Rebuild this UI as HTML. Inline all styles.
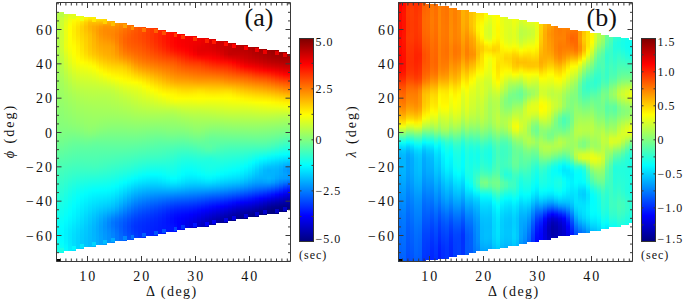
<!DOCTYPE html>
<html><head><meta charset="utf-8"><style>
html,body{margin:0;padding:0;background:#fff}
body{width:685px;height:303px;overflow:hidden;position:relative;font-family:"Liberation Serif",serif}
i{position:absolute;display:block}
.cb{position:absolute;left:299px;top:38px;width:15px;height:204px;box-sizing:border-box;border:1px solid #333;background:linear-gradient(to top,#000080 0.0%,#0000bf 6.2%,#0000ff 12.5%,#0040ff 18.8%,#0080ff 25.0%,#00bfff 31.2%,#00ffff 37.5%,#40ffbf 43.8%,#80ff80 50.0%,#bfff40 56.2%,#ffff00 62.5%,#ffbf00 68.8%,#ff8000 75.0%,#ff4000 81.2%,#ff0000 87.5%,#bf0000 93.8%,#800000 100.0%)}
svg{position:absolute;left:0;top:0}
.t{font-size:14px;fill:#111;letter-spacing:2px}
.p{font-size:26px;fill:#111}
.s{font-size:12px;fill:#111;letter-spacing:1px}
.blk{position:absolute;width:4px;height:2px;background:#000}
</style></head><body>
<i style="left:56px;top:12px;width:4px;height:241px;background:linear-gradient(#b3ff4c -1.5px,#b6ff49 2.5px,#b7ff48 6.5px,#b6ff49 10.5px,#b3ff4c 14.5px,#b0ff4f 18.5px,#b2ff4d 22.5px,#b3ff4c 26.5px,#b2ff4d 30.5px,#b0ff4f 34.5px,#b0ff4f 38.5px,#aeff51 42.5px,#abff54 46.5px,#a7ff58 50.5px,#a5ff5a 54.5px,#a3ff5c 58.5px,#a1ff5e 62.5px,#9eff61 66.5px,#9cff63 70.5px,#9aff65 74.5px,#97ff68 78.5px,#95ff6a 82.5px,#93ff6c 86.5px,#91ff6e 90.5px,#8eff71 94.5px,#8cff73 98.5px,#8aff75 102.5px,#88ff77 106.5px,#86ff79 110.5px,#84ff7b 114.5px,#81ff7e 118.5px,#7dff82 122.5px,#79ff86 126.5px,#73ff8c 130.5px,#6dff92 134.5px,#66ff99 138.5px,#60ff9f 142.5px,#59ffa6 146.5px,#53ffac 150.5px,#4dffb2 154.5px,#48ffb7 158.5px,#43ffbc 162.5px,#3effc1 166.5px,#3affc5 170.5px,#35ffca 174.5px,#31ffce 178.5px,#2cffd3 182.5px,#27ffd8 186.5px,#22ffdd 190.5px,#1dffe2 194.5px,#19ffe6 198.5px,#14ffeb 202.5px,#10ffef 206.5px,#0cfff3 210.5px,#09fff6 214.5px,#07fff8 218.5px,#06fff9 222.5px,#08fff7 226.5px,#0dfff2 230.5px,#13ffec 234.5px,#18ffe7 238.5px,#1cffe3 242.5px)"></i>
<i style="left:60px;top:12px;width:4px;height:241px;background:linear-gradient(#baff45 -1.5px,#c2ff3d 2.5px,#c8ff37 6.5px,#ccff33 10.5px,#cdff32 14.5px,#cdff32 18.5px,#ceff31 22.5px,#ceff31 26.5px,#cfff30 30.5px,#ceff31 34.5px,#cbff34 38.5px,#c6ff39 42.5px,#c1ff3e 46.5px,#bcff43 50.5px,#b7ff48 54.5px,#b2ff4d 58.5px,#aeff51 62.5px,#a9ff56 66.5px,#a5ff5a 70.5px,#a2ff5d 74.5px,#9fff60 78.5px,#9cff63 82.5px,#99ff66 86.5px,#96ff69 90.5px,#93ff6c 94.5px,#90ff6f 98.5px,#8dff72 102.5px,#8bff74 106.5px,#88ff77 110.5px,#85ff7a 114.5px,#81ff7e 118.5px,#7dff82 122.5px,#77ff88 126.5px,#71ff8e 130.5px,#6aff95 134.5px,#64ff9b 138.5px,#5dffa2 142.5px,#57ffa8 146.5px,#50ffaf 150.5px,#4affb5 154.5px,#45ffba 158.5px,#3fffc0 162.5px,#3affc5 166.5px,#34ffcb 170.5px,#2fffd0 174.5px,#2affd5 178.5px,#25ffda 182.5px,#20ffdf 186.5px,#1bffe4 190.5px,#16ffe9 194.5px,#11ffee 198.5px,#0dfff2 202.5px,#08fff7 206.5px,#04fffb 210.5px,#00ffff 214.5px,#00fcff 218.5px,#00fbff 222.5px,#00fdff 226.5px,#01fffe 230.5px,#07fff8 234.5px,#0cfff3 238.5px,#10ffef 242.5px)"></i>
<i style="left:60px;top:13px;width:4px;height:4px;background:#b9ff46"></i>
<i style="left:60px;top:248px;width:4px;height:4px;background:#1cffe3"></i>
<i style="left:64px;top:14px;width:4px;height:237px;background:linear-gradient(#c0ff3f -3.5px,#ceff31 0.5px,#daff25 4.5px,#e3ff1c 8.5px,#e8ff17 12.5px,#ebff14 16.5px,#e9ff16 20.5px,#e9ff16 24.5px,#eaff15 28.5px,#ebff14 32.5px,#e5ff1a 36.5px,#ddff22 40.5px,#d6ff29 44.5px,#d0ff2f 48.5px,#c9ff36 52.5px,#c2ff3d 56.5px,#bbff44 60.5px,#b5ff4a 64.5px,#afff50 68.5px,#aaff55 72.5px,#a6ff59 76.5px,#a2ff5d 80.5px,#9eff61 84.5px,#9aff65 88.5px,#97ff68 92.5px,#94ff6b 96.5px,#91ff6e 100.5px,#8eff71 104.5px,#8aff75 108.5px,#86ff79 112.5px,#81ff7e 116.5px,#7bff84 120.5px,#75ff8a 124.5px,#6eff91 128.5px,#67ff98 132.5px,#61ff9e 136.5px,#5affa5 140.5px,#54ffab 144.5px,#4effb1 148.5px,#47ffb8 152.5px,#41ffbe 156.5px,#3bffc4 160.5px,#35ffca 164.5px,#2fffd0 168.5px,#29ffd6 172.5px,#23ffdc 176.5px,#1dffe2 180.5px,#18ffe7 184.5px,#13ffec 188.5px,#0ffff0 192.5px,#0afff5 196.5px,#06fff9 200.5px,#01fffe 204.5px,#00fbff 208.5px,#00f7ff 212.5px,#00f3ff 216.5px,#00f2ff 220.5px,#00f2ff 224.5px,#00f4ff 228.5px,#00f9ff 232.5px,#00fdff 236.5px,#02fffd 240.5px)"></i>
<i style="left:68px;top:14px;width:4px;height:237px;background:linear-gradient(#c7ff38 -3.5px,#dbff24 0.5px,#ecff13 4.5px,#f7ff08 8.5px,#feff01 12.5px,#fffe00 16.5px,#ffff00 20.5px,#fdff02 24.5px,#fcff03 28.5px,#faff05 32.5px,#f5ff0a 36.5px,#efff10 40.5px,#e8ff17 44.5px,#e1ff1e 48.5px,#d9ff26 52.5px,#d0ff2f 56.5px,#c8ff37 60.5px,#c0ff3f 64.5px,#b9ff46 68.5px,#b2ff4d 72.5px,#adff52 76.5px,#a7ff58 80.5px,#a3ff5c 84.5px,#9fff60 88.5px,#9bff64 92.5px,#97ff68 96.5px,#94ff6b 100.5px,#90ff6f 104.5px,#8dff72 108.5px,#88ff77 112.5px,#82ff7d 116.5px,#7aff85 120.5px,#73ff8c 124.5px,#6bff94 128.5px,#64ff9b 132.5px,#5effa1 136.5px,#58ffa7 140.5px,#52ffad 144.5px,#4cffb3 148.5px,#45ffba 152.5px,#3effc1 156.5px,#38ffc7 160.5px,#31ffce 164.5px,#29ffd6 168.5px,#22ffdd 172.5px,#1bffe4 176.5px,#15ffea 180.5px,#10ffef 184.5px,#0bfff4 188.5px,#07fff8 192.5px,#03fffc 196.5px,#00feff 200.5px,#00f9ff 204.5px,#00f4ff 208.5px,#00efff 212.5px,#00eaff 216.5px,#00e8ff 220.5px,#00e7ff 224.5px,#00e8ff 228.5px,#00ebff 232.5px,#00efff 236.5px,#00f3ff 240.5px)"></i>
<i style="left:72px;top:14px;width:4px;height:237px;background:linear-gradient(#caff35 -3.5px,#e6ff19 0.5px,#faff05 4.5px,#fff700 8.5px,#fff000 12.5px,#ffee00 16.5px,#ffef00 20.5px,#fff200 24.5px,#fff700 28.5px,#fffc00 32.5px,#fffe00 36.5px,#fcff03 40.5px,#f6ff09 44.5px,#efff10 48.5px,#e6ff19 52.5px,#dcff23 56.5px,#d2ff2d 60.5px,#caff35 64.5px,#c2ff3d 68.5px,#baff45 72.5px,#b3ff4c 76.5px,#acff53 80.5px,#a7ff58 84.5px,#a2ff5d 88.5px,#9eff61 92.5px,#9bff64 96.5px,#97ff68 100.5px,#93ff6c 104.5px,#8fff70 108.5px,#8aff75 112.5px,#83ff7c 116.5px,#7aff85 120.5px,#71ff8e 124.5px,#69ff96 128.5px,#62ff9d 132.5px,#5cffa3 136.5px,#56ffa9 140.5px,#50ffaf 144.5px,#4affb5 148.5px,#43ffbc 152.5px,#3cffc3 156.5px,#35ffca 160.5px,#2dffd2 164.5px,#25ffda 168.5px,#1dffe2 172.5px,#15ffea 176.5px,#0efff1 180.5px,#09fff6 184.5px,#04fffb 188.5px,#00feff 192.5px,#00faff 196.5px,#00f6ff 200.5px,#00f2ff 204.5px,#00ecff 208.5px,#00e6ff 212.5px,#00e2ff 216.5px,#00deff 220.5px,#00ddff 224.5px,#00ddff 228.5px,#00dfff 232.5px,#00e3ff 236.5px,#00e6ff 240.5px)"></i>
<i style="left:72px;top:15px;width:4px;height:4px;background:#e2ff1d"></i>
<i style="left:72px;top:246px;width:4px;height:4px;background:#00f8ff"></i>
<i style="left:76px;top:16px;width:4px;height:233px;background:linear-gradient(#e2ff1d -1.5px,#fdff02 2.5px,#ffed00 6.5px,#ffe200 10.5px,#ffdf00 14.5px,#ffe100 18.5px,#ffe600 22.5px,#ffeb00 26.5px,#fff000 30.5px,#fff300 34.5px,#fff700 38.5px,#fffd00 42.5px,#f9ff06 46.5px,#eeff11 50.5px,#e3ff1c 54.5px,#d9ff26 58.5px,#d0ff2f 62.5px,#c7ff38 66.5px,#bfff40 70.5px,#b7ff48 74.5px,#b0ff4f 78.5px,#abff54 82.5px,#a6ff59 86.5px,#a2ff5d 90.5px,#9eff61 94.5px,#9aff65 98.5px,#96ff69 102.5px,#92ff6d 106.5px,#8cff73 110.5px,#85ff7a 114.5px,#7cff83 118.5px,#72ff8d 122.5px,#69ff96 126.5px,#61ff9e 130.5px,#5bffa4 134.5px,#55ffaa 138.5px,#4fffb0 142.5px,#49ffb6 146.5px,#42ffbd 150.5px,#3bffc4 154.5px,#33ffcc 158.5px,#2affd5 162.5px,#21ffde 166.5px,#18ffe7 170.5px,#0ffff0 174.5px,#08fff7 178.5px,#02fffd 182.5px,#00fcff 186.5px,#00f7ff 190.5px,#00f2ff 194.5px,#00eeff 198.5px,#00e9ff 202.5px,#00e3ff 206.5px,#00deff 210.5px,#00d9ff 214.5px,#00d6ff 218.5px,#00d4ff 222.5px,#00d3ff 226.5px,#00d5ff 230.5px,#00d8ff 234.5px)"></i>
<i style="left:80px;top:16px;width:4px;height:233px;background:linear-gradient(#d9ff26 -1.5px,#ffff00 2.5px,#ffe100 6.5px,#ffd300 10.5px,#ffd100 14.5px,#ffd500 18.5px,#ffd900 22.5px,#ffde00 26.5px,#ffe200 30.5px,#ffe500 34.5px,#ffeb00 38.5px,#fff300 42.5px,#ffff00 46.5px,#f3ff0c 50.5px,#e7ff18 54.5px,#ddff22 58.5px,#d3ff2c 62.5px,#caff35 66.5px,#c2ff3d 70.5px,#baff45 74.5px,#b4ff4b 78.5px,#aeff51 82.5px,#a9ff56 86.5px,#a4ff5b 90.5px,#a0ff5f 94.5px,#9cff63 98.5px,#98ff67 102.5px,#94ff6b 106.5px,#8fff70 110.5px,#88ff77 114.5px,#7fff80 118.5px,#74ff8b 122.5px,#6aff95 126.5px,#61ff9e 130.5px,#5affa5 134.5px,#54ffab 138.5px,#4fffb0 142.5px,#48ffb7 146.5px,#42ffbd 150.5px,#3affc5 154.5px,#31ffce 158.5px,#28ffd7 162.5px,#1effe1 166.5px,#14ffeb 170.5px,#0bfff4 174.5px,#03fffc 178.5px,#00fbff 182.5px,#00f5ff 186.5px,#00efff 190.5px,#00eaff 194.5px,#00e5ff 198.5px,#00dfff 202.5px,#00daff 206.5px,#00d5ff 210.5px,#00d0ff 214.5px,#00cdff 218.5px,#00ccff 222.5px,#00cbff 226.5px,#00ccff 230.5px,#00ceff 234.5px)"></i>
<i style="left:80px;top:17px;width:4px;height:4px;background:#edff12"></i>
<i style="left:80px;top:244px;width:4px;height:4px;background:#00e7ff"></i>
<i style="left:84px;top:17px;width:4px;height:230px;background:linear-gradient(#deff21 -2.5px,#fff300 1.5px,#ffd000 5.5px,#ffc200 9.5px,#ffc300 13.5px,#ffc900 17.5px,#ffce00 21.5px,#ffd100 25.5px,#ffd300 29.5px,#ffd700 33.5px,#ffde00 37.5px,#ffea00 41.5px,#fffa00 45.5px,#f6ff09 49.5px,#eaff15 53.5px,#dfff20 57.5px,#d5ff2a 61.5px,#ccff33 65.5px,#c4ff3b 69.5px,#bcff43 73.5px,#b6ff49 77.5px,#b0ff4f 81.5px,#abff54 85.5px,#a6ff59 89.5px,#a2ff5d 93.5px,#9eff61 97.5px,#9aff65 101.5px,#97ff68 105.5px,#92ff6d 109.5px,#8cff73 113.5px,#82ff7d 117.5px,#76ff89 121.5px,#6bff94 125.5px,#62ff9d 129.5px,#5affa5 133.5px,#54ffab 137.5px,#4fffb0 141.5px,#49ffb6 145.5px,#42ffbd 149.5px,#3affc5 153.5px,#30ffcf 157.5px,#26ffd9 161.5px,#1cffe3 165.5px,#11ffee 169.5px,#07fff8 173.5px,#00fdff 177.5px,#00f6ff 181.5px,#00efff 185.5px,#00e8ff 189.5px,#00e2ff 193.5px,#00dbff 197.5px,#00d5ff 201.5px,#00d0ff 205.5px,#00cbff 209.5px,#00c8ff 213.5px,#00c6ff 217.5px,#00c4ff 221.5px,#00c4ff 225.5px,#00c5ff 229.5px,#00c6ff 233.5px)"></i>
<i style="left:88px;top:17px;width:4px;height:230px;background:linear-gradient(#e3ff1c -2.5px,#ffe800 1.5px,#ffbe00 5.5px,#ffb300 9.5px,#ffb600 13.5px,#ffbe00 17.5px,#ffc100 21.5px,#ffc400 25.5px,#ffc600 29.5px,#ffca00 33.5px,#ffd100 37.5px,#ffe100 41.5px,#fff400 45.5px,#faff05 49.5px,#eeff11 53.5px,#e2ff1d 57.5px,#d7ff28 61.5px,#cdff32 65.5px,#c5ff3a 69.5px,#bdff42 73.5px,#b7ff48 77.5px,#b2ff4d 81.5px,#acff53 85.5px,#a7ff58 89.5px,#a3ff5c 93.5px,#9fff60 97.5px,#9bff64 101.5px,#98ff67 105.5px,#94ff6b 109.5px,#8eff71 113.5px,#84ff7b 117.5px,#76ff89 121.5px,#6aff95 125.5px,#61ff9e 129.5px,#5affa5 133.5px,#54ffab 137.5px,#4fffb0 141.5px,#49ffb6 145.5px,#42ffbd 149.5px,#3affc5 153.5px,#30ffcf 157.5px,#25ffda 161.5px,#1affe5 165.5px,#0ffff0 169.5px,#04fffb 173.5px,#00f9ff 177.5px,#00f1ff 181.5px,#00e9ff 185.5px,#00e1ff 189.5px,#00daff 193.5px,#00d2ff 197.5px,#00cbff 201.5px,#00c6ff 205.5px,#00c1ff 209.5px,#00bfff 213.5px,#00beff 217.5px,#00bdff 221.5px,#00bdff 225.5px,#00bdff 229.5px,#00beff 233.5px)"></i>
<i style="left:92px;top:17px;width:4px;height:230px;background:linear-gradient(#e3ff1c -2.5px,#ffea00 1.5px,#ffbe00 5.5px,#ffab00 9.5px,#ffa900 13.5px,#ffaf00 17.5px,#ffb300 21.5px,#ffb700 25.5px,#ffba00 29.5px,#ffbf00 33.5px,#ffc700 37.5px,#ffd700 41.5px,#ffeb00 45.5px,#fffc00 49.5px,#f4ff0b 53.5px,#e7ff18 57.5px,#dbff24 61.5px,#cfff30 65.5px,#c6ff39 69.5px,#beff41 73.5px,#b8ff47 77.5px,#b2ff4d 81.5px,#adff52 85.5px,#a8ff57 89.5px,#a4ff5b 93.5px,#a0ff5f 97.5px,#9cff63 101.5px,#98ff67 105.5px,#93ff6c 109.5px,#8cff73 113.5px,#82ff7d 117.5px,#74ff8b 121.5px,#68ff97 125.5px,#60ff9f 129.5px,#59ffa6 133.5px,#54ffab 137.5px,#4fffb0 141.5px,#49ffb6 145.5px,#43ffbc 149.5px,#3affc5 153.5px,#30ffcf 157.5px,#24ffdb 161.5px,#19ffe6 165.5px,#0dfff2 169.5px,#01fffe 173.5px,#00f6ff 177.5px,#00edff 181.5px,#00e4ff 185.5px,#00dbff 189.5px,#00d2ff 193.5px,#00c9ff 197.5px,#00c1ff 201.5px,#00bbff 205.5px,#00b7ff 209.5px,#00b5ff 213.5px,#00b5ff 217.5px,#00b6ff 221.5px,#00b6ff 225.5px,#00b6ff 229.5px,#00b6ff 233.5px)"></i>
<i style="left:92px;top:18px;width:4px;height:4px;background:#ffeb00"></i>
<i style="left:92px;top:242px;width:4px;height:4px;background:#00d4ff"></i>
<i style="left:96px;top:19px;width:3px;height:226px;background:linear-gradient(#ffec00 -0.5px,#ffbf00 3.5px,#ffa400 7.5px,#ff9d00 11.5px,#ffa000 15.5px,#ffa600 19.5px,#ffab00 23.5px,#ffb000 27.5px,#ffb600 31.5px,#ffbf00 35.5px,#ffcd00 39.5px,#ffe000 43.5px,#fff200 47.5px,#fcff03 51.5px,#edff12 55.5px,#dfff20 59.5px,#d2ff2d 63.5px,#c7ff38 67.5px,#beff41 71.5px,#b8ff47 75.5px,#b2ff4d 79.5px,#adff52 83.5px,#a9ff56 87.5px,#a4ff5b 91.5px,#a0ff5f 95.5px,#9cff63 99.5px,#97ff68 103.5px,#91ff6e 107.5px,#89ff76 111.5px,#7fff80 115.5px,#72ff8d 119.5px,#67ff98 123.5px,#5fffa0 127.5px,#59ffa6 131.5px,#54ffab 135.5px,#4effb1 139.5px,#49ffb6 143.5px,#42ffbd 147.5px,#39ffc6 151.5px,#2fffd0 155.5px,#23ffdc 159.5px,#18ffe7 163.5px,#0cfff3 167.5px,#00ffff 171.5px,#00f4ff 175.5px,#00eaff 179.5px,#00e1ff 183.5px,#00d6ff 187.5px,#00cbff 191.5px,#00c0ff 195.5px,#00b7ff 199.5px,#00b0ff 203.5px,#00acff 207.5px,#00abff 211.5px,#00acff 215.5px,#00adff 219.5px,#00adff 223.5px,#00adff 227.5px)"></i>
<i style="left:99px;top:19px;width:4px;height:226px;background:linear-gradient(#ffeb00 -0.5px,#ffbb00 3.5px,#ff9b00 7.5px,#ff9200 11.5px,#ff9400 15.5px,#ff9b00 19.5px,#ffa200 23.5px,#ffa900 27.5px,#ffaf00 31.5px,#ffb700 35.5px,#ffc400 39.5px,#ffd500 43.5px,#ffe700 47.5px,#fff900 51.5px,#f4ff0b 55.5px,#e4ff1b 59.5px,#d5ff2a 63.5px,#c9ff36 67.5px,#bfff40 71.5px,#b8ff47 75.5px,#b2ff4d 79.5px,#adff52 83.5px,#a9ff56 87.5px,#a4ff5b 91.5px,#a0ff5f 95.5px,#9bff64 99.5px,#95ff6a 103.5px,#8fff70 107.5px,#87ff78 111.5px,#7cff83 115.5px,#72ff8d 119.5px,#68ff97 123.5px,#60ff9f 127.5px,#59ffa6 131.5px,#53ffac 135.5px,#4dffb2 139.5px,#47ffb8 143.5px,#40ffbf 147.5px,#37ffc8 151.5px,#2dffd2 155.5px,#22ffdd 159.5px,#17ffe8 163.5px,#0bfff4 167.5px,#00feff 171.5px,#00f3ff 175.5px,#00e9ff 179.5px,#00ddff 183.5px,#00d2ff 187.5px,#00c5ff 191.5px,#00b7ff 195.5px,#00acff 199.5px,#00a4ff 203.5px,#00a0ff 207.5px,#00a0ff 211.5px,#00a2ff 215.5px,#00a4ff 219.5px,#00a4ff 223.5px,#00a5ff 227.5px)"></i>
<i style="left:103px;top:19px;width:4px;height:226px;background:linear-gradient(#ffe300 -0.5px,#ffb200 3.5px,#ff9200 7.5px,#ff8b00 11.5px,#ff8d00 15.5px,#ff9400 19.5px,#ff9d00 23.5px,#ffa500 27.5px,#ffaa00 31.5px,#ffb000 35.5px,#ffbd00 39.5px,#ffcd00 43.5px,#ffdf00 47.5px,#fff100 51.5px,#fcff03 55.5px,#eaff15 59.5px,#d9ff26 63.5px,#cbff34 67.5px,#c0ff3f 71.5px,#b8ff47 75.5px,#b2ff4d 79.5px,#aeff51 83.5px,#a9ff56 87.5px,#a5ff5a 91.5px,#a0ff5f 95.5px,#9aff65 99.5px,#94ff6b 103.5px,#8dff72 107.5px,#85ff7a 111.5px,#7bff84 115.5px,#71ff8e 119.5px,#68ff97 123.5px,#60ff9f 127.5px,#59ffa6 131.5px,#52ffad 135.5px,#4cffb3 139.5px,#45ffba 143.5px,#3effc1 147.5px,#35ffca 151.5px,#2bffd4 155.5px,#20ffdf 159.5px,#15ffea 163.5px,#0afff5 167.5px,#00fdff 171.5px,#00f2ff 175.5px,#00e6ff 179.5px,#00daff 183.5px,#00cdff 187.5px,#00beff 191.5px,#00aeff 195.5px,#009fff 199.5px,#0096ff 203.5px,#0093ff 207.5px,#0095ff 211.5px,#0098ff 215.5px,#009aff 219.5px,#009bff 223.5px,#009bff 227.5px)"></i>
<i style="left:103px;top:20px;width:4px;height:4px;background:#ffd200"></i>
<i style="left:103px;top:240px;width:4px;height:4px;background:#00bdff"></i>
<i style="left:107px;top:21px;width:4px;height:222px;background:linear-gradient(#ffd300 -2.5px,#ffad00 1.5px,#ff9300 5.5px,#ff8900 9.5px,#ff8900 13.5px,#ff9000 17.5px,#ff9a00 21.5px,#ffa300 25.5px,#ffa800 29.5px,#ffad00 33.5px,#ffb700 37.5px,#ffc700 41.5px,#ffd800 45.5px,#ffea00 49.5px,#fffb00 53.5px,#f1ff0e 57.5px,#deff21 61.5px,#ceff31 65.5px,#c1ff3e 69.5px,#b9ff46 73.5px,#b4ff4b 77.5px,#afff50 81.5px,#aaff55 85.5px,#a5ff5a 89.5px,#a0ff5f 93.5px,#9aff65 97.5px,#93ff6c 101.5px,#8cff73 105.5px,#83ff7c 109.5px,#7aff85 113.5px,#71ff8e 117.5px,#68ff97 121.5px,#60ff9f 125.5px,#59ffa6 129.5px,#52ffad 133.5px,#4bffb4 137.5px,#44ffbb 141.5px,#3bffc4 145.5px,#33ffcc 149.5px,#29ffd6 153.5px,#1effe1 157.5px,#13ffec 161.5px,#08fff7 165.5px,#00fbff 169.5px,#00efff 173.5px,#00e3ff 177.5px,#00d6ff 181.5px,#00c8ff 185.5px,#00b7ff 189.5px,#00a3ff 193.5px,#0091ff 197.5px,#0086ff 201.5px,#0085ff 205.5px,#008aff 209.5px,#008eff 213.5px,#0090ff 217.5px,#0091ff 221.5px,#0091ff 225.5px)"></i>
<i style="left:111px;top:21px;width:4px;height:222px;background:linear-gradient(#ffc600 -2.5px,#ffa800 1.5px,#ff9300 5.5px,#ff8800 9.5px,#ff8500 13.5px,#ff8900 17.5px,#ff9300 21.5px,#ff9e00 25.5px,#ffa200 29.5px,#ffa700 33.5px,#ffb200 37.5px,#ffc100 41.5px,#ffd400 45.5px,#ffe500 49.5px,#fff500 53.5px,#f7ff08 57.5px,#e4ff1b 61.5px,#d2ff2d 65.5px,#c4ff3b 69.5px,#bcff43 73.5px,#b6ff49 77.5px,#b1ff4e 81.5px,#acff53 85.5px,#a6ff59 89.5px,#a0ff5f 93.5px,#9aff65 97.5px,#93ff6c 101.5px,#8bff74 105.5px,#83ff7c 109.5px,#7aff85 113.5px,#71ff8e 117.5px,#68ff97 121.5px,#60ff9f 125.5px,#58ffa7 129.5px,#51ffae 133.5px,#4affb5 137.5px,#42ffbd 141.5px,#39ffc6 145.5px,#30ffcf 149.5px,#26ffd9 153.5px,#1bffe4 157.5px,#0ffff0 161.5px,#04fffb 165.5px,#00f7ff 169.5px,#00eaff 173.5px,#00ddff 177.5px,#00cfff 181.5px,#00c1ff 185.5px,#00afff 189.5px,#0098ff 193.5px,#0083ff 197.5px,#0076ff 201.5px,#0077ff 205.5px,#007eff 209.5px,#0083ff 213.5px,#0085ff 217.5px,#0086ff 221.5px,#0086ff 225.5px)"></i>
<i style="left:111px;top:22px;width:4px;height:4px;background:#ffbf00"></i>
<i style="left:111px;top:238px;width:4px;height:4px;background:#00abff"></i>
<i style="left:115px;top:23px;width:4px;height:218px;background:linear-gradient(#ff9f00 -0.5px,#ff8d00 3.5px,#ff8100 7.5px,#ff7c00 11.5px,#ff7e00 15.5px,#ff8400 19.5px,#ff8d00 23.5px,#ff9400 27.5px,#ff9c00 31.5px,#ffaa00 35.5px,#ffbd00 39.5px,#ffd100 43.5px,#ffe200 47.5px,#fff200 51.5px,#fcff03 55.5px,#eaff15 59.5px,#d9ff26 63.5px,#caff35 67.5px,#c0ff3f 71.5px,#b9ff46 75.5px,#b3ff4c 79.5px,#adff52 83.5px,#a7ff58 87.5px,#a1ff5e 91.5px,#9aff65 95.5px,#93ff6c 99.5px,#8bff74 103.5px,#83ff7c 107.5px,#7aff85 111.5px,#71ff8e 115.5px,#68ff97 119.5px,#60ff9f 123.5px,#58ffa7 127.5px,#50ffaf 131.5px,#48ffb7 135.5px,#40ffbf 139.5px,#37ffc8 143.5px,#2dffd2 147.5px,#22ffdd 151.5px,#17ffe8 155.5px,#0bfff4 159.5px,#00fdff 163.5px,#00f0ff 167.5px,#00e2ff 171.5px,#00d3ff 175.5px,#00c4ff 179.5px,#00b5ff 183.5px,#00a2ff 187.5px,#008bff 191.5px,#0077ff 195.5px,#006bff 199.5px,#006aff 203.5px,#0070ff 207.5px,#0075ff 211.5px,#0078ff 215.5px,#0079ff 219.5px)"></i>
<i style="left:119px;top:23px;width:4px;height:218px;background:linear-gradient(#ff9400 -0.5px,#ff8300 3.5px,#ff7800 7.5px,#ff7100 11.5px,#ff7000 15.5px,#ff7200 19.5px,#ff7a00 23.5px,#ff8200 27.5px,#ff8d00 31.5px,#ff9f00 35.5px,#ffb700 39.5px,#ffcf00 43.5px,#ffe000 47.5px,#ffee00 51.5px,#fffd00 55.5px,#f1ff0e 59.5px,#dfff20 63.5px,#d0ff2f 67.5px,#c5ff3a 71.5px,#bdff42 75.5px,#b6ff49 79.5px,#afff50 83.5px,#a9ff56 87.5px,#a2ff5d 91.5px,#9bff64 95.5px,#93ff6c 99.5px,#8bff74 103.5px,#83ff7c 107.5px,#7aff85 111.5px,#71ff8e 115.5px,#68ff97 119.5px,#60ff9f 123.5px,#58ffa7 127.5px,#4fffb0 131.5px,#47ffb8 135.5px,#3effc1 139.5px,#35ffca 143.5px,#2affd5 147.5px,#1fffe0 151.5px,#12ffed 155.5px,#05fffa 159.5px,#00f5ff 163.5px,#00e6ff 167.5px,#00d7ff 171.5px,#00c7ff 175.5px,#00b7ff 179.5px,#00a5ff 183.5px,#0092ff 187.5px,#007eff 191.5px,#006cff 195.5px,#0061ff 199.5px,#005eff 203.5px,#0061ff 207.5px,#0066ff 211.5px,#006aff 215.5px,#006dff 219.5px)"></i>
<i style="left:123px;top:23px;width:4px;height:218px;background:linear-gradient(#ff8900 -0.5px,#ff7900 3.5px,#ff6e00 7.5px,#ff6700 11.5px,#ff6300 15.5px,#ff6400 19.5px,#ff6b00 23.5px,#ff7400 27.5px,#ff8100 31.5px,#ff9500 35.5px,#ffae00 39.5px,#ffc700 43.5px,#ffda00 47.5px,#ffe900 51.5px,#fff800 55.5px,#f5ff0a 59.5px,#e4ff1b 63.5px,#d6ff29 67.5px,#caff35 71.5px,#c0ff3f 75.5px,#b9ff46 79.5px,#b2ff4d 83.5px,#abff54 87.5px,#a3ff5c 91.5px,#9cff63 95.5px,#94ff6b 99.5px,#8cff73 103.5px,#83ff7c 107.5px,#7aff85 111.5px,#71ff8e 115.5px,#68ff97 119.5px,#60ff9f 123.5px,#57ffa8 127.5px,#4effb1 131.5px,#45ffba 135.5px,#3cffc3 139.5px,#32ffcd 143.5px,#27ffd8 147.5px,#1bffe4 151.5px,#0dfff2 155.5px,#00fdff 159.5px,#00edff 163.5px,#00dcff 167.5px,#00cbff 171.5px,#00baff 175.5px,#00a8ff 179.5px,#0096ff 183.5px,#0083ff 187.5px,#0070ff 191.5px,#0060ff 195.5px,#0055ff 199.5px,#0051ff 203.5px,#0053ff 207.5px,#0058ff 211.5px,#005dff 215.5px,#0060ff 219.5px)"></i>
<i style="left:123px;top:24px;width:4px;height:4px;background:#ffa100"></i>
<i style="left:123px;top:236px;width:4px;height:4px;background:#0088ff"></i>
<i style="left:127px;top:25px;width:4px;height:215px;background:linear-gradient(#ff7e00 -2.5px,#ff6f00 1.5px,#ff6500 5.5px,#ff5e00 9.5px,#ff5b00 13.5px,#ff5c00 17.5px,#ff6200 21.5px,#ff6c00 25.5px,#ff7900 29.5px,#ff8c00 33.5px,#ffa300 37.5px,#ffbb00 41.5px,#ffd000 45.5px,#ffe200 49.5px,#fff400 53.5px,#f9ff06 57.5px,#e8ff17 61.5px,#daff25 65.5px,#ceff31 69.5px,#c4ff3b 73.5px,#bcff43 77.5px,#b4ff4b 81.5px,#adff52 85.5px,#a5ff5a 89.5px,#9dff62 93.5px,#95ff6a 97.5px,#8dff72 101.5px,#84ff7b 105.5px,#7bff84 109.5px,#71ff8e 113.5px,#68ff97 117.5px,#5fffa0 121.5px,#56ffa9 125.5px,#4dffb2 129.5px,#44ffbb 133.5px,#3affc5 137.5px,#30ffcf 141.5px,#24ffdb 145.5px,#17ffe8 149.5px,#08fff7 153.5px,#00f6ff 157.5px,#00e4ff 161.5px,#00d2ff 165.5px,#00bfff 169.5px,#00adff 173.5px,#009bff 177.5px,#0088ff 181.5px,#0075ff 185.5px,#0063ff 189.5px,#0054ff 193.5px,#0049ff 197.5px,#0045ff 201.5px,#0047ff 205.5px,#004cff 209.5px,#0051ff 213.5px,#0055ff 217.5px)"></i>
<i style="left:131px;top:25px;width:3px;height:215px;background:linear-gradient(#ff7300 -2.5px,#ff6600 1.5px,#ff5d00 5.5px,#ff5700 9.5px,#ff5500 13.5px,#ff5800 17.5px,#ff5d00 21.5px,#ff6600 25.5px,#ff7300 29.5px,#ff8300 33.5px,#ff9700 37.5px,#ffae00 41.5px,#ffc400 45.5px,#ffda00 49.5px,#ffee00 53.5px,#fcff03 57.5px,#ebff14 61.5px,#ddff22 65.5px,#d2ff2d 69.5px,#c8ff37 73.5px,#c0ff3f 77.5px,#b7ff48 81.5px,#afff50 85.5px,#a7ff58 89.5px,#9fff60 93.5px,#96ff69 97.5px,#8dff72 101.5px,#84ff7b 105.5px,#7bff84 109.5px,#71ff8e 113.5px,#68ff97 117.5px,#5effa1 121.5px,#55ffaa 125.5px,#4cffb3 129.5px,#42ffbd 133.5px,#38ffc7 137.5px,#2dffd2 141.5px,#21ffde 145.5px,#13ffec 149.5px,#03fffc 153.5px,#00f0ff 157.5px,#00dcff 161.5px,#00c8ff 165.5px,#00b4ff 169.5px,#00a1ff 173.5px,#008eff 177.5px,#007bff 181.5px,#0069ff 185.5px,#0058ff 189.5px,#0049ff 193.5px,#003fff 197.5px,#0039ff 201.5px,#003cff 205.5px,#0042ff 209.5px,#0046ff 213.5px,#004aff 217.5px)"></i>
<i style="left:131px;top:26px;width:3px;height:4px;background:#ff8d00"></i>
<i style="left:131px;top:235px;width:3px;height:4px;background:#0073ff"></i>
<i style="left:134px;top:27px;width:4px;height:211px;background:linear-gradient(#ff5e00 -0.5px,#ff5600 3.5px,#ff5100 7.5px,#ff5100 11.5px,#ff5400 15.5px,#ff5a00 19.5px,#ff6200 23.5px,#ff6c00 27.5px,#ff7b00 31.5px,#ff8c00 35.5px,#ffa200 39.5px,#ffb900 43.5px,#ffd100 47.5px,#ffe800 51.5px,#fffe00 55.5px,#eeff11 59.5px,#e0ff1f 63.5px,#d6ff29 67.5px,#ccff33 71.5px,#c3ff3c 75.5px,#baff45 79.5px,#b2ff4d 83.5px,#a9ff56 87.5px,#a0ff5f 91.5px,#97ff68 95.5px,#8eff71 99.5px,#85ff7a 103.5px,#7bff84 107.5px,#71ff8e 111.5px,#67ff98 115.5px,#5dffa2 119.5px,#54ffab 123.5px,#4affb5 127.5px,#40ffbf 131.5px,#35ffca 135.5px,#29ffd6 139.5px,#1dffe2 143.5px,#0efff1 147.5px,#00fcff 151.5px,#00e9ff 155.5px,#00d5ff 159.5px,#00c0ff 163.5px,#00acff 167.5px,#0098ff 171.5px,#0084ff 175.5px,#0071ff 179.5px,#005fff 183.5px,#004fff 187.5px,#0041ff 191.5px,#0037ff 195.5px,#0032ff 199.5px,#0033ff 203.5px,#0038ff 207.5px,#003cff 211.5px)"></i>
<i style="left:138px;top:27px;width:4px;height:211px;background:linear-gradient(#ff5500 -0.5px,#ff4e00 3.5px,#ff4b00 7.5px,#ff4b00 11.5px,#ff4f00 15.5px,#ff5600 19.5px,#ff5d00 23.5px,#ff6600 27.5px,#ff7300 31.5px,#ff8300 35.5px,#ff9700 39.5px,#ffaf00 43.5px,#ffc800 47.5px,#ffe100 51.5px,#fff900 55.5px,#f2ff0d 59.5px,#e5ff1a 63.5px,#daff25 67.5px,#d1ff2e 71.5px,#c7ff38 75.5px,#bdff42 79.5px,#b4ff4b 83.5px,#aaff55 87.5px,#a1ff5e 91.5px,#97ff68 95.5px,#8eff71 99.5px,#84ff7b 103.5px,#7aff85 107.5px,#70ff8f 111.5px,#66ff99 115.5px,#5cffa3 119.5px,#52ffad 123.5px,#48ffb7 127.5px,#3effc1 131.5px,#32ffcd 135.5px,#26ffd9 139.5px,#19ffe6 143.5px,#09fff6 147.5px,#00f7ff 151.5px,#00e4ff 155.5px,#00cfff 159.5px,#00baff 163.5px,#00a5ff 167.5px,#0090ff 171.5px,#007cff 175.5px,#0068ff 179.5px,#0057ff 183.5px,#0047ff 187.5px,#003bff 191.5px,#0032ff 195.5px,#002eff 199.5px,#002eff 203.5px,#0030ff 207.5px,#0034ff 211.5px)"></i>
<i style="left:142px;top:27px;width:4px;height:211px;background:linear-gradient(#ff4d00 -0.5px,#ff4700 3.5px,#ff4400 7.5px,#ff4500 11.5px,#ff4800 15.5px,#ff4f00 19.5px,#ff5600 23.5px,#ff6000 27.5px,#ff6c00 31.5px,#ff7c00 35.5px,#ff9000 39.5px,#ffa700 43.5px,#ffc000 47.5px,#ffd900 51.5px,#fff000 55.5px,#fbff04 59.5px,#ecff13 63.5px,#e0ff1f 67.5px,#d5ff2a 71.5px,#caff35 75.5px,#c0ff3f 79.5px,#b5ff4a 83.5px,#abff54 87.5px,#a1ff5e 91.5px,#97ff68 95.5px,#8dff72 99.5px,#83ff7c 103.5px,#79ff86 107.5px,#6fff90 111.5px,#64ff9b 115.5px,#5bffa4 119.5px,#51ffae 123.5px,#47ffb8 127.5px,#3cffc3 131.5px,#30ffcf 135.5px,#23ffdc 139.5px,#15ffea 143.5px,#05fffa 147.5px,#00f3ff 151.5px,#00e0ff 155.5px,#00cbff 159.5px,#00b5ff 163.5px,#009fff 167.5px,#008aff 171.5px,#0075ff 175.5px,#0062ff 179.5px,#0050ff 183.5px,#0041ff 187.5px,#0036ff 191.5px,#002eff 195.5px,#002aff 199.5px,#0029ff 203.5px,#002aff 207.5px,#002cff 211.5px)"></i>
<i style="left:142px;top:28px;width:4px;height:4px;background:#ff7600"></i>
<i style="left:142px;top:233px;width:4px;height:4px;background:#005dff"></i>
<i style="left:146px;top:28px;width:4px;height:208px;background:linear-gradient(#ff4400 -1.5px,#ff3f00 2.5px,#ff3c00 6.5px,#ff3d00 10.5px,#ff4000 14.5px,#ff4600 18.5px,#ff4f00 22.5px,#ff5900 26.5px,#ff6600 30.5px,#ff7600 34.5px,#ff8a00 38.5px,#ffa000 42.5px,#ffb800 46.5px,#ffd000 50.5px,#ffe600 54.5px,#fffa00 58.5px,#f4ff0b 62.5px,#e6ff19 66.5px,#d9ff26 70.5px,#cdff32 74.5px,#c2ff3d 78.5px,#b7ff48 82.5px,#acff53 86.5px,#a1ff5e 90.5px,#97ff68 94.5px,#8dff72 98.5px,#82ff7d 102.5px,#77ff88 106.5px,#6dff92 110.5px,#63ff9c 114.5px,#59ffa6 118.5px,#4fffb0 122.5px,#45ffba 126.5px,#3affc5 130.5px,#2effd1 134.5px,#20ffdf 138.5px,#12ffed 142.5px,#02fffd 146.5px,#00f0ff 150.5px,#00ddff 154.5px,#00c8ff 158.5px,#00b1ff 162.5px,#009bff 166.5px,#0085ff 170.5px,#006fff 174.5px,#005cff 178.5px,#004bff 182.5px,#003cff 186.5px,#0031ff 190.5px,#002aff 194.5px,#0026ff 198.5px,#0025ff 202.5px,#0025ff 206.5px,#0026ff 210.5px)"></i>
<i style="left:150px;top:28px;width:4px;height:208px;background:linear-gradient(#ff3b00 -1.5px,#ff3600 2.5px,#ff3400 6.5px,#ff3400 10.5px,#ff3800 14.5px,#ff3e00 18.5px,#ff4700 22.5px,#ff5200 26.5px,#ff6000 30.5px,#ff7100 34.5px,#ff8400 38.5px,#ff9900 42.5px,#ffb000 46.5px,#ffc700 50.5px,#ffdc00 54.5px,#fff000 58.5px,#fcff03 62.5px,#edff12 66.5px,#deff21 70.5px,#d1ff2e 74.5px,#c4ff3b 78.5px,#b8ff47 82.5px,#acff53 86.5px,#a1ff5e 90.5px,#96ff69 94.5px,#8cff73 98.5px,#81ff7e 102.5px,#76ff89 106.5px,#6bff94 110.5px,#61ff9e 114.5px,#57ffa8 118.5px,#4dffb2 122.5px,#44ffbb 126.5px,#39ffc6 130.5px,#2cffd3 134.5px,#1effe1 138.5px,#10ffef 142.5px,#00ffff 146.5px,#00eeff 150.5px,#00dbff 154.5px,#00c6ff 158.5px,#00afff 162.5px,#0098ff 166.5px,#0080ff 170.5px,#006aff 174.5px,#0056ff 178.5px,#0045ff 182.5px,#0037ff 186.5px,#002dff 190.5px,#0026ff 194.5px,#0023ff 198.5px,#0021ff 202.5px,#0021ff 206.5px,#0021ff 210.5px)"></i>
<i style="left:154px;top:28px;width:4px;height:208px;background:linear-gradient(#ff3200 -1.5px,#ff2e00 2.5px,#ff2b00 6.5px,#ff2b00 10.5px,#ff2e00 14.5px,#ff3500 18.5px,#ff3e00 22.5px,#ff4b00 26.5px,#ff5a00 30.5px,#ff6c00 34.5px,#ff7f00 38.5px,#ff9300 42.5px,#ffa800 46.5px,#ffbe00 50.5px,#ffd300 54.5px,#ffe800 58.5px,#fffa00 62.5px,#f3ff0c 66.5px,#e4ff1b 70.5px,#d5ff2a 74.5px,#c7ff38 78.5px,#b9ff46 82.5px,#acff53 86.5px,#a1ff5e 90.5px,#96ff69 94.5px,#8bff74 98.5px,#80ff7f 102.5px,#75ff8a 106.5px,#69ff96 110.5px,#5fffa0 114.5px,#55ffaa 118.5px,#4cffb3 122.5px,#43ffbc 126.5px,#38ffc7 130.5px,#2bffd4 134.5px,#1dffe2 138.5px,#0ffff0 142.5px,#00ffff 146.5px,#00eeff 150.5px,#00dbff 154.5px,#00c6ff 158.5px,#00aeff 162.5px,#0095ff 166.5px,#007dff 170.5px,#0066ff 174.5px,#0051ff 178.5px,#003fff 182.5px,#0032ff 186.5px,#0028ff 190.5px,#0023ff 194.5px,#0020ff 198.5px,#001eff 202.5px,#001eff 206.5px,#001dff 210.5px)"></i>
<i style="left:154px;top:29px;width:4px;height:4px;background:#ff5f00"></i>
<i style="left:154px;top:231px;width:4px;height:4px;background:#0053ff"></i>
<i style="left:158px;top:30px;width:4px;height:204px;background:linear-gradient(#ff2a00 -3.5px,#ff2500 0.5px,#ff2200 4.5px,#ff2200 8.5px,#ff2500 12.5px,#ff2b00 16.5px,#ff3600 20.5px,#ff4400 24.5px,#ff5400 28.5px,#ff6600 32.5px,#ff7900 36.5px,#ff8d00 40.5px,#ffa100 44.5px,#ffb600 48.5px,#ffcb00 52.5px,#ffe000 56.5px,#fff300 60.5px,#f9ff06 64.5px,#e9ff16 68.5px,#d9ff26 72.5px,#c9ff36 76.5px,#baff45 80.5px,#acff53 84.5px,#a1ff5e 88.5px,#96ff69 92.5px,#8bff74 96.5px,#81ff7e 100.5px,#75ff8a 104.5px,#69ff96 108.5px,#5dffa2 112.5px,#54ffab 116.5px,#4bffb4 120.5px,#42ffbd 124.5px,#37ffc8 128.5px,#2bffd4 132.5px,#1dffe2 136.5px,#0ffff0 140.5px,#01fffe 144.5px,#00f1ff 148.5px,#00deff 152.5px,#00c7ff 156.5px,#00aeff 160.5px,#0093ff 164.5px,#0079ff 168.5px,#0061ff 172.5px,#004bff 176.5px,#0039ff 180.5px,#002cff 184.5px,#0023ff 188.5px,#001eff 192.5px,#001cff 196.5px,#001bff 200.5px,#001aff 204.5px)"></i>
<i style="left:162px;top:30px;width:4px;height:204px;background:linear-gradient(#ff2100 -3.5px,#ff1c00 0.5px,#ff1900 4.5px,#ff1800 8.5px,#ff1b00 12.5px,#ff2100 16.5px,#ff2c00 20.5px,#ff3c00 24.5px,#ff4e00 28.5px,#ff6200 32.5px,#ff7400 36.5px,#ff8600 40.5px,#ff9900 44.5px,#ffad00 48.5px,#ffc200 52.5px,#ffd800 56.5px,#ffed00 60.5px,#ffff00 64.5px,#eeff11 68.5px,#ddff22 72.5px,#cbff34 76.5px,#baff45 80.5px,#acff53 84.5px,#a0ff5f 88.5px,#96ff69 92.5px,#8cff73 96.5px,#82ff7d 100.5px,#76ff89 104.5px,#6aff95 108.5px,#5effa1 112.5px,#53ffac 116.5px,#49ffb6 120.5px,#40ffbf 124.5px,#35ffca 128.5px,#2affd5 132.5px,#1dffe2 136.5px,#11ffee 140.5px,#05fffa 144.5px,#00f5ff 148.5px,#00e2ff 152.5px,#00caff 156.5px,#00aeff 160.5px,#0092ff 164.5px,#0076ff 168.5px,#005cff 172.5px,#0045ff 176.5px,#0033ff 180.5px,#0025ff 184.5px,#001dff 188.5px,#0019ff 192.5px,#0019ff 196.5px,#0019ff 200.5px,#0017ff 204.5px)"></i>
<i style="left:162px;top:31px;width:4px;height:4px;background:#ff4f00"></i>
<i style="left:162px;top:229px;width:4px;height:4px;background:#004eff"></i>
<i style="left:166px;top:32px;width:4px;height:200px;background:linear-gradient(#ff1500 -1.5px,#ff1100 2.5px,#ff1000 6.5px,#ff1100 10.5px,#ff1700 14.5px,#ff2200 18.5px,#ff3400 22.5px,#ff4900 26.5px,#ff5d00 30.5px,#ff7000 34.5px,#ff8100 38.5px,#ff9200 42.5px,#ffa500 46.5px,#ffba00 50.5px,#ffd200 54.5px,#ffe900 58.5px,#fffb00 62.5px,#f4ff0b 66.5px,#e2ff1d 70.5px,#ceff31 74.5px,#bbff44 78.5px,#abff54 82.5px,#a0ff5f 86.5px,#96ff69 90.5px,#8dff72 94.5px,#84ff7b 98.5px,#78ff87 102.5px,#6bff94 106.5px,#5effa1 110.5px,#52ffad 114.5px,#47ffb8 118.5px,#3dffc2 122.5px,#33ffcc 126.5px,#28ffd7 130.5px,#1effe1 134.5px,#14ffeb 138.5px,#09fff6 142.5px,#00faff 146.5px,#00e6ff 150.5px,#00cdff 154.5px,#00afff 158.5px,#0090ff 162.5px,#0072ff 166.5px,#0057ff 170.5px,#003fff 174.5px,#002bff 178.5px,#001dff 182.5px,#0015ff 186.5px,#0013ff 190.5px,#0015ff 194.5px,#0016ff 198.5px,#0014ff 202.5px)"></i>
<i style="left:170px;top:32px;width:4px;height:200px;background:linear-gradient(#ff0e00 -1.5px,#ff0a00 2.5px,#ff0800 6.5px,#ff0800 10.5px,#ff0c00 14.5px,#ff1800 18.5px,#ff2d00 22.5px,#ff4500 26.5px,#ff5a00 30.5px,#ff6b00 34.5px,#ff7b00 38.5px,#ff8b00 42.5px,#ff9e00 46.5px,#ffb300 50.5px,#ffcc00 54.5px,#ffe700 58.5px,#fff900 62.5px,#faff05 66.5px,#e8ff17 70.5px,#cfff30 74.5px,#baff45 78.5px,#abff54 82.5px,#a0ff5f 86.5px,#96ff69 90.5px,#8eff71 94.5px,#85ff7a 98.5px,#79ff86 102.5px,#6cff93 106.5px,#5effa1 110.5px,#51ffae 114.5px,#45ffba 118.5px,#3affc5 122.5px,#30ffcf 126.5px,#26ffd9 130.5px,#1dffe2 134.5px,#15ffea 138.5px,#0cfff3 142.5px,#00ffff 146.5px,#00ebff 150.5px,#00cfff 154.5px,#00afff 158.5px,#008fff 162.5px,#006fff 166.5px,#0052ff 170.5px,#0039ff 174.5px,#0024ff 178.5px,#0015ff 182.5px,#000dff 186.5px,#000cff 190.5px,#0011ff 194.5px,#0013ff 198.5px,#000fff 202.5px)"></i>
<i style="left:174px;top:32px;width:3px;height:200px;background:linear-gradient(#ff0800 -1.5px,#ff0400 2.5px,#ff0100 6.5px,#ff0100 10.5px,#ff0500 14.5px,#ff1000 18.5px,#ff2500 22.5px,#ff3f00 26.5px,#ff5500 30.5px,#ff6600 34.5px,#ff7500 38.5px,#ff8600 42.5px,#ff9800 46.5px,#ffad00 50.5px,#ffc800 54.5px,#ffe500 58.5px,#fff600 62.5px,#ffff00 66.5px,#ecff13 70.5px,#d1ff2e 74.5px,#bcff43 78.5px,#adff52 82.5px,#a1ff5e 86.5px,#97ff68 90.5px,#8eff71 94.5px,#84ff7b 98.5px,#79ff86 102.5px,#6bff94 106.5px,#5dffa2 110.5px,#4fffb0 114.5px,#42ffbd 118.5px,#37ffc8 122.5px,#2cffd3 126.5px,#22ffdd 130.5px,#1affe5 134.5px,#12ffed 138.5px,#0bfff4 142.5px,#00ffff 146.5px,#00ebff 150.5px,#00ceff 154.5px,#00aeff 158.5px,#008cff 162.5px,#006cff 166.5px,#004eff 170.5px,#0034ff 174.5px,#001fff 178.5px,#000fff 182.5px,#0006ff 186.5px,#0005ff 190.5px,#000bff 194.5px,#000cff 198.5px,#0007ff 202.5px)"></i>
<i style="left:174px;top:33px;width:3px;height:4px;background:#ff3c00"></i>
<i style="left:174px;top:227px;width:3px;height:4px;background:#0044ff"></i>
<i style="left:177px;top:34px;width:4px;height:196px;background:linear-gradient(#ff0300 -3.5px,#fe0000 0.5px,#fb0000 4.5px,#fb0000 8.5px,#ff0000 12.5px,#ff0b00 16.5px,#ff1e00 20.5px,#ff3600 24.5px,#ff4c00 28.5px,#ff5f00 32.5px,#ff7000 36.5px,#ff8200 40.5px,#ff9500 44.5px,#ffab00 48.5px,#ffc500 52.5px,#ffdf00 56.5px,#fff200 60.5px,#fdff02 64.5px,#ebff14 68.5px,#d4ff2b 72.5px,#bfff40 76.5px,#b0ff4f 80.5px,#a3ff5c 84.5px,#99ff66 88.5px,#8fff70 92.5px,#84ff7b 96.5px,#78ff87 100.5px,#6aff95 104.5px,#5cffa3 108.5px,#4effb1 112.5px,#40ffbf 116.5px,#33ffcc 120.5px,#28ffd7 124.5px,#1effe1 128.5px,#15ffea 132.5px,#0dfff2 136.5px,#05fffa 140.5px,#00f9ff 144.5px,#00e5ff 148.5px,#00cbff 152.5px,#00abff 156.5px,#008aff 160.5px,#006aff 164.5px,#004cff 168.5px,#0032ff 172.5px,#001cff 176.5px,#000cff 180.5px,#0002ff 184.5px,#0000fe 188.5px,#0000ff 192.5px,#0000ff 196.5px)"></i>
<i style="left:181px;top:34px;width:4px;height:196px;background:linear-gradient(#fe0000 -3.5px,#fa0000 0.5px,#f80000 4.5px,#f80000 8.5px,#fb0000 12.5px,#ff0600 16.5px,#ff1700 20.5px,#ff2d00 24.5px,#ff4300 28.5px,#ff5800 32.5px,#ff6b00 36.5px,#ff7f00 40.5px,#ff9300 44.5px,#ffaa00 48.5px,#ffc300 52.5px,#ffdb00 56.5px,#fff000 60.5px,#fdff02 64.5px,#eaff15 68.5px,#d6ff29 72.5px,#c3ff3c 76.5px,#b3ff4c 80.5px,#a6ff59 84.5px,#9bff64 88.5px,#90ff6f 92.5px,#85ff7a 96.5px,#78ff87 100.5px,#6aff95 104.5px,#5bffa4 108.5px,#4dffb2 112.5px,#3fffc0 116.5px,#31ffce 120.5px,#24ffdb 124.5px,#1affe5 128.5px,#10ffef 132.5px,#07fff8 136.5px,#00feff 140.5px,#00f1ff 144.5px,#00dfff 148.5px,#00c6ff 152.5px,#00a8ff 156.5px,#0088ff 160.5px,#0068ff 164.5px,#004aff 168.5px,#002fff 172.5px,#0019ff 176.5px,#0008ff 180.5px,#0000fc 184.5px,#0000f7 188.5px,#0000f4 192.5px,#0000f1 196.5px)"></i>
<i style="left:181px;top:35px;width:4px;height:4px;background:#ff3400"></i>
<i style="left:181px;top:225px;width:4px;height:4px;background:#0030ff"></i>
<i style="left:185px;top:36px;width:4px;height:192px;background:linear-gradient(#f80000 -1.5px,#f60000 2.5px,#f50000 6.5px,#f70000 10.5px,#ff0000 14.5px,#ff0f00 18.5px,#ff2400 22.5px,#ff3c00 26.5px,#ff5300 30.5px,#ff6700 34.5px,#ff7c00 38.5px,#ff9100 42.5px,#ffa900 46.5px,#ffc200 50.5px,#ffda00 54.5px,#ffef00 58.5px,#fcff03 62.5px,#eaff15 66.5px,#d7ff28 70.5px,#c5ff3a 74.5px,#b5ff4a 78.5px,#a8ff57 82.5px,#9dff62 86.5px,#93ff6c 90.5px,#87ff78 94.5px,#7aff85 98.5px,#6cff93 102.5px,#5dffa2 106.5px,#4effb1 110.5px,#3fffc0 114.5px,#30ffcf 118.5px,#23ffdc 122.5px,#18ffe7 126.5px,#0efff1 130.5px,#04fffb 134.5px,#00f9ff 138.5px,#00ecff 142.5px,#00d9ff 146.5px,#00c1ff 150.5px,#00a4ff 154.5px,#0085ff 158.5px,#0066ff 162.5px,#0048ff 166.5px,#002dff 170.5px,#0017ff 174.5px,#0005ff 178.5px,#0000f7 182.5px,#0000ee 186.5px,#0000e8 190.5px,#0000e4 194.5px)"></i>
<i style="left:189px;top:36px;width:4px;height:192px;background:linear-gradient(#f60000 -1.5px,#f40000 2.5px,#f30000 6.5px,#f20000 10.5px,#f70000 14.5px,#ff0500 18.5px,#ff1d00 22.5px,#ff3700 26.5px,#ff4f00 30.5px,#ff6400 34.5px,#ff7800 38.5px,#ff8e00 42.5px,#ffa700 46.5px,#ffc100 50.5px,#ffdb00 54.5px,#fff000 58.5px,#fcff03 62.5px,#eaff15 66.5px,#d8ff27 70.5px,#c6ff39 74.5px,#b7ff48 78.5px,#aaff55 82.5px,#9fff60 86.5px,#95ff6a 90.5px,#8aff75 94.5px,#7eff81 98.5px,#6fff90 102.5px,#60ff9f 106.5px,#50ffaf 110.5px,#41ffbe 114.5px,#32ffcd 118.5px,#24ffdb 122.5px,#18ffe7 126.5px,#0efff1 130.5px,#04fffb 134.5px,#00f8ff 138.5px,#00eaff 142.5px,#00d7ff 146.5px,#00beff 150.5px,#00a1ff 154.5px,#0082ff 158.5px,#0063ff 162.5px,#0045ff 166.5px,#002aff 170.5px,#0013ff 174.5px,#0000ff 178.5px,#0000f0 182.5px,#0000e5 186.5px,#0000dd 190.5px,#0000d6 194.5px)"></i>
<i style="left:193px;top:36px;width:4px;height:192px;background:linear-gradient(#f50000 -1.5px,#f30000 2.5px,#f10000 6.5px,#ed0000 10.5px,#ed0000 14.5px,#f90000 18.5px,#ff1600 22.5px,#ff3400 26.5px,#ff4c00 30.5px,#ff6100 34.5px,#ff7500 38.5px,#ff8b00 42.5px,#ffa400 46.5px,#ffc100 50.5px,#ffdd00 54.5px,#fff200 58.5px,#fdff02 62.5px,#ecff13 66.5px,#d8ff27 70.5px,#c7ff38 74.5px,#b8ff47 78.5px,#acff53 82.5px,#a1ff5e 86.5px,#98ff67 90.5px,#8eff71 94.5px,#81ff7e 98.5px,#72ff8d 102.5px,#63ff9c 106.5px,#53ffac 110.5px,#44ffbb 114.5px,#34ffcb 118.5px,#26ffd9 122.5px,#1affe5 126.5px,#10ffef 130.5px,#07fff8 134.5px,#00faff 138.5px,#00ebff 142.5px,#00d6ff 146.5px,#00bdff 150.5px,#009fff 154.5px,#0080ff 158.5px,#0060ff 162.5px,#0042ff 166.5px,#0026ff 170.5px,#000eff 174.5px,#0000f8 178.5px,#0000e8 182.5px,#0000db 186.5px,#0000d0 190.5px,#0000c8 194.5px)"></i>
<i style="left:193px;top:37px;width:4px;height:4px;background:#ff2f00"></i>
<i style="left:193px;top:223px;width:4px;height:4px;background:#0014ff"></i>
<i style="left:197px;top:38px;width:4px;height:189px;background:linear-gradient(#f20000 -3.5px,#f10000 0.5px,#ef0000 4.5px,#e80000 8.5px,#e50000 12.5px,#ee0000 16.5px,#ff1000 20.5px,#ff3300 24.5px,#ff4a00 28.5px,#ff5e00 32.5px,#ff7200 36.5px,#ff8900 40.5px,#ffa200 44.5px,#ffc000 48.5px,#ffe000 52.5px,#fff400 56.5px,#feff01 60.5px,#eeff11 64.5px,#d9ff26 68.5px,#c6ff39 72.5px,#b8ff47 76.5px,#acff53 80.5px,#a2ff5d 84.5px,#98ff67 88.5px,#8fff70 92.5px,#82ff7d 96.5px,#73ff8c 100.5px,#65ff9a 104.5px,#57ffa8 108.5px,#47ffb8 112.5px,#37ffc8 116.5px,#28ffd7 120.5px,#1cffe3 124.5px,#13ffec 128.5px,#0afff5 132.5px,#00feff 136.5px,#00eeff 140.5px,#00d8ff 144.5px,#00bdff 148.5px,#009eff 152.5px,#007dff 156.5px,#005cff 160.5px,#003dff 164.5px,#0021ff 168.5px,#0008ff 172.5px,#0000f1 176.5px,#0000df 180.5px,#0000d0 184.5px,#0000c4 188.5px,#0000ba 192.5px)"></i>
<i style="left:201px;top:38px;width:4px;height:189px;background:linear-gradient(#ec0000 -3.5px,#ec0000 0.5px,#e90000 4.5px,#e40000 8.5px,#e30000 12.5px,#ee0000 16.5px,#ff0b00 20.5px,#ff2b00 24.5px,#ff4400 28.5px,#ff5a00 32.5px,#ff7000 36.5px,#ff8800 40.5px,#ffa200 44.5px,#ffc000 48.5px,#ffde00 52.5px,#fff300 56.5px,#fdff02 60.5px,#edff12 64.5px,#d9ff26 68.5px,#c8ff37 72.5px,#b9ff46 76.5px,#adff52 80.5px,#a1ff5e 84.5px,#97ff68 88.5px,#8cff73 92.5px,#7fff80 96.5px,#71ff8e 100.5px,#64ff9b 104.5px,#59ffa6 108.5px,#4bffb4 112.5px,#39ffc6 116.5px,#28ffd7 120.5px,#1dffe2 124.5px,#16ffe9 128.5px,#0efff1 132.5px,#03fffc 136.5px,#00f2ff 140.5px,#00dbff 144.5px,#00beff 148.5px,#009dff 152.5px,#007aff 156.5px,#0058ff 160.5px,#0038ff 164.5px,#001bff 168.5px,#0001ff 172.5px,#0000e9 176.5px,#0000d5 180.5px,#0000c5 184.5px,#0000b8 188.5px,#0000ad 192.5px)"></i>
<i style="left:205px;top:38px;width:4px;height:189px;background:linear-gradient(#e60000 -3.5px,#e50000 0.5px,#e20000 4.5px,#e00000 8.5px,#e30000 12.5px,#ef0000 16.5px,#ff0800 20.5px,#ff2400 24.5px,#ff3e00 28.5px,#ff5600 32.5px,#ff6e00 36.5px,#ff8700 40.5px,#ffa200 44.5px,#ffbf00 48.5px,#ffda00 52.5px,#fff000 56.5px,#fcff03 60.5px,#ebff14 64.5px,#daff25 68.5px,#c9ff36 72.5px,#baff45 76.5px,#adff52 80.5px,#a1ff5e 84.5px,#95ff6a 88.5px,#88ff77 92.5px,#7aff85 96.5px,#6cff93 100.5px,#62ff9d 104.5px,#5cffa3 108.5px,#50ffaf 112.5px,#3affc5 116.5px,#26ffd9 120.5px,#1dffe2 124.5px,#18ffe7 128.5px,#12ffed 132.5px,#07fff8 136.5px,#00f6ff 140.5px,#00deff 144.5px,#00bfff 148.5px,#009bff 152.5px,#0076ff 156.5px,#0053ff 160.5px,#0032ff 164.5px,#0015ff 168.5px,#0000fa 172.5px,#0000e1 176.5px,#0000cb 180.5px,#0000ba 184.5px,#0000ac 188.5px,#0000a0 192.5px)"></i>
<i style="left:205px;top:39px;width:4px;height:4px;background:#ff2200"></i>
<i style="left:205px;top:222px;width:4px;height:4px;background:#0000fa"></i>
<i style="left:209px;top:39px;width:3px;height:186px;background:linear-gradient(#dd0000 -0.5px,#dc0000 3.5px,#dc0000 7.5px,#e10000 11.5px,#ee0000 15.5px,#ff0400 19.5px,#ff1e00 23.5px,#ff3800 27.5px,#ff5300 31.5px,#ff6c00 35.5px,#ff8700 39.5px,#ffa200 43.5px,#ffbe00 47.5px,#ffd800 51.5px,#ffef00 55.5px,#fcff03 59.5px,#ebff14 63.5px,#daff25 67.5px,#caff35 71.5px,#bbff44 75.5px,#adff52 79.5px,#a0ff5f 83.5px,#93ff6c 87.5px,#85ff7a 91.5px,#76ff89 95.5px,#68ff97 99.5px,#5fffa0 103.5px,#5cffa3 107.5px,#51ffae 111.5px,#3affc5 115.5px,#24ffdb 119.5px,#1dffe2 123.5px,#1affe5 127.5px,#13ffec 131.5px,#08fff7 135.5px,#00f7ff 139.5px,#00deff 143.5px,#00bdff 147.5px,#0099ff 151.5px,#0073ff 155.5px,#004eff 159.5px,#002dff 163.5px,#000fff 167.5px,#0000f3 171.5px,#0000d9 175.5px,#0000c2 179.5px,#0000b0 183.5px,#0000a1 187.5px)"></i>
<i style="left:212px;top:39px;width:4px;height:186px;background:linear-gradient(#d70000 -0.5px,#d60000 3.5px,#d80000 7.5px,#dd0000 11.5px,#ea0000 15.5px,#fe0000 19.5px,#ff1900 23.5px,#ff3400 27.5px,#ff4f00 31.5px,#ff6a00 35.5px,#ff8500 39.5px,#ffa100 43.5px,#ffbd00 47.5px,#ffd800 51.5px,#ffee00 55.5px,#fcff03 59.5px,#ebff14 63.5px,#dbff24 67.5px,#cbff34 71.5px,#bcff43 75.5px,#aeff51 79.5px,#a0ff5f 83.5px,#92ff6d 87.5px,#84ff7b 91.5px,#75ff8a 95.5px,#68ff97 99.5px,#5fffa0 103.5px,#58ffa7 107.5px,#4cffb3 111.5px,#39ffc6 115.5px,#28ffd7 119.5px,#1effe1 123.5px,#19ffe6 127.5px,#11ffee 131.5px,#06fff9 135.5px,#00f3ff 139.5px,#00daff 143.5px,#00baff 147.5px,#0096ff 151.5px,#0070ff 155.5px,#004bff 159.5px,#0029ff 163.5px,#000aff 167.5px,#0000ec 171.5px,#0000d2 175.5px,#0000ba 179.5px,#0000a7 183.5px,#000097 187.5px)"></i>
<i style="left:212px;top:40px;width:4px;height:4px;background:#ff1700"></i>
<i style="left:212px;top:220px;width:4px;height:4px;background:#0000f1"></i>
<i style="left:216px;top:41px;width:4px;height:182px;background:linear-gradient(#d10000 -2.5px,#d10000 1.5px,#d20000 5.5px,#d70000 9.5px,#e40000 13.5px,#f90000 17.5px,#ff1400 21.5px,#ff3000 25.5px,#ff4c00 29.5px,#ff6700 33.5px,#ff8300 37.5px,#ffa000 41.5px,#ffbc00 45.5px,#ffd800 49.5px,#ffef00 53.5px,#fcff03 57.5px,#ecff13 61.5px,#dcff23 65.5px,#cdff32 69.5px,#beff41 73.5px,#afff50 77.5px,#a0ff5f 81.5px,#92ff6d 85.5px,#84ff7b 89.5px,#76ff89 93.5px,#69ff96 97.5px,#5effa1 101.5px,#54ffab 105.5px,#47ffb8 109.5px,#38ffc7 113.5px,#2affd5 117.5px,#1fffe0 121.5px,#17ffe8 125.5px,#0efff1 129.5px,#01fffe 133.5px,#00eeff 137.5px,#00d5ff 141.5px,#00b6ff 145.5px,#0093ff 149.5px,#006dff 153.5px,#0048ff 157.5px,#0024ff 161.5px,#0004ff 165.5px,#0000e5 169.5px,#0000ca 173.5px,#0000b3 177.5px,#00009f 181.5px,#00008e 185.5px)"></i>
<i style="left:220px;top:41px;width:4px;height:182px;background:linear-gradient(#cc0000 -2.5px,#cc0000 1.5px,#cd0000 5.5px,#d00000 9.5px,#da0000 13.5px,#f20000 17.5px,#ff1000 21.5px,#ff2d00 25.5px,#ff4900 29.5px,#ff6400 33.5px,#ff8000 37.5px,#ff9d00 41.5px,#ffbb00 45.5px,#ffd900 49.5px,#fff000 53.5px,#fcff03 57.5px,#edff12 61.5px,#deff21 65.5px,#ceff31 69.5px,#bfff40 73.5px,#b0ff4f 77.5px,#a1ff5e 81.5px,#93ff6c 85.5px,#85ff7a 89.5px,#77ff88 93.5px,#69ff96 97.5px,#5dffa2 101.5px,#50ffaf 105.5px,#44ffbb 109.5px,#36ffc9 113.5px,#2affd5 117.5px,#1fffe0 121.5px,#15ffea 125.5px,#0afff5 129.5px,#00fcff 133.5px,#00e9ff 137.5px,#00d0ff 141.5px,#00b2ff 145.5px,#008fff 149.5px,#0069ff 153.5px,#0044ff 157.5px,#001fff 161.5px,#0000fd 165.5px,#0000de 169.5px,#0000c3 173.5px,#0000ab 177.5px,#000097 181.5px,#000085 185.5px)"></i>
<i style="left:224px;top:41px;width:4px;height:182px;background:linear-gradient(#c70000 -2.5px,#c80000 1.5px,#c90000 5.5px,#c80000 9.5px,#ce0000 13.5px,#ea0000 17.5px,#ff0e00 21.5px,#ff2a00 25.5px,#ff4500 29.5px,#ff6000 33.5px,#ff7b00 37.5px,#ff9800 41.5px,#ffb900 45.5px,#ffda00 49.5px,#fff200 53.5px,#fdff02 57.5px,#efff10 61.5px,#e0ff1f 65.5px,#d0ff2f 69.5px,#c1ff3e 73.5px,#b1ff4e 77.5px,#a3ff5c 81.5px,#94ff6b 85.5px,#86ff79 89.5px,#78ff87 93.5px,#69ff96 97.5px,#5cffa3 101.5px,#4effb1 105.5px,#41ffbe 109.5px,#34ffcb 113.5px,#28ffd7 117.5px,#1dffe2 121.5px,#12ffed 125.5px,#07fff8 129.5px,#00f8ff 133.5px,#00e5ff 137.5px,#00ccff 141.5px,#00aeff 145.5px,#008bff 149.5px,#0065ff 153.5px,#003eff 157.5px,#0019ff 161.5px,#0000f6 165.5px,#0000d7 169.5px,#0000bb 173.5px,#0000a3 177.5px,#00008f 181.5px,#000080 185.5px)"></i>
<i style="left:224px;top:42px;width:4px;height:4px;background:#ff0b00"></i>
<i style="left:224px;top:218px;width:4px;height:4px;background:#0000e4"></i>
<i style="left:228px;top:43px;width:4px;height:178px;background:linear-gradient(#c30000 -0.5px,#c50000 3.5px,#c30000 7.5px,#c50000 11.5px,#e40000 15.5px,#ff0800 19.5px,#ff2400 23.5px,#ff3f00 27.5px,#ff5b00 31.5px,#ff7700 35.5px,#ff9400 39.5px,#ffb600 43.5px,#ffd900 47.5px,#fff100 51.5px,#ffff00 55.5px,#f1ff0e 59.5px,#e1ff1e 63.5px,#d1ff2e 67.5px,#c2ff3d 71.5px,#b2ff4d 75.5px,#a3ff5c 79.5px,#95ff6a 83.5px,#87ff78 87.5px,#78ff87 91.5px,#6aff95 95.5px,#5bffa4 99.5px,#4dffb2 103.5px,#3fffc0 107.5px,#33ffcc 111.5px,#27ffd8 115.5px,#1bffe4 119.5px,#10ffef 123.5px,#04fffb 127.5px,#00f5ff 131.5px,#00e2ff 135.5px,#00c9ff 139.5px,#00aaff 143.5px,#0086ff 147.5px,#0060ff 151.5px,#0039ff 155.5px,#0012ff 159.5px,#0000ee 163.5px,#0000ce 167.5px,#0000b3 171.5px,#00009c 175.5px,#000087 179.5px)"></i>
<i style="left:232px;top:43px;width:4px;height:178px;background:linear-gradient(#bd0000 -0.5px,#bf0000 3.5px,#bf0000 7.5px,#c70000 11.5px,#de0000 15.5px,#fd0000 19.5px,#ff1b00 23.5px,#ff3800 27.5px,#ff5600 31.5px,#ff7300 35.5px,#ff9200 39.5px,#ffb300 43.5px,#ffd200 47.5px,#ffeb00 51.5px,#fffd00 55.5px,#f2ff0d 59.5px,#e2ff1d 63.5px,#d2ff2d 67.5px,#c2ff3d 71.5px,#b3ff4c 75.5px,#a4ff5b 79.5px,#96ff69 83.5px,#87ff78 87.5px,#79ff86 91.5px,#6aff95 95.5px,#5bffa4 99.5px,#4dffb2 103.5px,#3fffc0 107.5px,#32ffcd 111.5px,#25ffda 115.5px,#19ffe6 119.5px,#0efff1 123.5px,#01fffe 127.5px,#00f2ff 131.5px,#00dfff 135.5px,#00c6ff 139.5px,#00a6ff 143.5px,#0082ff 147.5px,#005bff 151.5px,#0032ff 155.5px,#000bff 159.5px,#0000e5 163.5px,#0000c5 167.5px,#0000ab 171.5px,#000094 175.5px,#000080 179.5px)"></i>
<i style="left:232px;top:44px;width:4px;height:4px;background:#ff0300"></i>
<i style="left:232px;top:216px;width:4px;height:4px;background:#0000e0"></i>
<i style="left:236px;top:45px;width:4px;height:174px;background:linear-gradient(#b80000 -2.5px,#ba0000 1.5px,#be0000 5.5px,#c70000 9.5px,#d90000 13.5px,#f20000 17.5px,#ff1000 21.5px,#ff3000 25.5px,#ff5000 29.5px,#ff7000 33.5px,#ff8f00 37.5px,#ffae00 41.5px,#ffcc00 45.5px,#ffe500 49.5px,#fffa00 53.5px,#f3ff0c 57.5px,#e2ff1d 61.5px,#d2ff2d 65.5px,#c2ff3d 69.5px,#b3ff4c 73.5px,#a4ff5b 77.5px,#96ff69 81.5px,#88ff77 85.5px,#79ff86 89.5px,#6aff95 93.5px,#5bffa4 97.5px,#4dffb2 101.5px,#3effc1 105.5px,#31ffce 109.5px,#23ffdc 113.5px,#17ffe8 117.5px,#0bfff4 121.5px,#00fdff 125.5px,#00eeff 129.5px,#00dcff 133.5px,#00c3ff 137.5px,#00a2ff 141.5px,#007dff 145.5px,#0055ff 149.5px,#002cff 153.5px,#0003ff 157.5px,#0000dc 161.5px,#0000bc 165.5px,#0000a4 169.5px,#00008d 173.5px,#000080 177.5px)"></i>
<i style="left:240px;top:45px;width:4px;height:174px;background:linear-gradient(#b30000 -2.5px,#b70000 1.5px,#bc0000 5.5px,#c50000 9.5px,#d30000 13.5px,#e90000 17.5px,#ff0600 21.5px,#ff2800 25.5px,#ff4b00 29.5px,#ff6c00 33.5px,#ff8a00 37.5px,#ffa900 41.5px,#ffc700 45.5px,#ffe000 49.5px,#fff700 53.5px,#f4ff0b 57.5px,#e2ff1d 61.5px,#d2ff2d 65.5px,#c2ff3d 69.5px,#b3ff4c 73.5px,#a5ff5a 77.5px,#96ff69 81.5px,#88ff77 85.5px,#79ff86 89.5px,#6bff94 93.5px,#5cffa3 97.5px,#4dffb2 101.5px,#3effc1 105.5px,#2fffd0 109.5px,#21ffde 113.5px,#13ffec 117.5px,#06fff9 121.5px,#00f8ff 125.5px,#00e9ff 129.5px,#00d6ff 133.5px,#00bdff 137.5px,#009cff 141.5px,#0077ff 145.5px,#004fff 149.5px,#0025ff 153.5px,#0000fb 157.5px,#0000d5 161.5px,#0000b5 165.5px,#00009c 169.5px,#000086 173.5px,#000080 177.5px)"></i>
<i style="left:244px;top:45px;width:4px;height:174px;background:linear-gradient(#ae0000 -2.5px,#b30000 1.5px,#ba0000 5.5px,#c20000 9.5px,#cd0000 13.5px,#e00000 17.5px,#fb0000 21.5px,#ff2000 25.5px,#ff4700 29.5px,#ff6800 33.5px,#ff8500 37.5px,#ffa400 41.5px,#ffc200 45.5px,#ffdc00 49.5px,#fff300 53.5px,#f6ff09 57.5px,#e3ff1c 61.5px,#d2ff2d 65.5px,#c3ff3c 69.5px,#b4ff4b 73.5px,#a5ff5a 77.5px,#97ff68 81.5px,#88ff77 85.5px,#7aff85 89.5px,#6bff94 93.5px,#5cffa3 97.5px,#4cffb3 101.5px,#3cffc3 105.5px,#2cffd3 109.5px,#1dffe2 113.5px,#0efff1 117.5px,#00feff 121.5px,#00f0ff 125.5px,#00e0ff 129.5px,#00cdff 133.5px,#00b4ff 137.5px,#0095ff 141.5px,#0070ff 145.5px,#0048ff 149.5px,#001fff 153.5px,#0000f5 157.5px,#0000d0 161.5px,#0000b0 165.5px,#000095 169.5px,#000080 173.5px,#000080 177.5px)"></i>
<i style="left:244px;top:46px;width:4px;height:4px;background:#fa0000"></i>
<i style="left:244px;top:214px;width:4px;height:4px;background:#0000d6"></i>
<i style="left:248px;top:47px;width:4px;height:170px;background:linear-gradient(#ae0000 -0.5px,#b60000 3.5px,#be0000 7.5px,#c80000 11.5px,#da0000 15.5px,#f50000 19.5px,#ff1a00 23.5px,#ff4100 27.5px,#ff6200 31.5px,#ff8100 35.5px,#ffa000 39.5px,#ffbe00 43.5px,#ffd900 47.5px,#fff100 51.5px,#f8ff07 55.5px,#e5ff1a 59.5px,#d3ff2c 63.5px,#c3ff3c 67.5px,#b4ff4b 71.5px,#a5ff5a 75.5px,#97ff68 79.5px,#89ff76 83.5px,#7aff85 87.5px,#6cff93 91.5px,#5cffa3 95.5px,#4cffb3 99.5px,#3bffc4 103.5px,#29ffd6 107.5px,#18ffe7 111.5px,#07fff8 115.5px,#00f6ff 119.5px,#00e7ff 123.5px,#00d7ff 127.5px,#00c4ff 131.5px,#00abff 135.5px,#008dff 139.5px,#0069ff 143.5px,#0041ff 147.5px,#0018ff 151.5px,#0000ef 155.5px,#0000cb 159.5px,#0000ab 163.5px,#00008f 167.5px,#000080 171.5px)"></i>
<i style="left:252px;top:47px;width:3px;height:170px;background:linear-gradient(#a90000 -0.5px,#b00000 3.5px,#b80000 7.5px,#c40000 11.5px,#d70000 15.5px,#f10000 19.5px,#ff1400 23.5px,#ff3900 27.5px,#ff5c00 31.5px,#ff7d00 35.5px,#ff9c00 39.5px,#ffba00 43.5px,#ffd600 47.5px,#ffee00 51.5px,#faff05 55.5px,#e6ff19 59.5px,#d5ff2a 63.5px,#c4ff3b 67.5px,#b4ff4b 71.5px,#a5ff5a 75.5px,#97ff68 79.5px,#89ff76 83.5px,#7bff84 87.5px,#6cff93 91.5px,#5cffa3 95.5px,#4bffb4 99.5px,#39ffc6 103.5px,#25ffda 107.5px,#12ffed 111.5px,#00fdff 115.5px,#00ecff 119.5px,#00dcff 123.5px,#00cdff 127.5px,#00bbff 131.5px,#00a4ff 135.5px,#0086ff 139.5px,#0062ff 143.5px,#003aff 147.5px,#0011ff 151.5px,#0000e9 155.5px,#0000c4 159.5px,#0000a4 163.5px,#000089 167.5px,#000080 171.5px)"></i>
<i style="left:255px;top:47px;width:4px;height:170px;background:linear-gradient(#a30000 -0.5px,#ab0000 3.5px,#b40000 7.5px,#c00000 11.5px,#d20000 15.5px,#ec0000 19.5px,#ff0e00 23.5px,#ff3300 27.5px,#ff5800 31.5px,#ff7900 35.5px,#ff9900 39.5px,#ffb700 43.5px,#ffd300 47.5px,#ffec00 51.5px,#fcff03 55.5px,#e8ff17 59.5px,#d6ff29 63.5px,#c5ff3a 67.5px,#b5ff4a 71.5px,#a5ff5a 75.5px,#97ff68 79.5px,#89ff76 83.5px,#7bff84 87.5px,#6cff93 91.5px,#5dffa2 95.5px,#4bffb4 99.5px,#37ffc8 103.5px,#21ffde 107.5px,#0bfff4 111.5px,#00f4ff 115.5px,#00e1ff 119.5px,#00d0ff 123.5px,#00c3ff 127.5px,#00b4ff 131.5px,#009fff 135.5px,#0081ff 139.5px,#005cff 143.5px,#0033ff 147.5px,#0009ff 151.5px,#0000e1 155.5px,#0000bd 159.5px,#00009d 163.5px,#000082 167.5px,#000080 171.5px)"></i>
<i style="left:255px;top:48px;width:4px;height:4px;background:#ef0000"></i>
<i style="left:255px;top:212px;width:4px;height:4px;background:#0000cf"></i>
<i style="left:259px;top:49px;width:4px;height:166px;background:linear-gradient(#9e0000 -2.5px,#a60000 1.5px,#af0000 5.5px,#bb0000 9.5px,#cc0000 13.5px,#e60000 17.5px,#ff0800 21.5px,#ff2e00 25.5px,#ff5300 29.5px,#ff7600 33.5px,#ff9600 37.5px,#ffb400 41.5px,#ffd100 45.5px,#ffeb00 49.5px,#fdff02 53.5px,#eaff15 57.5px,#d8ff27 61.5px,#c6ff39 65.5px,#b5ff4a 69.5px,#a5ff5a 73.5px,#96ff69 77.5px,#88ff77 81.5px,#7aff85 85.5px,#6cff93 89.5px,#5dffa2 93.5px,#4bffb4 97.5px,#36ffc9 101.5px,#1dffe2 105.5px,#04fffb 109.5px,#00ebff 113.5px,#00d5ff 117.5px,#00c4ff 121.5px,#00bbff 125.5px,#00b1ff 129.5px,#009dff 133.5px,#007eff 137.5px,#0057ff 141.5px,#002cff 145.5px,#0001ff 149.5px,#0000d7 153.5px,#0000b3 157.5px,#000095 161.5px,#000080 165.5px,#000080 169.5px)"></i>
<i style="left:263px;top:49px;width:4px;height:166px;background:linear-gradient(#990000 -2.5px,#a10000 1.5px,#ab0000 5.5px,#b60000 9.5px,#c60000 13.5px,#de0000 17.5px,#ff0200 21.5px,#ff2a00 25.5px,#ff5000 29.5px,#ff7200 33.5px,#ff9100 37.5px,#ffb000 41.5px,#ffce00 45.5px,#ffe900 49.5px,#ffff00 53.5px,#ecff13 57.5px,#d9ff26 61.5px,#c6ff39 65.5px,#b5ff4a 69.5px,#a4ff5b 73.5px,#95ff6a 77.5px,#87ff78 81.5px,#79ff86 85.5px,#6bff94 89.5px,#5cffa3 93.5px,#4affb5 97.5px,#34ffcb 101.5px,#19ffe6 105.5px,#00fcff 109.5px,#00e4ff 113.5px,#00caff 117.5px,#00b8ff 121.5px,#00b5ff 125.5px,#00b2ff 129.5px,#009fff 133.5px,#007cff 137.5px,#0051ff 141.5px,#0024ff 145.5px,#0000f7 149.5px,#0000cc 153.5px,#0000a9 157.5px,#00008d 161.5px,#000080 165.5px,#000080 169.5px)"></i>
<i style="left:263px;top:50px;width:4px;height:4px;background:#eb0000"></i>
<i style="left:263px;top:210px;width:4px;height:4px;background:#0000cd"></i>
<i style="left:267px;top:50px;width:4px;height:164px;background:linear-gradient(#940000 -3.5px,#9d0000 0.5px,#a60000 4.5px,#b10000 8.5px,#c10000 12.5px,#d90000 16.5px,#fb0000 20.5px,#ff2400 24.5px,#ff4900 28.5px,#ff6c00 32.5px,#ff8c00 36.5px,#ffab00 40.5px,#ffca00 44.5px,#ffe700 48.5px,#fffd00 52.5px,#eeff11 56.5px,#daff25 60.5px,#c6ff39 64.5px,#b4ff4b 68.5px,#a3ff5c 72.5px,#94ff6b 76.5px,#86ff79 80.5px,#78ff87 84.5px,#69ff96 88.5px,#59ffa6 92.5px,#47ffb8 96.5px,#30ffcf 100.5px,#14ffeb 104.5px,#00f6ff 108.5px,#00deff 112.5px,#00c4ff 116.5px,#00b3ff 120.5px,#00b4ff 124.5px,#00b5ff 128.5px,#00a1ff 132.5px,#0078ff 136.5px,#0049ff 140.5px,#001bff 144.5px,#0000ee 148.5px,#0000c1 152.5px,#00009e 156.5px,#000087 160.5px,#000080 164.5px)"></i>
<i style="left:271px;top:50px;width:4px;height:164px;background:linear-gradient(#8f0000 -3.5px,#980000 0.5px,#a10000 4.5px,#ad0000 8.5px,#bd0000 12.5px,#d50000 16.5px,#f50000 20.5px,#ff1b00 24.5px,#ff4100 28.5px,#ff6400 32.5px,#ff8600 36.5px,#ffa600 40.5px,#ffc500 44.5px,#ffe200 48.5px,#fffa00 52.5px,#efff10 56.5px,#daff25 60.5px,#c5ff3a 64.5px,#b3ff4c 68.5px,#a2ff5d 72.5px,#93ff6c 76.5px,#84ff7b 80.5px,#76ff89 84.5px,#66ff99 88.5px,#55ffaa 92.5px,#42ffbd 96.5px,#2affd5 100.5px,#0ffff0 104.5px,#00f2ff 108.5px,#00d8ff 112.5px,#00c2ff 116.5px,#00b5ff 120.5px,#00b3ff 124.5px,#00b0ff 128.5px,#009aff 132.5px,#0070ff 136.5px,#0040ff 140.5px,#0011ff 144.5px,#0000e3 148.5px,#0000b9 152.5px,#000097 156.5px,#000080 160.5px,#000080 164.5px)"></i>
<i style="left:275px;top:50px;width:4px;height:164px;background:linear-gradient(#8b0000 -3.5px,#940000 0.5px,#9e0000 4.5px,#aa0000 8.5px,#ba0000 12.5px,#d10000 16.5px,#ef0000 20.5px,#ff1300 24.5px,#ff3800 28.5px,#ff5d00 32.5px,#ff7f00 36.5px,#ffa000 40.5px,#ffc000 44.5px,#ffdd00 48.5px,#fff700 52.5px,#f0ff0f 56.5px,#d9ff26 60.5px,#c4ff3b 64.5px,#b1ff4e 68.5px,#a1ff5e 72.5px,#91ff6e 76.5px,#82ff7d 80.5px,#73ff8c 84.5px,#63ff9c 88.5px,#50ffaf 92.5px,#3cffc3 96.5px,#24ffdb 100.5px,#0afff5 104.5px,#00edff 108.5px,#00d3ff 112.5px,#00beff 116.5px,#00b2ff 120.5px,#00aeff 124.5px,#00a6ff 128.5px,#008dff 132.5px,#0064ff 136.5px,#0034ff 140.5px,#0005ff 144.5px,#0000d9 148.5px,#0000b2 152.5px,#000093 156.5px,#000080 160.5px,#000080 164.5px)"></i>
<i style="left:275px;top:51px;width:4px;height:4px;background:#e30000"></i>
<i style="left:275px;top:209px;width:4px;height:4px;background:#0000c6"></i>
<i style="left:279px;top:52px;width:4px;height:160px;background:linear-gradient(#910000 -1.5px,#9b0000 2.5px,#a70000 6.5px,#b70000 10.5px,#cd0000 14.5px,#e80000 18.5px,#ff0b00 22.5px,#ff3000 26.5px,#ff5600 30.5px,#ff7900 34.5px,#ff9a00 38.5px,#ffbb00 42.5px,#ffd900 46.5px,#fff400 50.5px,#f2ff0d 54.5px,#daff25 58.5px,#c3ff3c 62.5px,#afff50 66.5px,#9fff60 70.5px,#90ff6f 74.5px,#81ff7e 78.5px,#71ff8e 82.5px,#5fffa0 86.5px,#4bffb4 90.5px,#36ffc9 94.5px,#1fffe0 98.5px,#05fffa 102.5px,#00e9ff 106.5px,#00cdff 110.5px,#00b6ff 114.5px,#00aaff 118.5px,#00a8ff 122.5px,#009eff 126.5px,#0081ff 130.5px,#0056ff 134.5px,#0026ff 138.5px,#0000f7 142.5px,#0000cf 146.5px,#0000ac 150.5px,#00008e 154.5px,#000080 158.5px,#000080 162.5px)"></i>
<i style="left:283px;top:52px;width:4px;height:160px;background:linear-gradient(#900000 -1.5px,#9a0000 2.5px,#a60000 6.5px,#b50000 10.5px,#ca0000 14.5px,#e30000 18.5px,#ff0300 22.5px,#ff2a00 26.5px,#ff5200 30.5px,#ff7300 34.5px,#ff9300 38.5px,#ffb600 42.5px,#ffd600 46.5px,#fff100 50.5px,#f5ff0a 54.5px,#dbff24 58.5px,#c2ff3d 62.5px,#aeff51 66.5px,#9dff62 70.5px,#8eff71 74.5px,#7fff80 78.5px,#6eff91 82.5px,#5bffa4 86.5px,#46ffb9 90.5px,#30ffcf 94.5px,#1affe5 98.5px,#02fffd 102.5px,#00e5ff 106.5px,#00c7ff 110.5px,#00abff 114.5px,#009dff 118.5px,#00a2ff 122.5px,#009cff 126.5px,#0078ff 130.5px,#0046ff 134.5px,#0016ff 138.5px,#0000e9 142.5px,#0000c5 146.5px,#0000a6 150.5px,#00008a 154.5px,#000080 158.5px,#000080 162.5px)"></i>
<i style="left:283px;top:53px;width:4px;height:4px;background:#e40000"></i>
<i style="left:283px;top:207px;width:4px;height:4px;background:#0000c9"></i>
<i style="left:287px;top:54px;width:3px;height:156px;background:linear-gradient(#8f0000 -3.5px,#9a0000 0.5px,#a60000 4.5px,#b40000 8.5px,#c90000 12.5px,#e10000 16.5px,#fe0000 20.5px,#ff2700 24.5px,#ff4e00 28.5px,#ff6e00 32.5px,#ff8e00 36.5px,#ffb200 40.5px,#ffd300 44.5px,#ffee00 48.5px,#f7ff08 52.5px,#dcff23 56.5px,#c2ff3d 60.5px,#adff52 64.5px,#9cff63 68.5px,#8dff72 72.5px,#7dff82 76.5px,#6bff94 80.5px,#57ffa8 84.5px,#41ffbe 88.5px,#2bffd4 92.5px,#15ffea 96.5px,#00fcff 100.5px,#00e2ff 104.5px,#00c2ff 108.5px,#00a5ff 112.5px,#0095ff 116.5px,#009bff 120.5px,#0098ff 124.5px,#006dff 128.5px,#0039ff 132.5px,#000bff 136.5px,#0000df 140.5px,#0000bd 144.5px,#0000a1 148.5px,#000087 152.5px,#000080 156.5px)"></i>
<i style="left:398px;top:2px;width:4px;height:260px;background:linear-gradient(#f50000 -3.5px,#fa0000 0.5px,#ff0000 4.5px,#ff0400 8.5px,#ff0700 12.5px,#ff0700 16.5px,#ff0700 20.5px,#ff0600 24.5px,#ff0600 28.5px,#ff0800 32.5px,#ff0a00 36.5px,#ff0a00 40.5px,#ff0900 44.5px,#ff0800 48.5px,#ff0600 52.5px,#ff0500 56.5px,#ff0600 60.5px,#ff0700 64.5px,#ff0b00 68.5px,#ff1600 72.5px,#ff2600 76.5px,#ff3800 80.5px,#ff4b00 84.5px,#ff5d00 88.5px,#ff6800 92.5px,#ff7100 96.5px,#ff7b00 100.5px,#ff8700 104.5px,#ff9600 108.5px,#ffaa00 112.5px,#ffc300 116.5px,#ffe300 120.5px,#f1ff0e 124.5px,#b6ff49 128.5px,#77ff88 132.5px,#3dffc2 136.5px,#0afff5 140.5px,#00e0ff 144.5px,#00c4ff 148.5px,#00b7ff 152.5px,#00b3ff 156.5px,#00b3ff 160.5px,#00b4ff 164.5px,#00b1ff 168.5px,#00adff 172.5px,#00a8ff 176.5px,#00a2ff 180.5px,#009dff 184.5px,#0098ff 188.5px,#0093ff 192.5px,#008fff 196.5px,#008aff 200.5px,#0085ff 204.5px,#0080ff 208.5px,#007bff 212.5px,#0077ff 216.5px,#0074ff 220.5px,#0071ff 224.5px,#006fff 228.5px,#006dff 232.5px,#006bff 236.5px,#0069ff 240.5px,#0067ff 244.5px,#0064ff 248.5px,#0061ff 252.5px,#005eff 256.5px,#005bff 260.5px)"></i>
<i style="left:402px;top:2px;width:4px;height:260px;background:linear-gradient(#ff0100 -3.5px,#ff0700 0.5px,#ff0e00 4.5px,#ff1200 8.5px,#ff1400 12.5px,#ff1300 16.5px,#ff1200 20.5px,#ff1200 24.5px,#ff1200 28.5px,#ff1400 32.5px,#ff1500 36.5px,#ff1400 40.5px,#ff1200 44.5px,#ff1100 48.5px,#ff0f00 52.5px,#ff0e00 56.5px,#ff0d00 60.5px,#ff0e00 64.5px,#ff1200 68.5px,#ff1b00 72.5px,#ff2900 76.5px,#ff3a00 80.5px,#ff4c00 84.5px,#ff5b00 88.5px,#ff6500 92.5px,#ff6e00 96.5px,#ff7700 100.5px,#ff8300 104.5px,#ff9200 108.5px,#ffa600 112.5px,#ffc000 116.5px,#ffe100 120.5px,#f0ff0f 124.5px,#b8ff47 128.5px,#7aff85 132.5px,#40ffbf 136.5px,#0efff1 140.5px,#00e4ff 144.5px,#00c9ff 148.5px,#00bbff 152.5px,#00b5ff 156.5px,#00b5ff 160.5px,#00b6ff 164.5px,#00b4ff 168.5px,#00b1ff 172.5px,#00acff 176.5px,#00a7ff 180.5px,#00a1ff 184.5px,#009cff 188.5px,#0097ff 192.5px,#0092ff 196.5px,#008eff 200.5px,#0089ff 204.5px,#0084ff 208.5px,#007fff 212.5px,#007bff 216.5px,#0078ff 220.5px,#0075ff 224.5px,#0073ff 228.5px,#0071ff 232.5px,#006fff 236.5px,#006dff 240.5px,#006aff 244.5px,#0068ff 248.5px,#0065ff 252.5px,#0062ff 256.5px,#005eff 260.5px)"></i>
<i style="left:406px;top:2px;width:4px;height:260px;background:linear-gradient(#ff2500 -3.5px,#ff2d00 0.5px,#ff3400 4.5px,#ff3800 8.5px,#ff3900 12.5px,#ff3700 16.5px,#ff3600 20.5px,#ff3600 24.5px,#ff3600 28.5px,#ff3800 32.5px,#ff3900 36.5px,#ff3600 40.5px,#ff3400 44.5px,#ff3200 48.5px,#ff3000 52.5px,#ff2f00 56.5px,#ff2e00 60.5px,#ff2f00 64.5px,#ff3300 68.5px,#ff3a00 72.5px,#ff4700 76.5px,#ff5600 80.5px,#ff6700 84.5px,#ff7400 88.5px,#ff7e00 92.5px,#ff8500 96.5px,#ff8e00 100.5px,#ff9a00 104.5px,#ffaa00 108.5px,#ffbe00 112.5px,#ffd900 116.5px,#fffc00 120.5px,#d6ff29 124.5px,#9fff60 128.5px,#65ff9a 132.5px,#2cffd3 136.5px,#00faff 140.5px,#00d3ff 144.5px,#00b8ff 148.5px,#00a8ff 152.5px,#00a1ff 156.5px,#00a0ff 160.5px,#00a0ff 164.5px,#009fff 168.5px,#009cff 172.5px,#0098ff 176.5px,#0093ff 180.5px,#008dff 184.5px,#0088ff 188.5px,#0082ff 192.5px,#007dff 196.5px,#0078ff 200.5px,#0073ff 204.5px,#006fff 208.5px,#006aff 212.5px,#0067ff 216.5px,#0063ff 220.5px,#0060ff 224.5px,#005dff 228.5px,#005bff 232.5px,#0059ff 236.5px,#0056ff 240.5px,#0054ff 244.5px,#0052ff 248.5px,#004fff 252.5px,#004cff 256.5px,#0048ff 260.5px)"></i>
<i style="left:410px;top:2px;width:4px;height:260px;background:linear-gradient(#ff2a00 -3.5px,#ff3100 0.5px,#ff3900 4.5px,#ff3d00 8.5px,#ff3d00 12.5px,#ff3c00 16.5px,#ff3b00 20.5px,#ff3b00 24.5px,#ff3b00 28.5px,#ff3c00 32.5px,#ff3b00 36.5px,#ff3800 40.5px,#ff3400 44.5px,#ff3200 48.5px,#ff3000 52.5px,#ff2f00 56.5px,#ff2e00 60.5px,#ff3000 64.5px,#ff3400 68.5px,#ff3b00 72.5px,#ff4600 76.5px,#ff5600 80.5px,#ff6700 84.5px,#ff7500 88.5px,#ff7e00 92.5px,#ff8400 96.5px,#ff8c00 100.5px,#ff9800 104.5px,#ffa700 108.5px,#ffbc00 112.5px,#ffd700 116.5px,#fff900 120.5px,#d9ff26 124.5px,#a4ff5b 128.5px,#6cff93 132.5px,#36ffc9 136.5px,#06fff9 140.5px,#00dfff 144.5px,#00c4ff 148.5px,#00b4ff 152.5px,#00acff 156.5px,#00aaff 160.5px,#00a9ff 164.5px,#00a8ff 168.5px,#00a5ff 172.5px,#00a1ff 176.5px,#009cff 180.5px,#0097ff 184.5px,#0091ff 188.5px,#008bff 192.5px,#0085ff 196.5px,#0080ff 200.5px,#007bff 204.5px,#0077ff 208.5px,#0073ff 212.5px,#006fff 216.5px,#006bff 220.5px,#0067ff 224.5px,#0064ff 228.5px,#0061ff 232.5px,#005fff 236.5px,#005dff 240.5px,#005aff 244.5px,#0058ff 248.5px,#0055ff 252.5px,#0052ff 256.5px,#004eff 260.5px)"></i>
<i style="left:414px;top:2px;width:4px;height:260px;background:linear-gradient(#ff2500 -3.5px,#ff2b00 0.5px,#ff3000 4.5px,#ff3400 8.5px,#ff3500 12.5px,#ff3600 16.5px,#ff3500 20.5px,#ff3500 24.5px,#ff3500 28.5px,#ff3400 32.5px,#ff3200 36.5px,#ff2e00 40.5px,#ff2a00 44.5px,#ff2600 48.5px,#ff2300 52.5px,#ff2200 56.5px,#ff2400 60.5px,#ff2700 64.5px,#ff2b00 68.5px,#ff3100 72.5px,#ff3c00 76.5px,#ff4d00 80.5px,#ff6100 84.5px,#ff7200 88.5px,#ff7c00 92.5px,#ff8200 96.5px,#ff8700 100.5px,#ff9000 104.5px,#ff9f00 108.5px,#ffb400 112.5px,#ffce00 116.5px,#ffef00 120.5px,#e5ff1a 124.5px,#b2ff4d 128.5px,#7aff85 132.5px,#46ffb9 136.5px,#19ffe6 140.5px,#00f3ff 144.5px,#00d8ff 148.5px,#00c9ff 152.5px,#00c1ff 156.5px,#00beff 160.5px,#00bdff 164.5px,#00bbff 168.5px,#00b8ff 172.5px,#00b4ff 176.5px,#00afff 180.5px,#00a9ff 184.5px,#00a2ff 188.5px,#009cff 192.5px,#0095ff 196.5px,#0090ff 200.5px,#008bff 204.5px,#0086ff 208.5px,#0082ff 212.5px,#007eff 216.5px,#007aff 220.5px,#0076ff 224.5px,#0072ff 228.5px,#006fff 232.5px,#006cff 236.5px,#006aff 240.5px,#0068ff 244.5px,#0066ff 248.5px,#0063ff 252.5px,#005fff 256.5px,#005cff 260.5px)"></i>
<i style="left:418px;top:2px;width:4px;height:260px;background:linear-gradient(#ff2f00 -3.5px,#ff3300 0.5px,#ff3700 4.5px,#ff3a00 8.5px,#ff3d00 12.5px,#ff3e00 16.5px,#ff3f00 20.5px,#ff3e00 24.5px,#ff3d00 28.5px,#ff3b00 32.5px,#ff3800 36.5px,#ff3400 40.5px,#ff2f00 44.5px,#ff2a00 48.5px,#ff2500 52.5px,#ff2600 56.5px,#ff2900 60.5px,#ff2d00 64.5px,#ff3200 68.5px,#ff3800 72.5px,#ff4300 76.5px,#ff5400 80.5px,#ff6d00 84.5px,#ff8300 88.5px,#ff8d00 92.5px,#ff9100 96.5px,#ff9400 100.5px,#ff9b00 104.5px,#ffaa00 108.5px,#ffbf00 112.5px,#ffd800 116.5px,#fff500 120.5px,#e3ff1c 124.5px,#afff50 128.5px,#78ff87 132.5px,#47ffb8 136.5px,#1bffe4 140.5px,#00f6ff 144.5px,#00ddff 148.5px,#00ceff 152.5px,#00c7ff 156.5px,#00c4ff 160.5px,#00c2ff 164.5px,#00c0ff 168.5px,#00bcff 172.5px,#00b7ff 176.5px,#00b1ff 180.5px,#00abff 184.5px,#00a4ff 188.5px,#009cff 192.5px,#0095ff 196.5px,#008fff 200.5px,#008aff 204.5px,#0086ff 208.5px,#0082ff 212.5px,#007dff 216.5px,#0078ff 220.5px,#0073ff 224.5px,#006fff 228.5px,#006bff 232.5px,#0068ff 236.5px,#0065ff 240.5px,#0063ff 244.5px,#0061ff 248.5px,#005fff 252.5px,#005bff 256.5px,#0057ff 260.5px)"></i>
<i style="left:422px;top:2px;width:4px;height:260px;background:linear-gradient(#ff5b00 -3.5px,#ff5e00 0.5px,#ff6100 4.5px,#ff6400 8.5px,#ff6700 12.5px,#ff6900 16.5px,#ff6900 20.5px,#ff6900 24.5px,#ff6700 28.5px,#ff6500 32.5px,#ff6100 36.5px,#ff5d00 40.5px,#ff5900 44.5px,#ff5300 48.5px,#ff4f00 52.5px,#ff4f00 56.5px,#ff5200 60.5px,#ff5700 64.5px,#ff5c00 68.5px,#ff6300 72.5px,#ff6e00 76.5px,#ff8100 80.5px,#ff9a00 84.5px,#ffb100 88.5px,#ffbe00 92.5px,#ffc200 96.5px,#ffc600 100.5px,#ffcd00 104.5px,#ffda00 108.5px,#ffed00 112.5px,#f9ff06 116.5px,#ddff22 120.5px,#baff45 124.5px,#8aff75 128.5px,#56ffa9 132.5px,#27ffd8 136.5px,#00fdff 140.5px,#00daff 144.5px,#00c1ff 148.5px,#00b3ff 152.5px,#00abff 156.5px,#00a8ff 160.5px,#00a6ff 164.5px,#00a2ff 168.5px,#009eff 172.5px,#0098ff 176.5px,#0092ff 180.5px,#008bff 184.5px,#0084ff 188.5px,#007cff 192.5px,#0075ff 196.5px,#006eff 200.5px,#0068ff 204.5px,#0063ff 208.5px,#005eff 212.5px,#0059ff 216.5px,#0053ff 220.5px,#004eff 224.5px,#0049ff 228.5px,#0044ff 232.5px,#0041ff 236.5px,#003eff 240.5px,#003cff 244.5px,#0039ff 248.5px,#0037ff 252.5px,#0033ff 256.5px,#0030ff 260.5px)"></i>
<i style="left:426px;top:4px;width:4px;height:256px;background:linear-gradient(#ff6400 -1.5px,#ff6700 2.5px,#ff6900 6.5px,#ff6b00 10.5px,#ff6d00 14.5px,#ff6d00 18.5px,#ff6c00 22.5px,#ff6b00 26.5px,#ff6900 30.5px,#ff6500 34.5px,#ff6200 38.5px,#ff5e00 42.5px,#ff5a00 46.5px,#ff5700 50.5px,#ff5700 54.5px,#ff5800 58.5px,#ff5b00 62.5px,#ff6000 66.5px,#ff6900 70.5px,#ff7600 74.5px,#ff8900 78.5px,#ffa100 82.5px,#ffb600 86.5px,#ffc500 90.5px,#ffcc00 94.5px,#ffd100 98.5px,#ffd900 102.5px,#ffe500 106.5px,#fff700 110.5px,#f1ff0e 114.5px,#d7ff28 118.5px,#b6ff49 122.5px,#8cff73 126.5px,#5dffa2 130.5px,#30ffcf 134.5px,#08fff7 138.5px,#00e6ff 142.5px,#00cfff 146.5px,#00c1ff 150.5px,#00b8ff 154.5px,#00b4ff 158.5px,#00b1ff 162.5px,#00adff 166.5px,#00a8ff 170.5px,#00a1ff 174.5px,#009aff 178.5px,#0093ff 182.5px,#008bff 186.5px,#0083ff 190.5px,#007bff 194.5px,#0074ff 198.5px,#006dff 202.5px,#0067ff 206.5px,#0060ff 210.5px,#005aff 214.5px,#0054ff 218.5px,#004eff 222.5px,#0049ff 226.5px,#0044ff 230.5px,#0040ff 234.5px,#003cff 238.5px,#0039ff 242.5px,#0037ff 246.5px,#0034ff 250.5px,#0031ff 254.5px,#002eff 258.5px)"></i>
<i style="left:430px;top:4px;width:4px;height:256px;background:linear-gradient(#ff7400 -1.5px,#ff7700 2.5px,#ff7900 6.5px,#ff7a00 10.5px,#ff7b00 14.5px,#ff7b00 18.5px,#ff7a00 22.5px,#ff7900 26.5px,#ff7700 30.5px,#ff7400 34.5px,#ff7100 38.5px,#ff6f00 42.5px,#ff6c00 46.5px,#ff6b00 50.5px,#ff6a00 54.5px,#ff6a00 58.5px,#ff6d00 62.5px,#ff7200 66.5px,#ff7b00 70.5px,#ff8a00 74.5px,#ff9d00 78.5px,#ffb300 82.5px,#ffc800 86.5px,#ffd800 90.5px,#ffe100 94.5px,#ffe700 98.5px,#ffef00 102.5px,#fffb00 106.5px,#f3ff0c 110.5px,#dfff20 114.5px,#c7ff38 118.5px,#aaff55 122.5px,#85ff7a 126.5px,#5affa5 130.5px,#2effd1 134.5px,#07fff8 138.5px,#00e8ff 142.5px,#00d2ff 146.5px,#00c4ff 150.5px,#00bcff 154.5px,#00b7ff 158.5px,#00b3ff 162.5px,#00aeff 166.5px,#00a8ff 170.5px,#00a1ff 174.5px,#0099ff 178.5px,#0091ff 182.5px,#0089ff 186.5px,#0081ff 190.5px,#0079ff 194.5px,#0070ff 198.5px,#0068ff 202.5px,#0060ff 206.5px,#0058ff 210.5px,#0051ff 214.5px,#004aff 218.5px,#0044ff 222.5px,#003eff 226.5px,#0039ff 230.5px,#0035ff 234.5px,#0030ff 238.5px,#002dff 242.5px,#0029ff 246.5px,#0027ff 250.5px,#0024ff 254.5px,#0022ff 258.5px)"></i>
<i style="left:434px;top:4px;width:4px;height:256px;background:linear-gradient(#ff6a00 -1.5px,#ff6d00 2.5px,#ff6f00 6.5px,#ff6f00 10.5px,#ff7000 14.5px,#ff7000 18.5px,#ff6f00 22.5px,#ff6f00 26.5px,#ff6d00 30.5px,#ff6b00 34.5px,#ff6900 38.5px,#ff6700 42.5px,#ff6600 46.5px,#ff6500 50.5px,#ff6400 54.5px,#ff6400 58.5px,#ff6700 62.5px,#ff6c00 66.5px,#ff7600 70.5px,#ff8600 74.5px,#ff9900 78.5px,#ffb000 82.5px,#ffc500 86.5px,#ffd400 90.5px,#ffdd00 94.5px,#ffe200 98.5px,#ffea00 102.5px,#fff600 106.5px,#f7ff08 110.5px,#e4ff1b 114.5px,#d0ff2f 118.5px,#b8ff47 122.5px,#99ff66 126.5px,#70ff8f 130.5px,#44ffbb 134.5px,#1dffe2 138.5px,#01fffe 142.5px,#00edff 146.5px,#00e1ff 150.5px,#00d9ff 154.5px,#00d3ff 158.5px,#00ceff 162.5px,#00c8ff 166.5px,#00c1ff 170.5px,#00b9ff 174.5px,#00b1ff 178.5px,#00a8ff 182.5px,#00a0ff 186.5px,#0097ff 190.5px,#008fff 194.5px,#0086ff 198.5px,#007cff 202.5px,#0072ff 206.5px,#0069ff 210.5px,#0061ff 214.5px,#0059ff 218.5px,#0052ff 222.5px,#004cff 226.5px,#0047ff 230.5px,#0042ff 234.5px,#003dff 238.5px,#0038ff 242.5px,#0035ff 246.5px,#0032ff 250.5px,#0030ff 254.5px,#002fff 258.5px)"></i>
<i style="left:438px;top:6px;width:3px;height:253px;background:linear-gradient(#ff8300 -3.5px,#ff8500 0.5px,#ff8600 4.5px,#ff8700 8.5px,#ff8700 12.5px,#ff8800 16.5px,#ff8800 20.5px,#ff8700 24.5px,#ff8600 28.5px,#ff8500 32.5px,#ff8300 36.5px,#ff8100 40.5px,#ff8000 44.5px,#ff8000 48.5px,#ff8100 52.5px,#ff8200 56.5px,#ff8500 60.5px,#ff8c00 64.5px,#ff9700 68.5px,#ffa700 72.5px,#ffbc00 76.5px,#ffd300 80.5px,#ffe900 84.5px,#fff600 88.5px,#fffc00 92.5px,#feff01 96.5px,#f7ff08 100.5px,#eaff15 104.5px,#d9ff26 108.5px,#c6ff39 112.5px,#b6ff49 116.5px,#a4ff5b 120.5px,#8bff74 124.5px,#64ff9b 128.5px,#34ffcb 132.5px,#0dfff2 136.5px,#00f3ff 140.5px,#00e4ff 144.5px,#00d9ff 148.5px,#00d2ff 152.5px,#00ccff 156.5px,#00c7ff 160.5px,#00c0ff 164.5px,#00b8ff 168.5px,#00afff 172.5px,#00a5ff 176.5px,#009cff 180.5px,#0093ff 184.5px,#008aff 188.5px,#0081ff 192.5px,#0077ff 196.5px,#006cff 200.5px,#0061ff 204.5px,#0056ff 208.5px,#004dff 212.5px,#0044ff 216.5px,#003dff 220.5px,#0037ff 224.5px,#0031ff 228.5px,#002cff 232.5px,#0026ff 236.5px,#0021ff 240.5px,#001dff 244.5px,#001bff 248.5px,#001aff 252.5px,#0019ff 256.5px)"></i>
<i style="left:441px;top:6px;width:4px;height:253px;background:linear-gradient(#ff7600 -3.5px,#ff7700 0.5px,#ff7800 4.5px,#ff7800 8.5px,#ff7900 12.5px,#ff7900 16.5px,#ff7a00 20.5px,#ff7a00 24.5px,#ff7a00 28.5px,#ff7800 32.5px,#ff7700 36.5px,#ff7500 40.5px,#ff7400 44.5px,#ff7400 48.5px,#ff7600 52.5px,#ff7900 56.5px,#ff7e00 60.5px,#ff8500 64.5px,#ff9100 68.5px,#ffa200 72.5px,#ffb700 76.5px,#ffce00 80.5px,#ffe400 84.5px,#fff000 88.5px,#fff400 92.5px,#fff700 96.5px,#fffc00 100.5px,#f4ff0b 104.5px,#e3ff1c 108.5px,#d0ff2f 112.5px,#c3ff3c 116.5px,#b5ff4a 120.5px,#a0ff5f 124.5px,#7bff84 128.5px,#4affb5 132.5px,#22ffdd 136.5px,#0efff1 140.5px,#01fffe 144.5px,#00f6ff 148.5px,#00efff 152.5px,#00eaff 156.5px,#00e5ff 160.5px,#00ddff 164.5px,#00d4ff 168.5px,#00caff 172.5px,#00bfff 176.5px,#00b5ff 180.5px,#00acff 184.5px,#00a3ff 188.5px,#0099ff 192.5px,#008eff 196.5px,#0082ff 200.5px,#0076ff 204.5px,#0069ff 208.5px,#005fff 212.5px,#0055ff 216.5px,#004eff 220.5px,#0047ff 224.5px,#0041ff 228.5px,#003cff 232.5px,#0036ff 236.5px,#0031ff 240.5px,#002dff 244.5px,#002bff 248.5px,#002bff 252.5px,#002bff 256.5px)"></i>
<i style="left:445px;top:6px;width:4px;height:253px;background:linear-gradient(#ff7300 -3.5px,#ff7400 0.5px,#ff7400 4.5px,#ff7400 8.5px,#ff7500 12.5px,#ff7600 16.5px,#ff7700 20.5px,#ff7700 24.5px,#ff7700 28.5px,#ff7600 32.5px,#ff7400 36.5px,#ff7200 40.5px,#ff7000 44.5px,#ff7100 48.5px,#ff7400 52.5px,#ff7900 56.5px,#ff7f00 60.5px,#ff8800 64.5px,#ff9400 68.5px,#ffa400 72.5px,#ffb800 76.5px,#ffce00 80.5px,#ffe200 84.5px,#ffed00 88.5px,#fff300 92.5px,#fff600 96.5px,#fffd00 100.5px,#f6ff09 104.5px,#e6ff19 108.5px,#d6ff29 112.5px,#c8ff37 116.5px,#b9ff46 120.5px,#a3ff5c 124.5px,#81ff7e 128.5px,#57ffa8 132.5px,#34ffcb 136.5px,#1fffe0 140.5px,#12ffed 144.5px,#09fff6 148.5px,#02fffd 152.5px,#00fcff 156.5px,#00f7ff 160.5px,#00efff 164.5px,#00e5ff 168.5px,#00daff 172.5px,#00cfff 176.5px,#00c5ff 180.5px,#00baff 184.5px,#00b0ff 188.5px,#00a6ff 192.5px,#009aff 196.5px,#008dff 200.5px,#0080ff 204.5px,#0073ff 208.5px,#0067ff 212.5px,#005dff 216.5px,#0054ff 220.5px,#004dff 224.5px,#0047ff 228.5px,#0041ff 232.5px,#003cff 236.5px,#0038ff 240.5px,#0035ff 244.5px,#0034ff 248.5px,#0034ff 252.5px,#0034ff 256.5px)"></i>
<i style="left:449px;top:8px;width:4px;height:249px;background:linear-gradient(#ff8b00 -1.5px,#ff8a00 2.5px,#ff8a00 6.5px,#ff8b00 10.5px,#ff8c00 14.5px,#ff8d00 18.5px,#ff8e00 22.5px,#ff8e00 26.5px,#ff8d00 30.5px,#ff8a00 34.5px,#ff8600 38.5px,#ff8500 42.5px,#ff8600 46.5px,#ff8a00 50.5px,#ff9100 54.5px,#ff9a00 58.5px,#ffa300 62.5px,#ffaf00 66.5px,#ffbd00 70.5px,#ffd000 74.5px,#ffe400 78.5px,#fff500 82.5px,#fcff03 86.5px,#f5ff0a 90.5px,#f0ff0f 94.5px,#eaff15 98.5px,#e0ff1f 102.5px,#d3ff2c 106.5px,#c4ff3b 110.5px,#b5ff4a 114.5px,#a4ff5b 118.5px,#8cff73 122.5px,#6dff92 126.5px,#4affb5 130.5px,#2bffd4 134.5px,#16ffe9 138.5px,#08fff7 142.5px,#00ffff 146.5px,#00f9ff 150.5px,#00f4ff 154.5px,#00efff 158.5px,#00e7ff 162.5px,#00ddff 166.5px,#00d2ff 170.5px,#00c6ff 174.5px,#00bbff 178.5px,#00b0ff 182.5px,#00a5ff 186.5px,#0099ff 190.5px,#008dff 194.5px,#007fff 198.5px,#0072ff 202.5px,#0064ff 206.5px,#0058ff 210.5px,#004cff 214.5px,#0043ff 218.5px,#003bff 222.5px,#0034ff 226.5px,#002fff 230.5px,#002bff 234.5px,#0029ff 238.5px,#0027ff 242.5px,#0026ff 246.5px,#0026ff 250.5px)"></i>
<i style="left:453px;top:8px;width:4px;height:249px;background:linear-gradient(#ff8000 -1.5px,#ff8000 2.5px,#ff7f00 6.5px,#ff7f00 10.5px,#ff8000 14.5px,#ff8100 18.5px,#ff8100 22.5px,#ff8100 26.5px,#ff8000 30.5px,#ff7c00 34.5px,#ff7700 38.5px,#ff7500 42.5px,#ff7600 46.5px,#ff7d00 50.5px,#ff8600 54.5px,#ff9000 58.5px,#ff9a00 62.5px,#ffa500 66.5px,#ffb300 70.5px,#ffc300 74.5px,#ffd700 78.5px,#ffe700 82.5px,#fff300 86.5px,#fffb00 90.5px,#fdff02 94.5px,#f7ff08 98.5px,#eeff11 102.5px,#e3ff1c 106.5px,#d5ff2a 110.5px,#c5ff3a 114.5px,#b2ff4d 118.5px,#99ff66 122.5px,#7cff83 126.5px,#5dffa2 130.5px,#42ffbd 134.5px,#2effd1 138.5px,#21ffde 142.5px,#19ffe6 146.5px,#14ffeb 150.5px,#10ffef 154.5px,#0bfff4 158.5px,#03fffc 162.5px,#00f9ff 166.5px,#00edff 170.5px,#00e1ff 174.5px,#00d4ff 178.5px,#00c9ff 182.5px,#00bdff 186.5px,#00b0ff 190.5px,#00a3ff 194.5px,#0095ff 198.5px,#0087ff 202.5px,#0079ff 206.5px,#006cff 210.5px,#0060ff 214.5px,#0056ff 218.5px,#004dff 222.5px,#0046ff 226.5px,#0042ff 230.5px,#003fff 234.5px,#003eff 238.5px,#003dff 242.5px,#003dff 246.5px,#003dff 250.5px)"></i>
<i style="left:457px;top:10px;width:4px;height:245px;background:linear-gradient(#ff8d00 -3.5px,#ff8c00 0.5px,#ff8c00 4.5px,#ff8b00 8.5px,#ff8b00 12.5px,#ff8b00 16.5px,#ff8a00 20.5px,#ff8900 24.5px,#ff8600 28.5px,#ff8200 32.5px,#ff7d00 36.5px,#ff7a00 40.5px,#ff7c00 44.5px,#ff8300 48.5px,#ff8e00 52.5px,#ff9a00 56.5px,#ffa500 60.5px,#ffb200 64.5px,#ffbf00 68.5px,#ffd000 72.5px,#ffe200 76.5px,#fff100 80.5px,#fffc00 84.5px,#faff05 88.5px,#f5ff0a 92.5px,#f0ff0f 96.5px,#e8ff17 100.5px,#ddff22 104.5px,#cfff30 108.5px,#bfff40 112.5px,#abff54 116.5px,#93ff6c 120.5px,#76ff89 124.5px,#59ffa6 128.5px,#3fffc0 132.5px,#2dffd2 136.5px,#22ffdd 140.5px,#1bffe4 144.5px,#17ffe8 148.5px,#14ffeb 152.5px,#11ffee 156.5px,#0afff5 160.5px,#00ffff 164.5px,#00f3ff 168.5px,#00e6ff 172.5px,#00daff 176.5px,#00cdff 180.5px,#00c1ff 184.5px,#00b3ff 188.5px,#00a5ff 192.5px,#0097ff 196.5px,#0088ff 200.5px,#007aff 204.5px,#006dff 208.5px,#0061ff 212.5px,#0056ff 216.5px,#004dff 220.5px,#0045ff 224.5px,#0042ff 228.5px,#0041ff 232.5px,#0041ff 236.5px,#0041ff 240.5px,#0041ff 244.5px,#0041ff 248.5px)"></i>
<i style="left:461px;top:10px;width:4px;height:245px;background:linear-gradient(#ffb100 -3.5px,#ffb000 0.5px,#ffb000 4.5px,#ffaf00 8.5px,#ffaf00 12.5px,#ffad00 16.5px,#ffaa00 20.5px,#ffa600 24.5px,#ffa200 28.5px,#ff9d00 32.5px,#ff9800 36.5px,#ff9500 40.5px,#ff9700 44.5px,#ff9f00 48.5px,#ffab00 52.5px,#ffb800 56.5px,#ffc600 60.5px,#ffd500 64.5px,#ffe400 68.5px,#fff400 72.5px,#faff05 76.5px,#ebff14 80.5px,#e1ff1e 84.5px,#dbff24 88.5px,#d7ff28 92.5px,#d2ff2d 96.5px,#cbff34 100.5px,#c1ff3e 104.5px,#b4ff4b 108.5px,#a3ff5c 112.5px,#8fff70 116.5px,#78ff87 120.5px,#5cffa3 124.5px,#3effc1 128.5px,#26ffd9 132.5px,#16ffe9 136.5px,#0cfff3 140.5px,#06fff9 144.5px,#03fffc 148.5px,#02fffd 152.5px,#00ffff 156.5px,#00faff 160.5px,#00f2ff 164.5px,#00e6ff 168.5px,#00d9ff 172.5px,#00ccff 176.5px,#00bfff 180.5px,#00b1ff 184.5px,#00a3ff 188.5px,#0094ff 192.5px,#0085ff 196.5px,#0076ff 200.5px,#0068ff 204.5px,#005bff 208.5px,#004fff 212.5px,#0045ff 216.5px,#003bff 220.5px,#0033ff 224.5px,#0031ff 228.5px,#0031ff 232.5px,#0032ff 236.5px,#0032ff 240.5px,#0032ff 244.5px,#0031ff 248.5px)"></i>
<i style="left:465px;top:10px;width:4px;height:245px;background:linear-gradient(#ffa400 -3.5px,#ffa500 0.5px,#ffa500 4.5px,#ffa500 8.5px,#ffa400 12.5px,#ffa100 16.5px,#ff9c00 20.5px,#ff9500 24.5px,#ff8e00 28.5px,#ff8900 32.5px,#ff8400 36.5px,#ff7f00 40.5px,#ff8000 44.5px,#ff8900 48.5px,#ff9700 52.5px,#ffa600 56.5px,#ffb700 60.5px,#ffc800 64.5px,#ffd800 68.5px,#ffe800 72.5px,#fff700 76.5px,#faff05 80.5px,#f2ff0d 84.5px,#edff12 88.5px,#e9ff16 92.5px,#e5ff1a 96.5px,#deff21 100.5px,#d5ff2a 104.5px,#c8ff37 108.5px,#b8ff47 112.5px,#a5ff5a 116.5px,#8eff71 120.5px,#73ff8c 124.5px,#56ffa9 128.5px,#3fffc0 132.5px,#2fffd0 136.5px,#25ffda 140.5px,#20ffdf 144.5px,#1effe1 148.5px,#1fffe0 152.5px,#1fffe0 156.5px,#1dffe2 160.5px,#17ffe8 164.5px,#0ffff0 168.5px,#03fffc 172.5px,#00f5ff 176.5px,#00e6ff 180.5px,#00d6ff 184.5px,#00c5ff 188.5px,#00b5ff 192.5px,#00a6ff 196.5px,#0098ff 200.5px,#008aff 204.5px,#007eff 208.5px,#0073ff 212.5px,#0069ff 216.5px,#0061ff 220.5px,#005aff 224.5px,#0057ff 228.5px,#0058ff 232.5px,#0058ff 236.5px,#0058ff 240.5px,#0057ff 244.5px,#0055ff 248.5px)"></i>
<i style="left:469px;top:12px;width:4px;height:241px;background:linear-gradient(#ffc100 -1.5px,#ffc200 2.5px,#ffc200 6.5px,#ffc200 10.5px,#ffc000 14.5px,#ffb900 18.5px,#ffaf00 22.5px,#ffa400 26.5px,#ff9e00 30.5px,#ff9900 34.5px,#ff9200 38.5px,#ff8f00 42.5px,#ff9a00 46.5px,#ffab00 50.5px,#ffbc00 54.5px,#ffcf00 58.5px,#ffe200 62.5px,#fff300 66.5px,#fcff03 70.5px,#efff10 74.5px,#e4ff1b 78.5px,#ddff22 82.5px,#d8ff27 86.5px,#d4ff2b 90.5px,#d0ff2f 94.5px,#caff35 98.5px,#c2ff3d 102.5px,#b6ff49 106.5px,#a7ff58 110.5px,#95ff6a 114.5px,#7eff81 118.5px,#65ff9a 122.5px,#4affb5 126.5px,#34ffcb 130.5px,#23ffdc 134.5px,#18ffe7 138.5px,#13ffec 142.5px,#12ffed 146.5px,#14ffeb 150.5px,#16ffe9 154.5px,#18ffe7 158.5px,#18ffe7 162.5px,#15ffea 166.5px,#0dfff2 170.5px,#00feff 174.5px,#00ebff 178.5px,#00d6ff 182.5px,#00c3ff 186.5px,#00b2ff 190.5px,#00a3ff 194.5px,#0095ff 198.5px,#0089ff 202.5px,#007eff 206.5px,#0075ff 210.5px,#006dff 214.5px,#0066ff 218.5px,#0061ff 222.5px,#005fff 226.5px,#005eff 230.5px,#005dff 234.5px,#005bff 238.5px,#0058ff 242.5px)"></i>
<i style="left:473px;top:12px;width:3px;height:241px;background:linear-gradient(#ffca00 -1.5px,#ffcd00 2.5px,#ffcf00 6.5px,#ffd100 10.5px,#ffd200 14.5px,#ffcc00 18.5px,#ffbf00 22.5px,#ffb000 26.5px,#ffaa00 30.5px,#ffa300 34.5px,#ff9a00 38.5px,#ff9300 42.5px,#ffa000 46.5px,#ffb300 50.5px,#ffc300 54.5px,#ffd700 58.5px,#ffeb00 62.5px,#fffc00 66.5px,#f5ff0a 70.5px,#e9ff16 74.5px,#e1ff1e 78.5px,#dcff23 82.5px,#d7ff28 86.5px,#d3ff2c 90.5px,#cfff30 94.5px,#caff35 98.5px,#c2ff3d 102.5px,#b8ff47 106.5px,#abff54 110.5px,#99ff66 114.5px,#84ff7b 118.5px,#6cff93 122.5px,#53ffac 126.5px,#3cffc3 130.5px,#2affd5 134.5px,#1fffe0 138.5px,#1affe5 142.5px,#19ffe6 146.5px,#1cffe3 150.5px,#21ffde 154.5px,#26ffd9 158.5px,#2dffd2 162.5px,#31ffce 166.5px,#2effd1 170.5px,#1fffe0 174.5px,#07fff8 178.5px,#00ebff 182.5px,#00d5ff 186.5px,#00c3ff 190.5px,#00b5ff 194.5px,#00a8ff 198.5px,#009eff 202.5px,#0095ff 206.5px,#008dff 210.5px,#0087ff 214.5px,#0083ff 218.5px,#007fff 222.5px,#007dff 226.5px,#007bff 230.5px,#0078ff 234.5px,#0074ff 238.5px,#006fff 242.5px)"></i>
<i style="left:476px;top:13px;width:4px;height:238px;background:linear-gradient(#ffe000 -2.5px,#ffe500 1.5px,#ffeb00 5.5px,#fff200 9.5px,#fff600 13.5px,#fff400 17.5px,#ffea00 21.5px,#ffdd00 25.5px,#ffd000 29.5px,#ffc500 33.5px,#ffbe00 37.5px,#ffbe00 41.5px,#ffc900 45.5px,#ffd600 49.5px,#ffe300 53.5px,#fff300 57.5px,#f8ff07 61.5px,#e8ff17 65.5px,#ddff22 69.5px,#d6ff29 73.5px,#d2ff2d 77.5px,#ceff31 81.5px,#c9ff36 85.5px,#c5ff3a 89.5px,#c1ff3e 93.5px,#bcff43 97.5px,#b7ff48 101.5px,#aeff51 105.5px,#a2ff5d 109.5px,#92ff6d 113.5px,#7eff81 117.5px,#67ff98 121.5px,#4fffb0 125.5px,#37ffc8 129.5px,#24ffdb 133.5px,#18ffe7 137.5px,#13ffec 141.5px,#13ffec 145.5px,#17ffe8 149.5px,#1dffe2 153.5px,#26ffd9 157.5px,#33ffcc 161.5px,#41ffbe 165.5px,#45ffba 169.5px,#35ffca 173.5px,#14ffeb 177.5px,#00f1ff 181.5px,#00d8ff 185.5px,#00c7ff 189.5px,#00baff 193.5px,#00b0ff 197.5px,#00a7ff 201.5px,#009fff 205.5px,#0099ff 209.5px,#0095ff 213.5px,#0093ff 217.5px,#0091ff 221.5px,#008fff 225.5px,#008cff 229.5px,#0086ff 233.5px,#0080ff 237.5px,#0079ff 241.5px)"></i>
<i style="left:480px;top:13px;width:4px;height:238px;background:linear-gradient(#ffdc00 -2.5px,#ffe500 1.5px,#ffee00 5.5px,#fff900 9.5px,#fcff03 13.5px,#fbff04 17.5px,#feff01 21.5px,#fff700 25.5px,#ffe100 29.5px,#ffce00 33.5px,#ffcc00 37.5px,#ffd900 41.5px,#ffe000 45.5px,#ffe500 49.5px,#ffec00 53.5px,#fff700 57.5px,#f8ff07 61.5px,#e9ff16 65.5px,#dfff20 69.5px,#ddff22 73.5px,#ddff22 77.5px,#daff25 81.5px,#d4ff2b 85.5px,#cfff30 89.5px,#cbff34 93.5px,#c8ff37 97.5px,#c4ff3b 101.5px,#bdff42 105.5px,#b3ff4c 109.5px,#a4ff5b 113.5px,#91ff6e 117.5px,#7bff84 121.5px,#63ff9c 125.5px,#4bffb4 129.5px,#37ffc8 133.5px,#2affd5 137.5px,#25ffda 141.5px,#27ffd8 145.5px,#2bffd4 149.5px,#33ffcc 153.5px,#3dffc2 157.5px,#4dffb2 161.5px,#65ff9a 165.5px,#76ff89 169.5px,#63ff9c 173.5px,#35ffca 177.5px,#0dfff2 181.5px,#00f3ff 185.5px,#00e4ff 189.5px,#00d8ff 193.5px,#00cfff 197.5px,#00c7ff 201.5px,#00c1ff 205.5px,#00bdff 209.5px,#00baff 213.5px,#00b9ff 217.5px,#00b9ff 221.5px,#00b8ff 225.5px,#00b3ff 229.5px,#00acff 233.5px,#00a3ff 237.5px,#009aff 241.5px)"></i>
<i style="left:484px;top:13px;width:4px;height:238px;background:linear-gradient(#fff400 -2.5px,#fffd00 1.5px,#f6ff09 5.5px,#eaff15 9.5px,#e0ff1f 13.5px,#ddff22 17.5px,#dcff23 21.5px,#e4ff1b 25.5px,#fffe00 29.5px,#ffe400 33.5px,#ffdf00 37.5px,#fff500 41.5px,#fdff02 45.5px,#faff05 49.5px,#f6ff09 53.5px,#f0ff0f 57.5px,#e6ff19 61.5px,#d8ff27 65.5px,#cfff30 69.5px,#cfff30 73.5px,#ceff31 77.5px,#c9ff36 81.5px,#c2ff3d 85.5px,#bdff42 89.5px,#b9ff46 93.5px,#b6ff49 97.5px,#b4ff4b 101.5px,#b0ff4f 105.5px,#a6ff59 109.5px,#99ff66 113.5px,#87ff78 117.5px,#72ff8d 121.5px,#5affa5 125.5px,#42ffbd 129.5px,#2effd1 133.5px,#21ffde 137.5px,#1dffe2 141.5px,#1fffe0 145.5px,#24ffdb 149.5px,#2cffd3 153.5px,#37ffc8 157.5px,#48ffb7 161.5px,#65ff9a 165.5px,#7cff83 169.5px,#69ff96 173.5px,#36ffc9 177.5px,#0cfff3 181.5px,#00f3ff 185.5px,#00e4ff 189.5px,#00d9ff 193.5px,#00d0ff 197.5px,#00c9ff 201.5px,#00c3ff 205.5px,#00c0ff 209.5px,#00beff 213.5px,#00beff 217.5px,#00bfff 221.5px,#00beff 225.5px,#00b8ff 229.5px,#00b0ff 233.5px,#00a5ff 237.5px,#009bff 241.5px)"></i>
<i style="left:488px;top:15px;width:4px;height:234px;background:linear-gradient(#edff12 -0.5px,#e4ff1b 3.5px,#dcff23 7.5px,#d6ff29 11.5px,#d3ff2c 15.5px,#d3ff2c 19.5px,#dcff23 23.5px,#f5ff0a 27.5px,#ffed00 31.5px,#ffdc00 35.5px,#fff200 39.5px,#f3ff0c 43.5px,#ebff14 47.5px,#e9ff16 51.5px,#e6ff19 55.5px,#dfff20 59.5px,#d6ff29 63.5px,#ceff31 67.5px,#c7ff38 71.5px,#c0ff3f 75.5px,#b7ff48 79.5px,#afff50 83.5px,#a9ff56 87.5px,#a6ff59 91.5px,#a5ff5a 95.5px,#a4ff5b 99.5px,#a1ff5e 103.5px,#9aff65 107.5px,#8dff72 111.5px,#7cff83 115.5px,#66ff99 119.5px,#4fffb0 123.5px,#39ffc6 127.5px,#27ffd8 131.5px,#1cffe3 135.5px,#18ffe7 139.5px,#1affe5 143.5px,#1effe1 147.5px,#26ffd9 151.5px,#31ffce 155.5px,#43ffbc 159.5px,#5affa5 163.5px,#69ff96 167.5px,#5bffa4 171.5px,#36ffc9 175.5px,#10ffef 179.5px,#00f4ff 183.5px,#00e3ff 187.5px,#00d6ff 191.5px,#00ceff 195.5px,#00c7ff 199.5px,#00c2ff 203.5px,#00bfff 207.5px,#00bdff 211.5px,#00beff 215.5px,#00beff 219.5px,#00bcff 223.5px,#00b6ff 227.5px,#00adff 231.5px,#00a3ff 235.5px)"></i>
<i style="left:492px;top:15px;width:4px;height:234px;background:linear-gradient(#faff05 -0.5px,#f5ff0a 3.5px,#f3ff0c 7.5px,#f2ff0d 11.5px,#f2ff0d 15.5px,#f1ff0e 19.5px,#f8ff07 23.5px,#fff300 27.5px,#ffdc00 31.5px,#ffd100 35.5px,#ffe600 39.5px,#fff800 43.5px,#fffa00 47.5px,#fff900 51.5px,#fffb00 55.5px,#feff01 59.5px,#f8ff07 63.5px,#eeff11 67.5px,#e1ff1e 71.5px,#d2ff2d 75.5px,#c4ff3b 79.5px,#baff45 83.5px,#b4ff4b 87.5px,#b1ff4e 91.5px,#b2ff4d 95.5px,#b3ff4c 99.5px,#b2ff4d 103.5px,#adff52 107.5px,#a1ff5e 111.5px,#90ff6f 115.5px,#7aff85 119.5px,#64ff9b 123.5px,#4fffb0 127.5px,#3fffc0 131.5px,#36ffc9 135.5px,#33ffcc 139.5px,#34ffcb 143.5px,#38ffc7 147.5px,#3effc1 151.5px,#47ffb8 155.5px,#55ffaa 159.5px,#67ff98 163.5px,#72ff8d 167.5px,#69ff96 171.5px,#4effb1 175.5px,#2dffd2 179.5px,#12ffed 183.5px,#00feff 187.5px,#00f0ff 191.5px,#00e7ff 195.5px,#00dfff 199.5px,#00daff 203.5px,#00d8ff 207.5px,#00d6ff 211.5px,#00d6ff 215.5px,#00d6ff 219.5px,#00d3ff 223.5px,#00ceff 227.5px,#00c5ff 231.5px,#00bbff 235.5px)"></i>
<i style="left:496px;top:15px;width:4px;height:234px;background:linear-gradient(#fffb00 -0.5px,#fffe00 3.5px,#fffd00 7.5px,#fffa00 11.5px,#fff800 15.5px,#fffa00 19.5px,#fff600 23.5px,#ffe900 27.5px,#ffdb00 31.5px,#ffd800 35.5px,#ffe600 39.5px,#ffe700 43.5px,#ffe200 47.5px,#ffe000 51.5px,#ffe500 55.5px,#ffeb00 59.5px,#fff200 63.5px,#fffe00 67.5px,#eeff11 71.5px,#dbff24 75.5px,#c9ff36 79.5px,#bcff43 83.5px,#b6ff49 87.5px,#b5ff4a 91.5px,#b8ff47 95.5px,#bdff42 99.5px,#bfff40 103.5px,#bcff43 107.5px,#b2ff4d 111.5px,#a0ff5f 115.5px,#89ff76 119.5px,#72ff8d 123.5px,#5effa1 127.5px,#50ffaf 131.5px,#49ffb6 135.5px,#47ffb8 139.5px,#49ffb6 143.5px,#4bffb4 147.5px,#4effb1 151.5px,#51ffae 155.5px,#5affa5 159.5px,#69ff96 163.5px,#75ff8a 167.5px,#70ff8f 171.5px,#5affa5 175.5px,#3dffc2 179.5px,#23ffdc 183.5px,#0ffff0 187.5px,#01fffe 191.5px,#00f6ff 195.5px,#00eeff 199.5px,#00e9ff 203.5px,#00e5ff 207.5px,#00e4ff 211.5px,#00e4ff 215.5px,#00e3ff 219.5px,#00e0ff 223.5px,#00dbff 227.5px,#00d2ff 231.5px,#00c8ff 235.5px)"></i>
<i style="left:500px;top:17px;width:4px;height:231px;background:linear-gradient(#eaff15 -2.5px,#e9ff16 1.5px,#eaff15 5.5px,#ecff13 9.5px,#eeff11 13.5px,#edff12 17.5px,#f0ff0f 21.5px,#f9ff06 25.5px,#fff800 29.5px,#ffef00 33.5px,#ffe800 37.5px,#ffe300 41.5px,#ffe500 45.5px,#ffeb00 49.5px,#fff400 53.5px,#feff01 57.5px,#f1ff0e 61.5px,#e2ff1d 65.5px,#d1ff2e 69.5px,#c0ff3f 73.5px,#acff53 77.5px,#9cff63 81.5px,#96ff69 85.5px,#97ff68 89.5px,#9eff61 93.5px,#a7ff58 97.5px,#aeff51 101.5px,#aeff51 105.5px,#a6ff59 109.5px,#94ff6b 113.5px,#7bff84 117.5px,#61ff9e 121.5px,#4dffb2 125.5px,#41ffbe 129.5px,#3cffc3 133.5px,#3bffc4 137.5px,#3dffc2 141.5px,#3fffc0 145.5px,#3effc1 149.5px,#38ffc7 153.5px,#38ffc7 157.5px,#47ffb8 161.5px,#5affa5 165.5px,#58ffa7 169.5px,#41ffbe 173.5px,#24ffdb 177.5px,#0cfff3 181.5px,#00f8ff 185.5px,#00ebff 189.5px,#00e0ff 193.5px,#00d8ff 197.5px,#00d2ff 201.5px,#00cfff 205.5px,#00ceff 209.5px,#00ceff 213.5px,#00cdff 217.5px,#00caff 221.5px,#00c5ff 225.5px,#00bdff 229.5px,#00b2ff 233.5px)"></i>
<i style="left:504px;top:17px;width:4px;height:231px;background:linear-gradient(#e2ff1d -2.5px,#e0ff1f 1.5px,#e0ff1f 5.5px,#e0ff1f 9.5px,#e0ff1f 13.5px,#e0ff1f 17.5px,#e2ff1d 21.5px,#eaff15 25.5px,#f8ff07 29.5px,#fff300 33.5px,#ffde00 37.5px,#ffd500 41.5px,#ffde00 45.5px,#ffea00 49.5px,#fff900 53.5px,#f3ff0c 57.5px,#dfff20 61.5px,#caff35 65.5px,#b9ff46 69.5px,#abff54 73.5px,#97ff68 77.5px,#87ff78 81.5px,#83ff7c 85.5px,#88ff77 89.5px,#94ff6b 93.5px,#a2ff5d 97.5px,#afff50 101.5px,#b4ff4b 105.5px,#afff50 109.5px,#9dff62 113.5px,#82ff7d 117.5px,#64ff9b 121.5px,#4effb1 125.5px,#43ffbc 129.5px,#3fffc0 133.5px,#3effc1 137.5px,#40ffbf 141.5px,#43ffbc 145.5px,#40ffbf 149.5px,#30ffcf 153.5px,#24ffdb 157.5px,#35ffca 161.5px,#4fffb0 165.5px,#4effb1 169.5px,#33ffcc 173.5px,#17ffe8 177.5px,#01fffe 181.5px,#00eeff 185.5px,#00e2ff 189.5px,#00d8ff 193.5px,#00cfff 197.5px,#00c9ff 201.5px,#00c6ff 205.5px,#00c5ff 209.5px,#00c6ff 213.5px,#00c6ff 217.5px,#00c3ff 221.5px,#00beff 225.5px,#00b5ff 229.5px,#00aaff 233.5px)"></i>
<i style="left:508px;top:19px;width:4px;height:227px;background:linear-gradient(#e0ff1f -0.5px,#deff21 3.5px,#dcff23 7.5px,#daff25 11.5px,#d9ff26 15.5px,#dbff24 19.5px,#e2ff1d 23.5px,#f1ff0e 27.5px,#fff600 31.5px,#ffe000 35.5px,#ffd600 39.5px,#ffd900 43.5px,#ffe400 47.5px,#fff700 51.5px,#efff10 55.5px,#d3ff2c 59.5px,#b7ff48 63.5px,#a1ff5e 67.5px,#8fff70 71.5px,#7eff81 75.5px,#76ff89 79.5px,#7aff85 83.5px,#86ff79 87.5px,#96ff69 91.5px,#a8ff57 95.5px,#b9ff46 99.5px,#c6ff39 103.5px,#c7ff38 107.5px,#b6ff49 111.5px,#97ff68 115.5px,#77ff88 119.5px,#5effa1 123.5px,#50ffaf 127.5px,#4affb5 131.5px,#49ffb6 135.5px,#4cffb3 139.5px,#4dffb2 143.5px,#47ffb8 147.5px,#37ffc8 151.5px,#29ffd6 155.5px,#2fffd0 159.5px,#3fffc0 163.5px,#3effc1 167.5px,#2affd5 171.5px,#12ffed 175.5px,#00fcff 179.5px,#00ebff 183.5px,#00deff 187.5px,#00d4ff 191.5px,#00ccff 195.5px,#00c6ff 199.5px,#00c4ff 203.5px,#00c4ff 207.5px,#00c6ff 211.5px,#00c6ff 215.5px,#00c4ff 219.5px,#00bfff 223.5px,#00b5ff 227.5px)"></i>
<i style="left:512px;top:19px;width:4px;height:227px;background:linear-gradient(#f1ff0e -0.5px,#ecff13 3.5px,#e8ff17 7.5px,#e4ff1b 11.5px,#e2ff1d 15.5px,#e3ff1c 19.5px,#ebff14 23.5px,#f9ff06 27.5px,#ffec00 31.5px,#ffd400 35.5px,#ffc800 39.5px,#ffc600 43.5px,#ffce00 47.5px,#ffe300 51.5px,#feff01 55.5px,#dcff23 59.5px,#b9ff46 63.5px,#9cff63 67.5px,#87ff78 71.5px,#77ff88 75.5px,#7aff85 79.5px,#87ff78 83.5px,#99ff66 87.5px,#acff53 91.5px,#beff41 95.5px,#d2ff2d 99.5px,#e6ff19 103.5px,#f0ff0f 107.5px,#e0ff1f 111.5px,#bdff42 115.5px,#9aff65 119.5px,#80ff7f 123.5px,#6eff91 127.5px,#65ff9a 131.5px,#64ff9b 135.5px,#66ff99 139.5px,#67ff98 143.5px,#60ff9f 147.5px,#51ffae 151.5px,#41ffbe 155.5px,#3bffc4 159.5px,#3effc1 163.5px,#3cffc3 167.5px,#2fffd0 171.5px,#1cffe3 175.5px,#09fff6 179.5px,#00f7ff 183.5px,#00e9ff 187.5px,#00e0ff 191.5px,#00d8ff 195.5px,#00d2ff 199.5px,#00d0ff 203.5px,#00d1ff 207.5px,#00d3ff 211.5px,#00d5ff 215.5px,#00d3ff 219.5px,#00cdff 223.5px,#00c3ff 227.5px)"></i>
<i style="left:516px;top:19px;width:3px;height:227px;background:linear-gradient(#ecff13 -0.5px,#e4ff1b 3.5px,#dcff23 7.5px,#d6ff29 11.5px,#d4ff2b 15.5px,#d7ff28 19.5px,#e1ff1e 23.5px,#f2ff0d 27.5px,#fff300 31.5px,#ffd800 35.5px,#ffc400 39.5px,#ffbc00 43.5px,#ffc800 47.5px,#ffe300 51.5px,#faff05 55.5px,#d7ff28 59.5px,#b3ff4c 63.5px,#94ff6b 67.5px,#7cff83 71.5px,#70ff8f 75.5px,#76ff89 79.5px,#88ff77 83.5px,#9eff61 87.5px,#b1ff4e 91.5px,#c1ff3e 95.5px,#d1ff2e 99.5px,#e8ff17 103.5px,#f8ff07 107.5px,#e7ff18 111.5px,#c5ff3a 115.5px,#a4ff5b 119.5px,#8cff73 123.5px,#78ff87 127.5px,#6cff93 131.5px,#68ff97 135.5px,#68ff97 139.5px,#67ff98 143.5px,#62ff9d 147.5px,#52ffad 151.5px,#40ffbf 155.5px,#32ffcd 159.5px,#2dffd2 163.5px,#2affd5 167.5px,#20ffdf 171.5px,#12ffed 175.5px,#00ffff 179.5px,#00eeff 183.5px,#00e0ff 187.5px,#00d6ff 191.5px,#00cdff 195.5px,#00c6ff 199.5px,#00c5ff 203.5px,#00c5ff 207.5px,#00c6ff 211.5px,#00c7ff 215.5px,#00c6ff 219.5px,#00beff 223.5px,#00b4ff 227.5px)"></i>
<i style="left:519px;top:20px;width:4px;height:224px;background:linear-gradient(#dbff24 -1.5px,#cfff30 2.5px,#c4ff3b 6.5px,#bcff43 10.5px,#baff45 14.5px,#c0ff3f 18.5px,#cdff32 22.5px,#e1ff1e 26.5px,#fbff04 30.5px,#ffe800 34.5px,#ffcf00 38.5px,#ffc100 42.5px,#ffd200 46.5px,#fff000 50.5px,#ecff13 54.5px,#ccff33 58.5px,#acff53 62.5px,#8dff72 66.5px,#73ff8c 70.5px,#68ff97 74.5px,#71ff8e 78.5px,#87ff78 82.5px,#9dff62 86.5px,#afff50 90.5px,#baff45 94.5px,#c4ff3b 98.5px,#d0ff2f 102.5px,#d6ff29 106.5px,#cbff34 110.5px,#b5ff4a 114.5px,#9fff60 118.5px,#8aff75 122.5px,#77ff88 126.5px,#68ff97 130.5px,#5fffa0 134.5px,#5affa5 138.5px,#56ffa9 142.5px,#4effb1 146.5px,#40ffbf 150.5px,#2fffd0 154.5px,#22ffdd 158.5px,#19ffe6 162.5px,#13ffec 166.5px,#0afff5 170.5px,#00fcff 174.5px,#00ecff 178.5px,#00dbff 182.5px,#00ccff 186.5px,#00c0ff 190.5px,#00b6ff 194.5px,#00aeff 198.5px,#00aaff 202.5px,#00a7ff 206.5px,#00a6ff 210.5px,#00a4ff 214.5px,#00a0ff 218.5px,#0099ff 222.5px,#0090ff 226.5px)"></i>
<i style="left:523px;top:20px;width:4px;height:224px;background:linear-gradient(#e7ff18 -1.5px,#daff25 2.5px,#ccff33 6.5px,#c1ff3e 10.5px,#c0ff3f 14.5px,#c9ff36 18.5px,#d9ff26 22.5px,#eeff11 26.5px,#fff800 30.5px,#ffe000 34.5px,#ffcb00 38.5px,#ffc000 42.5px,#ffca00 46.5px,#ffe600 50.5px,#f9ff06 54.5px,#e0ff1f 58.5px,#c7ff38 62.5px,#a9ff56 66.5px,#8cff73 70.5px,#80ff7f 74.5px,#8fff70 78.5px,#a9ff56 82.5px,#c0ff3f 86.5px,#ccff33 90.5px,#cfff30 94.5px,#cdff32 98.5px,#caff35 102.5px,#c5ff3a 106.5px,#beff41 110.5px,#b6ff49 114.5px,#afff50 118.5px,#a3ff5c 122.5px,#8fff70 126.5px,#7cff83 130.5px,#6eff91 134.5px,#65ff9a 138.5px,#5cffa3 142.5px,#52ffad 146.5px,#45ffba 150.5px,#38ffc7 154.5px,#2cffd3 158.5px,#23ffdc 162.5px,#1bffe4 166.5px,#11ffee 170.5px,#04fffb 174.5px,#00f4ff 178.5px,#00e3ff 182.5px,#00d2ff 186.5px,#00c3ff 190.5px,#00b7ff 194.5px,#00adff 198.5px,#00a5ff 202.5px,#009fff 206.5px,#0099ff 210.5px,#0094ff 214.5px,#008eff 218.5px,#0087ff 222.5px,#0080ff 226.5px)"></i>
<i style="left:527px;top:22px;width:4px;height:220px;background:linear-gradient(#eeff11 -3.5px,#e1ff1e 0.5px,#d4ff2b 4.5px,#c8ff37 8.5px,#c6ff39 12.5px,#d2ff2d 16.5px,#e2ff1d 20.5px,#f5ff0a 24.5px,#fff300 28.5px,#ffde00 32.5px,#ffcf00 36.5px,#ffc300 40.5px,#ffc600 44.5px,#ffe200 48.5px,#feff01 52.5px,#eaff15 56.5px,#d7ff28 60.5px,#bdff42 64.5px,#9fff60 68.5px,#92ff6d 72.5px,#aaff55 76.5px,#caff35 80.5px,#dcff23 84.5px,#e1ff1e 88.5px,#daff25 92.5px,#caff35 96.5px,#b7ff48 100.5px,#a9ff56 104.5px,#a1ff5e 108.5px,#a6ff59 112.5px,#b2ff4d 116.5px,#b0ff4f 120.5px,#9bff64 124.5px,#82ff7d 128.5px,#71ff8e 132.5px,#64ff9b 136.5px,#57ffa8 140.5px,#4bffb4 144.5px,#3fffc0 148.5px,#34ffcb 152.5px,#2bffd4 156.5px,#23ffdc 160.5px,#1affe5 164.5px,#10ffef 168.5px,#02fffd 172.5px,#00f0ff 176.5px,#00ddff 180.5px,#00caff 184.5px,#00b8ff 188.5px,#00a8ff 192.5px,#009bff 196.5px,#008fff 200.5px,#0085ff 204.5px,#007cff 208.5px,#0073ff 212.5px,#006cff 216.5px,#0065ff 220.5px)"></i>
<i style="left:531px;top:22px;width:4px;height:220px;background:linear-gradient(#eaff15 -3.5px,#e0ff1f 0.5px,#d6ff29 4.5px,#ceff31 8.5px,#ceff31 12.5px,#d7ff28 16.5px,#e5ff1a 20.5px,#f5ff0a 24.5px,#fff700 28.5px,#ffe500 32.5px,#ffd400 36.5px,#ffc500 40.5px,#ffc600 44.5px,#ffe400 48.5px,#faff05 52.5px,#e3ff1c 56.5px,#cfff30 60.5px,#b8ff47 64.5px,#a4ff5b 68.5px,#a2ff5d 72.5px,#bbff44 76.5px,#d8ff27 80.5px,#e3ff1c 84.5px,#e3ff1c 88.5px,#d3ff2c 92.5px,#b7ff48 96.5px,#99ff66 100.5px,#84ff7b 104.5px,#7aff85 108.5px,#86ff79 112.5px,#a1ff5e 116.5px,#a9ff56 120.5px,#91ff6e 124.5px,#76ff89 128.5px,#65ff9a 132.5px,#55ffaa 136.5px,#44ffbb 140.5px,#34ffcb 144.5px,#28ffd7 148.5px,#1fffe0 152.5px,#18ffe7 156.5px,#10ffef 160.5px,#07fff8 164.5px,#00fbff 168.5px,#00ecff 172.5px,#00d9ff 176.5px,#00c3ff 180.5px,#00acff 184.5px,#0095ff 188.5px,#0081ff 192.5px,#0070ff 196.5px,#005fff 200.5px,#0052ff 204.5px,#0048ff 208.5px,#003dff 212.5px,#0035ff 216.5px,#0030ff 220.5px)"></i>
<i style="left:535px;top:22px;width:4px;height:220px;background:linear-gradient(#f4ff0b -3.5px,#efff10 0.5px,#eaff15 4.5px,#e7ff18 8.5px,#e9ff16 12.5px,#efff10 16.5px,#f8ff07 20.5px,#fffa00 24.5px,#ffed00 28.5px,#ffdf00 32.5px,#ffd100 36.5px,#ffc500 40.5px,#ffc900 44.5px,#ffe500 48.5px,#f9ff06 52.5px,#e0ff1f 56.5px,#cbff34 60.5px,#b9ff46 64.5px,#adff52 68.5px,#b0ff4f 72.5px,#c5ff3a 76.5px,#dcff23 80.5px,#e6ff19 84.5px,#e2ff1d 88.5px,#cfff30 92.5px,#b2ff4d 96.5px,#92ff6d 100.5px,#79ff86 104.5px,#6eff91 108.5px,#77ff88 112.5px,#8dff72 116.5px,#99ff66 120.5px,#8dff72 124.5px,#79ff86 128.5px,#66ff99 132.5px,#52ffad 136.5px,#3dffc2 140.5px,#29ffd6 144.5px,#1bffe4 148.5px,#12ffed 152.5px,#0bfff4 156.5px,#04fffb 160.5px,#00faff 164.5px,#00eeff 168.5px,#00deff 172.5px,#00c8ff 176.5px,#00aeff 180.5px,#0091ff 184.5px,#0074ff 188.5px,#0059ff 192.5px,#0041ff 196.5px,#002eff 200.5px,#001fff 204.5px,#0015ff 208.5px,#000cff 212.5px,#0007ff 216.5px,#0005ff 220.5px)"></i>
<i style="left:539px;top:24px;width:4px;height:216px;background:linear-gradient(#ffd700 -1.5px,#ffd600 2.5px,#ffd400 6.5px,#ffd100 10.5px,#ffce00 14.5px,#ffc900 18.5px,#ffc300 22.5px,#ffbc00 26.5px,#ffb500 30.5px,#ffaf00 34.5px,#ffad00 38.5px,#ffb700 42.5px,#ffcf00 46.5px,#ffea00 50.5px,#fdff02 54.5px,#eaff15 58.5px,#dbff24 62.5px,#d2ff2d 66.5px,#d6ff29 70.5px,#e6ff19 74.5px,#f9ff06 78.5px,#fffb00 82.5px,#ffff00 86.5px,#eeff11 90.5px,#d5ff2a 94.5px,#b8ff47 98.5px,#9eff61 102.5px,#8eff71 106.5px,#8fff70 110.5px,#9dff62 114.5px,#acff53 118.5px,#afff50 122.5px,#a3ff5c 126.5px,#90ff6f 130.5px,#77ff88 134.5px,#5cffa3 138.5px,#44ffbb 142.5px,#33ffcc 146.5px,#29ffd6 150.5px,#23ffdc 154.5px,#1dffe2 158.5px,#15ffea 162.5px,#08fff7 166.5px,#00f4ff 170.5px,#00dcff 174.5px,#00bdff 178.5px,#009aff 182.5px,#0075ff 186.5px,#0052ff 190.5px,#0034ff 194.5px,#001eff 198.5px,#0010ff 202.5px,#0007ff 206.5px,#0002ff 210.5px,#0000ff 214.5px,#0001ff 218.5px)"></i>
<i style="left:543px;top:24px;width:4px;height:216px;background:linear-gradient(#ffbd00 -1.5px,#ffb600 2.5px,#ffb000 6.5px,#ffad00 10.5px,#ffad00 14.5px,#ffad00 18.5px,#ffac00 22.5px,#ffab00 26.5px,#ffac00 30.5px,#ffaf00 34.5px,#ffb700 38.5px,#ffc500 42.5px,#ffdc00 46.5px,#fff200 50.5px,#faff05 54.5px,#eaff15 58.5px,#dbff24 62.5px,#d1ff2e 66.5px,#d1ff2e 70.5px,#e1ff1e 74.5px,#f3ff0c 78.5px,#fcff03 82.5px,#f9ff06 86.5px,#eaff15 90.5px,#d5ff2a 94.5px,#bdff42 98.5px,#a4ff5b 102.5px,#8eff71 106.5px,#86ff79 110.5px,#90ff6f 114.5px,#a6ff59 118.5px,#b4ff4b 122.5px,#aeff51 126.5px,#99ff66 130.5px,#7dff82 134.5px,#5bffa4 138.5px,#3effc1 142.5px,#2bffd4 146.5px,#22ffdd 150.5px,#1effe1 154.5px,#1affe5 158.5px,#12ffed 162.5px,#04fffb 166.5px,#00efff 170.5px,#00d4ff 174.5px,#00b1ff 178.5px,#0088ff 182.5px,#005bff 186.5px,#002fff 190.5px,#000aff 194.5px,#0000f2 198.5px,#0000e4 202.5px,#0000de 206.5px,#0000dd 210.5px,#0000e0 214.5px,#0000e4 218.5px)"></i>
<i style="left:547px;top:24px;width:4px;height:216px;background:linear-gradient(#ffac00 -1.5px,#ffa300 2.5px,#ff9900 6.5px,#ff9500 10.5px,#ff9900 14.5px,#ff9c00 18.5px,#ff9e00 22.5px,#ffa100 26.5px,#ffa800 30.5px,#ffb300 34.5px,#ffc100 38.5px,#ffd300 42.5px,#ffea00 46.5px,#fffe00 50.5px,#f3ff0c 54.5px,#e5ff1a 58.5px,#d6ff29 62.5px,#c7ff38 66.5px,#c2ff3d 70.5px,#d2ff2d 74.5px,#e4ff1b 78.5px,#eaff15 82.5px,#e6ff19 86.5px,#d7ff28 90.5px,#c5ff3a 94.5px,#b4ff4b 98.5px,#9cff63 102.5px,#84ff7b 106.5px,#78ff87 110.5px,#80ff7f 114.5px,#9fff60 118.5px,#b5ff4a 122.5px,#adff52 126.5px,#97ff68 130.5px,#77ff88 134.5px,#4fffb0 138.5px,#2cffd3 142.5px,#1affe5 146.5px,#14ffeb 150.5px,#14ffeb 154.5px,#12ffed 158.5px,#0bfff4 162.5px,#00fdff 166.5px,#00e8ff 170.5px,#00cbff 174.5px,#00a5ff 178.5px,#0077ff 182.5px,#0043ff 186.5px,#000fff 190.5px,#0000e2 194.5px,#0000cb 198.5px,#0000bf 202.5px,#0000ba 206.5px,#0000bd 210.5px,#0000c2 214.5px,#0000c9 218.5px)"></i>
<i style="left:551px;top:26px;width:3px;height:212px;background:linear-gradient(#ffa100 -3.5px,#ff9700 0.5px,#ff8f00 4.5px,#ff8d00 8.5px,#ff9000 12.5px,#ff9300 16.5px,#ff9500 20.5px,#ff9900 24.5px,#ffa100 28.5px,#ffae00 32.5px,#ffbf00 36.5px,#ffd300 40.5px,#ffeb00 44.5px,#fffe00 48.5px,#f1ff0e 52.5px,#e3ff1c 56.5px,#d2ff2d 60.5px,#c2ff3d 64.5px,#bcff43 68.5px,#c4ff3b 72.5px,#d1ff2e 76.5px,#d4ff2b 80.5px,#cbff34 84.5px,#b9ff46 88.5px,#a5ff5a 92.5px,#97ff68 96.5px,#87ff78 100.5px,#79ff86 104.5px,#75ff8a 108.5px,#83ff7c 112.5px,#9eff61 116.5px,#aeff51 120.5px,#a4ff5b 124.5px,#89ff76 128.5px,#65ff9a 132.5px,#3cffc3 136.5px,#1affe5 140.5px,#0afff5 144.5px,#08fff7 148.5px,#0cfff3 152.5px,#0efff1 156.5px,#09fff6 160.5px,#00fbff 164.5px,#00e7ff 168.5px,#00c9ff 172.5px,#00a2ff 176.5px,#0070ff 180.5px,#0038ff 184.5px,#0000fe 188.5px,#0000d1 192.5px,#0000b6 196.5px,#0000aa 200.5px,#0000a7 204.5px,#0000aa 208.5px,#0000b1 212.5px)"></i>
<i style="left:554px;top:26px;width:4px;height:212px;background:linear-gradient(#ff8d00 -3.5px,#ff8500 0.5px,#ff8100 4.5px,#ff8200 8.5px,#ff8400 12.5px,#ff8400 16.5px,#ff8300 20.5px,#ff8500 24.5px,#ff8c00 28.5px,#ff9800 32.5px,#ffab00 36.5px,#ffc100 40.5px,#ffd800 44.5px,#ffec00 48.5px,#fffe00 52.5px,#efff10 56.5px,#dcff23 60.5px,#cbff34 64.5px,#c2ff3d 68.5px,#c4ff3b 72.5px,#caff35 76.5px,#c9ff36 80.5px,#b9ff46 84.5px,#9fff60 88.5px,#87ff78 92.5px,#7cff83 96.5px,#78ff87 100.5px,#79ff86 104.5px,#84ff7b 108.5px,#9aff65 112.5px,#aeff51 116.5px,#b2ff4d 120.5px,#a1ff5e 124.5px,#82ff7d 128.5px,#5bffa4 132.5px,#31ffce 136.5px,#12ffed 140.5px,#05fffa 144.5px,#09fff6 148.5px,#13ffec 152.5px,#18ffe7 156.5px,#15ffea 160.5px,#09fff6 164.5px,#00f4ff 168.5px,#00d8ff 172.5px,#00b2ff 176.5px,#0080ff 180.5px,#0046ff 184.5px,#000cff 188.5px,#0000dc 192.5px,#0000bf 196.5px,#0000b3 200.5px,#0000af 204.5px,#0000b2 208.5px,#0000b8 212.5px)"></i>
<i style="left:558px;top:28px;width:4px;height:208px;background:linear-gradient(#ff7e00 -1.5px,#ff7b00 2.5px,#ff7e00 6.5px,#ff8200 10.5px,#ff7d00 14.5px,#ff7a00 18.5px,#ff7b00 22.5px,#ff8200 26.5px,#ff8d00 30.5px,#ffa100 34.5px,#ffba00 38.5px,#ffd100 42.5px,#ffe600 46.5px,#fffa00 50.5px,#f1ff0e 54.5px,#ddff22 58.5px,#caff35 62.5px,#bdff42 66.5px,#baff45 70.5px,#bdff42 74.5px,#baff45 78.5px,#a3ff5c 82.5px,#81ff7e 86.5px,#65ff9a 90.5px,#60ff9f 94.5px,#68ff97 98.5px,#75ff8a 102.5px,#8bff74 106.5px,#a9ff56 110.5px,#baff45 114.5px,#b2ff4d 118.5px,#99ff66 122.5px,#76ff89 126.5px,#4effb1 130.5px,#24ffdb 134.5px,#02fffd 138.5px,#00f9ff 142.5px,#04fffb 146.5px,#14ffeb 150.5px,#1cffe3 154.5px,#18ffe7 158.5px,#0dfff2 162.5px,#00faff 166.5px,#00e1ff 170.5px,#00c0ff 174.5px,#0092ff 178.5px,#0057ff 182.5px,#001dff 186.5px,#0000ec 190.5px,#0000d1 194.5px,#0000c4 198.5px,#0000bf 202.5px,#0000c0 206.5px,#0000c4 210.5px)"></i>
<i style="left:562px;top:28px;width:4px;height:208px;background:linear-gradient(#ff8400 -1.5px,#ff8000 2.5px,#ff8100 6.5px,#ff8200 10.5px,#ff7f00 14.5px,#ff7d00 18.5px,#ff8200 22.5px,#ff8c00 26.5px,#ff9c00 30.5px,#ffb300 34.5px,#ffce00 38.5px,#ffe400 42.5px,#fff800 46.5px,#f1ff0e 50.5px,#ddff22 54.5px,#c9ff36 58.5px,#b6ff49 62.5px,#a7ff58 66.5px,#a0ff5f 70.5px,#a1ff5e 74.5px,#9dff62 78.5px,#86ff79 82.5px,#67ff98 86.5px,#4dffb2 90.5px,#4dffb2 94.5px,#5bffa4 98.5px,#6dff92 102.5px,#86ff79 106.5px,#a2ff5d 110.5px,#afff50 114.5px,#a3ff5c 118.5px,#8aff75 122.5px,#68ff97 126.5px,#42ffbd 130.5px,#17ffe8 134.5px,#00f3ff 138.5px,#00e9ff 142.5px,#00f2ff 146.5px,#02fffd 150.5px,#0afff5 154.5px,#07fff8 158.5px,#00fdff 162.5px,#00eeff 166.5px,#00daff 170.5px,#00bfff 174.5px,#0097ff 178.5px,#0063ff 182.5px,#002eff 186.5px,#0001ff 190.5px,#0000e6 194.5px,#0000d7 198.5px,#0000cf 202.5px,#0000cd 206.5px,#0000cd 210.5px)"></i>
<i style="left:566px;top:28px;width:4px;height:208px;background:linear-gradient(#ff8300 -1.5px,#ff7b00 2.5px,#ff7400 6.5px,#ff7100 10.5px,#ff7400 14.5px,#ff7a00 18.5px,#ff8400 22.5px,#ff9400 26.5px,#ffad00 30.5px,#ffcc00 34.5px,#ffe600 38.5px,#fffb00 42.5px,#f0ff0f 46.5px,#dcff23 50.5px,#c8ff37 54.5px,#b5ff4a 58.5px,#a4ff5b 62.5px,#96ff69 66.5px,#8eff71 70.5px,#8cff73 74.5px,#88ff77 78.5px,#7bff84 82.5px,#67ff98 86.5px,#5affa5 90.5px,#5bffa4 94.5px,#67ff98 98.5px,#79ff86 102.5px,#8cff73 106.5px,#9cff63 110.5px,#a2ff5d 114.5px,#9bff64 118.5px,#8bff74 122.5px,#72ff8d 126.5px,#4effb1 130.5px,#24ffdb 134.5px,#00fdff 138.5px,#00ebff 142.5px,#00ecff 146.5px,#00f4ff 150.5px,#00faff 154.5px,#00f8ff 158.5px,#00f0ff 162.5px,#00e5ff 166.5px,#00d7ff 170.5px,#00c2ff 174.5px,#00a4ff 178.5px,#007dff 182.5px,#0053ff 186.5px,#002dff 190.5px,#0012ff 194.5px,#0000ff 198.5px,#0000f3 202.5px,#0000eb 206.5px,#0000e7 210.5px)"></i>
<i style="left:570px;top:30px;width:4px;height:205px;background:linear-gradient(#ff8200 -3.5px,#ff7700 0.5px,#ff6b00 4.5px,#ff6300 8.5px,#ff6b00 12.5px,#ff7600 16.5px,#ff8200 20.5px,#ff9900 24.5px,#ffba00 28.5px,#ffe100 32.5px,#fffd00 36.5px,#edff12 40.5px,#daff25 44.5px,#c5ff3a 48.5px,#b1ff4e 52.5px,#a0ff5f 56.5px,#93ff6c 60.5px,#87ff78 64.5px,#81ff7e 68.5px,#80ff7f 72.5px,#81ff7e 76.5px,#7eff81 80.5px,#78ff87 84.5px,#75ff8a 88.5px,#7aff85 92.5px,#84ff7b 96.5px,#90ff6f 100.5px,#99ff66 104.5px,#9dff62 108.5px,#9cff63 112.5px,#99ff66 116.5px,#96ff69 120.5px,#8cff73 124.5px,#70ff8f 128.5px,#41ffbe 132.5px,#13ffec 136.5px,#00f6ff 140.5px,#00eeff 144.5px,#00f1ff 148.5px,#00f3ff 152.5px,#00efff 156.5px,#00e8ff 160.5px,#00e0ff 164.5px,#00d8ff 168.5px,#00ccff 172.5px,#00baff 176.5px,#00a0ff 180.5px,#0082ff 184.5px,#0064ff 188.5px,#004aff 192.5px,#0034ff 196.5px,#0022ff 200.5px,#0015ff 204.5px,#000cff 208.5px)"></i>
<i style="left:574px;top:30px;width:4px;height:205px;background:linear-gradient(#ff7e00 -3.5px,#ff7500 0.5px,#ff6c00 4.5px,#ff6800 8.5px,#ff6900 12.5px,#ff6d00 16.5px,#ff7800 20.5px,#ff9200 24.5px,#ffb800 28.5px,#ffe200 32.5px,#fbff04 36.5px,#e3ff1c 40.5px,#cdff32 44.5px,#b6ff49 48.5px,#a0ff5f 52.5px,#91ff6e 56.5px,#87ff78 60.5px,#82ff7d 64.5px,#82ff7d 68.5px,#87ff78 72.5px,#8eff71 76.5px,#93ff6c 80.5px,#98ff67 84.5px,#9dff62 88.5px,#a5ff5a 92.5px,#aeff51 96.5px,#b5ff4a 100.5px,#b4ff4b 104.5px,#abff54 108.5px,#a1ff5e 112.5px,#a1ff5e 116.5px,#b0ff4f 120.5px,#bbff44 124.5px,#a9ff56 128.5px,#70ff8f 132.5px,#31ffce 136.5px,#0dfff2 140.5px,#02fffd 144.5px,#02fffd 148.5px,#00ffff 152.5px,#00f7ff 156.5px,#00ecff 160.5px,#00e6ff 164.5px,#00e5ff 168.5px,#00e4ff 172.5px,#00dcff 176.5px,#00ceff 180.5px,#00bcff 184.5px,#00a5ff 188.5px,#008cff 192.5px,#0073ff 196.5px,#005dff 200.5px,#004bff 204.5px,#003dff 208.5px)"></i>
<i style="left:578px;top:31px;width:4px;height:202px;background:linear-gradient(#ff9b00 -0.5px,#ff9900 3.5px,#ff9b00 7.5px,#ff9500 11.5px,#ff8d00 15.5px,#ff9100 19.5px,#ffae00 23.5px,#ffd600 27.5px,#feff01 31.5px,#daff25 35.5px,#bcff43 39.5px,#a2ff5d 43.5px,#88ff77 47.5px,#71ff8e 51.5px,#64ff9b 55.5px,#60ff9f 59.5px,#61ff9e 63.5px,#69ff96 67.5px,#75ff8a 71.5px,#81ff7e 75.5px,#8dff72 79.5px,#99ff66 83.5px,#a4ff5b 87.5px,#aeff51 91.5px,#b6ff49 95.5px,#bbff44 99.5px,#b3ff4c 103.5px,#9eff61 107.5px,#8aff75 111.5px,#89ff76 115.5px,#acff53 119.5px,#d0ff2f 123.5px,#ceff31 127.5px,#85ff7a 131.5px,#30ffcf 135.5px,#0afff5 139.5px,#02fffd 143.5px,#01fffe 147.5px,#00faff 151.5px,#00ebff 155.5px,#00daff 159.5px,#00d4ff 163.5px,#00daff 167.5px,#00e1ff 171.5px,#00e2ff 175.5px,#00dcff 179.5px,#00d2ff 183.5px,#00c3ff 187.5px,#00aaff 191.5px,#008fff 195.5px,#0076ff 199.5px,#0061ff 203.5px)"></i>
<i style="left:582px;top:31px;width:4px;height:202px;background:linear-gradient(#ffc600 -0.5px,#ffc700 3.5px,#ffcb00 7.5px,#ffc500 11.5px,#ffbc00 15.5px,#ffc000 19.5px,#ffdd00 23.5px,#fcff03 27.5px,#d5ff2a 31.5px,#b1ff4e 35.5px,#93ff6c 39.5px,#77ff88 43.5px,#5dffa2 47.5px,#49ffb6 51.5px,#40ffbf 55.5px,#41ffbe 59.5px,#49ffb6 63.5px,#57ffa8 67.5px,#67ff98 71.5px,#76ff89 75.5px,#85ff7a 79.5px,#93ff6c 83.5px,#a1ff5e 87.5px,#acff53 91.5px,#b4ff4b 95.5px,#b7ff48 99.5px,#acff53 103.5px,#94ff6b 107.5px,#7fff80 111.5px,#81ff7e 115.5px,#a9ff56 119.5px,#d6ff29 123.5px,#dcff23 127.5px,#98ff67 131.5px,#44ffbb 135.5px,#1dffe2 139.5px,#11ffee 143.5px,#0bfff4 147.5px,#00ffff 151.5px,#00ebff 155.5px,#00d7ff 159.5px,#00cfff 163.5px,#00d5ff 167.5px,#00deff 171.5px,#00e3ff 175.5px,#00e3ff 179.5px,#00deff 183.5px,#00d2ff 187.5px,#00bbff 191.5px,#00a1ff 195.5px,#0088ff 199.5px,#0072ff 203.5px)"></i>
<i style="left:586px;top:31px;width:4px;height:202px;background:linear-gradient(#ffe200 -0.5px,#ffe400 3.5px,#ffe500 7.5px,#ffe500 11.5px,#ffe800 15.5px,#fff500 19.5px,#f0ff0f 23.5px,#d0ff2f 27.5px,#afff50 31.5px,#90ff6f 35.5px,#75ff8a 39.5px,#5cffa3 43.5px,#47ffb8 47.5px,#38ffc7 51.5px,#34ffcb 55.5px,#3bffc4 59.5px,#49ffb6 63.5px,#59ffa6 67.5px,#69ff96 71.5px,#78ff87 75.5px,#86ff79 79.5px,#95ff6a 83.5px,#a2ff5d 87.5px,#aeff51 91.5px,#b5ff4a 95.5px,#b6ff49 99.5px,#acff53 103.5px,#9aff65 107.5px,#8cff73 111.5px,#93ff6c 115.5px,#b4ff4b 119.5px,#d9ff26 123.5px,#deff21 127.5px,#b5ff4a 131.5px,#79ff86 135.5px,#50ffaf 139.5px,#3bffc4 143.5px,#2dffd2 147.5px,#1cffe3 151.5px,#06fff9 155.5px,#00f0ff 159.5px,#00e5ff 163.5px,#00e5ff 167.5px,#00eaff 171.5px,#00efff 175.5px,#00f0ff 179.5px,#00ecff 183.5px,#00e1ff 187.5px,#00cfff 191.5px,#00b9ff 195.5px,#00a1ff 199.5px,#008bff 203.5px)"></i>
<i style="left:590px;top:33px;width:4px;height:198px;background:linear-gradient(#fff600 -2.5px,#fff800 1.5px,#fffa00 5.5px,#feff01 9.5px,#efff10 13.5px,#daff25 17.5px,#c4ff3b 21.5px,#a9ff56 25.5px,#90ff6f 29.5px,#79ff86 33.5px,#63ff9c 37.5px,#50ffaf 41.5px,#41ffbe 45.5px,#37ffc8 49.5px,#39ffc6 53.5px,#46ffb9 57.5px,#57ffa8 61.5px,#68ff97 65.5px,#75ff8a 69.5px,#81ff7e 73.5px,#8dff72 77.5px,#99ff66 81.5px,#a6ff59 85.5px,#b1ff4e 89.5px,#b9ff46 93.5px,#bcff43 97.5px,#b5ff4a 101.5px,#a9ff56 105.5px,#a0ff5f 109.5px,#a5ff5a 113.5px,#c0ff3f 117.5px,#e2ff1d 121.5px,#eeff11 125.5px,#d7ff28 129.5px,#acff53 133.5px,#87ff78 137.5px,#6eff91 141.5px,#5bffa4 145.5px,#46ffb9 149.5px,#2cffd3 153.5px,#14ffeb 157.5px,#05fffa 161.5px,#00ffff 165.5px,#01fffe 169.5px,#03fffc 173.5px,#03fffc 177.5px,#00fdff 181.5px,#00f3ff 185.5px,#00e4ff 189.5px,#00d2ff 193.5px,#00bdff 197.5px,#00a8ff 201.5px)"></i>
<i style="left:594px;top:33px;width:3px;height:198px;background:linear-gradient(#dfff20 -2.5px,#dcff23 1.5px,#d8ff27 5.5px,#cdff32 9.5px,#baff45 13.5px,#a2ff5d 17.5px,#8cff73 21.5px,#78ff87 25.5px,#66ff99 29.5px,#57ffa8 33.5px,#47ffb8 37.5px,#3affc5 41.5px,#30ffcf 45.5px,#2dffd2 49.5px,#34ffcb 53.5px,#43ffbc 57.5px,#54ffab 61.5px,#63ff9c 65.5px,#6cff93 69.5px,#74ff8b 73.5px,#7dff82 77.5px,#87ff78 81.5px,#92ff6d 85.5px,#9dff62 89.5px,#a8ff57 93.5px,#aeff51 97.5px,#adff52 101.5px,#a5ff5a 105.5px,#9dff62 109.5px,#9dff62 113.5px,#b1ff4e 117.5px,#d6ff29 121.5px,#ecff13 125.5px,#dcff23 129.5px,#baff45 133.5px,#99ff66 137.5px,#81ff7e 141.5px,#70ff8f 145.5px,#59ffa6 149.5px,#3bffc4 153.5px,#21ffde 157.5px,#0ffff0 161.5px,#07fff8 165.5px,#04fffb 169.5px,#04fffb 173.5px,#02fffd 177.5px,#00fbff 181.5px,#00f1ff 185.5px,#00e4ff 189.5px,#00d4ff 193.5px,#00c2ff 197.5px,#00afff 201.5px)"></i>
<i style="left:597px;top:33px;width:4px;height:198px;background:linear-gradient(#bfff40 -2.5px,#baff45 1.5px,#b3ff4c 5.5px,#a7ff58 9.5px,#94ff6b 13.5px,#7dff82 17.5px,#69ff96 21.5px,#5affa5 25.5px,#50ffaf 29.5px,#48ffb7 33.5px,#3fffc0 37.5px,#36ffc9 41.5px,#32ffcd 45.5px,#34ffcb 49.5px,#3fffc0 53.5px,#4fffb0 57.5px,#5fffa0 61.5px,#68ff97 65.5px,#6cff93 69.5px,#70ff8f 73.5px,#75ff8a 77.5px,#7dff82 81.5px,#88ff77 85.5px,#94ff6b 89.5px,#a0ff5f 93.5px,#abff54 97.5px,#afff50 101.5px,#acff53 105.5px,#a6ff59 109.5px,#a2ff5d 113.5px,#adff52 117.5px,#cdff32 121.5px,#e3ff1c 125.5px,#d4ff2b 129.5px,#b8ff47 133.5px,#9dff62 137.5px,#89ff76 141.5px,#7aff85 145.5px,#66ff99 149.5px,#49ffb6 153.5px,#30ffcf 157.5px,#1fffe0 161.5px,#17ffe8 165.5px,#12ffed 169.5px,#10ffef 173.5px,#0cfff3 177.5px,#05fffa 181.5px,#00faff 185.5px,#00efff 189.5px,#00e0ff 193.5px,#00d0ff 197.5px,#00beff 201.5px)"></i>
<i style="left:601px;top:35px;width:4px;height:194px;background:linear-gradient(#a5ff5a -0.5px,#9dff62 3.5px,#92ff6d 7.5px,#80ff7f 11.5px,#6bff94 15.5px,#5affa5 19.5px,#52ffad 23.5px,#50ffaf 27.5px,#4fffb0 31.5px,#4affb5 35.5px,#46ffb9 39.5px,#45ffba 43.5px,#4dffb2 47.5px,#5bffa4 51.5px,#6dff92 55.5px,#79ff86 59.5px,#7cff83 63.5px,#79ff86 67.5px,#76ff89 71.5px,#78ff87 75.5px,#80ff7f 79.5px,#8bff74 83.5px,#99ff66 87.5px,#a7ff58 91.5px,#b4ff4b 95.5px,#bfff40 99.5px,#c3ff3c 103.5px,#c1ff3e 107.5px,#bbff44 111.5px,#bcff43 115.5px,#c7ff38 119.5px,#cdff32 123.5px,#c1ff3e 127.5px,#abff54 131.5px,#96ff69 135.5px,#87ff78 139.5px,#7aff85 143.5px,#6bff94 147.5px,#57ffa8 151.5px,#45ffba 155.5px,#39ffc6 159.5px,#32ffcd 163.5px,#2effd1 167.5px,#2bffd4 171.5px,#27ffd8 175.5px,#20ffdf 179.5px,#16ffe9 183.5px,#0afff5 187.5px,#00faff 191.5px,#00eaff 195.5px)"></i>
<i style="left:605px;top:35px;width:4px;height:194px;background:linear-gradient(#6fff90 -0.5px,#66ff99 3.5px,#5bffa4 7.5px,#4dffb2 11.5px,#3effc1 15.5px,#33ffcc 19.5px,#31ffce 23.5px,#33ffcc 27.5px,#37ffc8 31.5px,#36ffc9 35.5px,#36ffc9 39.5px,#3affc5 43.5px,#45ffba 47.5px,#57ffa8 51.5px,#69ff96 55.5px,#73ff8c 59.5px,#6fff90 63.5px,#64ff9b 67.5px,#5affa5 71.5px,#5affa5 75.5px,#63ff9c 79.5px,#70ff8f 83.5px,#7eff81 87.5px,#8dff72 91.5px,#9dff62 95.5px,#aeff51 99.5px,#bbff44 103.5px,#bcff43 107.5px,#b0ff4f 111.5px,#a3ff5c 115.5px,#99ff66 119.5px,#8fff70 123.5px,#7fff80 127.5px,#6cff93 131.5px,#5dffa2 135.5px,#54ffab 139.5px,#4cffb3 143.5px,#44ffbb 147.5px,#3affc5 151.5px,#31ffce 155.5px,#2bffd4 159.5px,#27ffd8 163.5px,#26ffd9 167.5px,#23ffdc 171.5px,#1fffe0 175.5px,#18ffe7 179.5px,#0efff1 183.5px,#01fffe 187.5px,#00f1ff 191.5px,#00e0ff 195.5px)"></i>
<i style="left:609px;top:37px;width:4px;height:190px;background:linear-gradient(#5fffa0 -2.5px,#53ffac 1.5px,#49ffb6 5.5px,#41ffbe 9.5px,#3bffc4 13.5px,#39ffc6 17.5px,#3bffc4 21.5px,#3fffc0 25.5px,#44ffbb 29.5px,#47ffb8 33.5px,#4bffb4 37.5px,#54ffab 41.5px,#63ff9c 45.5px,#78ff87 49.5px,#8bff74 53.5px,#92ff6d 57.5px,#89ff76 61.5px,#75ff8a 65.5px,#64ff9b 69.5px,#63ff9c 73.5px,#6eff91 77.5px,#7dff82 81.5px,#8cff73 85.5px,#9bff64 89.5px,#aaff55 93.5px,#c0ff3f 97.5px,#d8ff27 101.5px,#dbff24 105.5px,#c4ff3b 109.5px,#a6ff59 113.5px,#8dff72 117.5px,#77ff88 121.5px,#62ff9d 125.5px,#4fffb0 129.5px,#46ffb9 133.5px,#43ffbc 137.5px,#41ffbe 141.5px,#3fffc0 145.5px,#3effc1 149.5px,#3dffc2 153.5px,#3cffc3 157.5px,#3dffc2 161.5px,#3fffc0 165.5px,#3effc1 169.5px,#39ffc6 173.5px,#33ffcc 177.5px,#29ffd6 181.5px,#1bffe4 185.5px,#0bfff4 189.5px,#00faff 193.5px)"></i>
<i style="left:613px;top:37px;width:4px;height:190px;background:linear-gradient(#3bffc4 -2.5px,#2fffd0 1.5px,#24ffdb 5.5px,#22ffdd 9.5px,#25ffda 13.5px,#2bffd4 17.5px,#30ffcf 21.5px,#36ffc9 25.5px,#3cffc3 29.5px,#42ffbd 33.5px,#49ffb6 37.5px,#55ffaa 41.5px,#68ff97 45.5px,#82ff7d 49.5px,#97ff68 53.5px,#9fff60 57.5px,#91ff6e 61.5px,#76ff89 65.5px,#5effa1 69.5px,#5cffa3 73.5px,#68ff97 77.5px,#79ff86 81.5px,#89ff76 85.5px,#98ff67 89.5px,#a6ff59 93.5px,#bcff43 97.5px,#d6ff29 101.5px,#d6ff29 105.5px,#b5ff4a 109.5px,#8dff72 113.5px,#6aff95 117.5px,#50ffaf 121.5px,#38ffc7 125.5px,#25ffda 129.5px,#21ffde 133.5px,#23ffdc 137.5px,#24ffdb 141.5px,#26ffd9 145.5px,#2affd5 149.5px,#2effd1 153.5px,#32ffcd 157.5px,#37ffc8 161.5px,#3bffc4 165.5px,#3bffc4 169.5px,#37ffc8 173.5px,#31ffce 177.5px,#27ffd8 181.5px,#19ffe6 185.5px,#09fff6 189.5px,#00f8ff 193.5px)"></i>
<i style="left:617px;top:37px;width:4px;height:190px;background:linear-gradient(#34ffcb -2.5px,#28ffd7 1.5px,#1effe1 5.5px,#1fffe0 9.5px,#27ffd8 13.5px,#32ffcd 17.5px,#3affc5 21.5px,#41ffbe 25.5px,#49ffb6 29.5px,#52ffad 33.5px,#5cffa3 37.5px,#6bff94 41.5px,#82ff7d 45.5px,#9fff60 49.5px,#b7ff48 53.5px,#c1ff3e 57.5px,#b1ff4e 61.5px,#94ff6b 65.5px,#7cff83 69.5px,#75ff8a 73.5px,#7dff82 77.5px,#8eff71 81.5px,#a1ff5e 85.5px,#b3ff4c 89.5px,#c2ff3d 93.5px,#d1ff2e 97.5px,#daff25 101.5px,#cfff30 105.5px,#aeff51 109.5px,#86ff79 113.5px,#63ff9c 117.5px,#49ffb6 121.5px,#34ffcb 125.5px,#27ffd8 129.5px,#23ffdc 133.5px,#25ffda 137.5px,#28ffd7 141.5px,#2bffd4 145.5px,#2fffd0 149.5px,#34ffcb 153.5px,#3affc5 157.5px,#40ffbf 161.5px,#46ffb9 165.5px,#47ffb8 169.5px,#44ffbb 173.5px,#3dffc2 177.5px,#33ffcc 181.5px,#27ffd8 185.5px,#18ffe7 189.5px,#09fff6 193.5px)"></i>
<i style="left:621px;top:38px;width:4px;height:187px;background:linear-gradient(#26ffd9 -3.5px,#1cffe3 0.5px,#17ffe8 4.5px,#18ffe7 8.5px,#1fffe0 12.5px,#29ffd6 16.5px,#34ffcb 20.5px,#3fffc0 24.5px,#4affb5 28.5px,#55ffaa 32.5px,#62ff9d 36.5px,#74ff8b 40.5px,#8eff71 44.5px,#adff52 48.5px,#c6ff39 52.5px,#cfff30 56.5px,#c1ff3e 60.5px,#a6ff59 64.5px,#8dff72 68.5px,#83ff7c 72.5px,#88ff77 76.5px,#9aff65 80.5px,#b0ff4f 84.5px,#c5ff3a 88.5px,#d4ff2b 92.5px,#d8ff27 96.5px,#cdff32 100.5px,#b5ff4a 104.5px,#92ff6d 108.5px,#6dff92 112.5px,#4fffb0 116.5px,#3affc5 120.5px,#2dffd2 124.5px,#25ffda 128.5px,#22ffdd 132.5px,#23ffdc 136.5px,#25ffda 140.5px,#28ffd7 144.5px,#29ffd6 148.5px,#2cffd3 152.5px,#31ffce 156.5px,#39ffc6 160.5px,#40ffbf 164.5px,#42ffbd 168.5px,#3effc1 172.5px,#37ffc8 176.5px,#2dffd2 180.5px,#22ffdd 184.5px,#16ffe9 188.5px)"></i>
<i style="left:625px;top:38px;width:4px;height:187px;background:linear-gradient(#1affe5 -3.5px,#13ffec 0.5px,#10ffef 4.5px,#10ffef 8.5px,#15ffea 12.5px,#1effe1 16.5px,#2affd5 20.5px,#38ffc7 24.5px,#47ffb8 28.5px,#54ffab 32.5px,#63ff9c 36.5px,#76ff89 40.5px,#92ff6d 44.5px,#b4ff4b 48.5px,#d1ff2e 52.5px,#dcff23 56.5px,#cdff32 60.5px,#b0ff4f 64.5px,#95ff6a 68.5px,#89ff76 72.5px,#8fff70 76.5px,#a2ff5d 80.5px,#bbff44 84.5px,#d3ff2c 88.5px,#e2ff1d 92.5px,#daff25 96.5px,#bdff42 100.5px,#97ff68 104.5px,#71ff8e 108.5px,#50ffaf 112.5px,#38ffc7 116.5px,#2affd5 120.5px,#23ffdc 124.5px,#22ffdd 128.5px,#1fffe0 132.5px,#1fffe0 136.5px,#21ffde 140.5px,#22ffdd 144.5px,#21ffde 148.5px,#21ffde 152.5px,#25ffda 156.5px,#2dffd2 160.5px,#34ffcb 164.5px,#36ffc9 168.5px,#33ffcc 172.5px,#2bffd4 176.5px,#22ffdd 180.5px,#19ffe6 184.5px,#0efff1 188.5px)"></i>
<i style="left:629px;top:40px;width:3px;height:183px;background:linear-gradient(#0ffff0 -1.5px,#0efff1 2.5px,#0efff1 6.5px,#10ffef 10.5px,#17ffe8 14.5px,#25ffda 18.5px,#36ffc9 22.5px,#47ffb8 26.5px,#56ffa9 30.5px,#65ff9a 34.5px,#78ff87 38.5px,#94ff6b 42.5px,#b9ff46 46.5px,#daff25 50.5px,#eaff15 54.5px,#d9ff26 58.5px,#b9ff46 62.5px,#9cff63 66.5px,#91ff6e 70.5px,#97ff68 74.5px,#aaff55 78.5px,#c5ff3a 82.5px,#dfff20 86.5px,#eeff11 90.5px,#deff21 94.5px,#b0ff4f 98.5px,#7fff80 102.5px,#57ffa8 106.5px,#38ffc7 110.5px,#27ffd8 114.5px,#1effe1 118.5px,#1bffe4 122.5px,#1bffe4 126.5px,#1bffe4 130.5px,#1bffe4 134.5px,#1cffe3 138.5px,#1cffe3 142.5px,#1bffe4 146.5px,#1bffe4 150.5px,#1fffe0 154.5px,#25ffda 158.5px,#2affd5 162.5px,#2bffd4 166.5px,#28ffd7 170.5px,#22ffdd 174.5px,#1affe5 178.5px,#11ffee 182.5px,#08fff7 186.5px)"></i>
<div class="cb"></div><div class="cb" style="left:641px"></div>
<div class="blk" style="left:57px;top:259px"></div><div class="blk" style="left:399px;top:259px"></div>
<svg width="685" height="303" viewBox="0 0 685 303">
<path d="M56.5 2.5H290.5V261.5H56.5Z" fill="none" stroke="#3a3a3a" stroke-width="1"/>
<path d="M60.50 261.5v-3.0M60.50 2.5v3.0M65.90 261.5v-3.0M65.90 2.5v3.0M71.30 261.5v-3.0M71.30 2.5v3.0M76.70 261.5v-3.0M76.70 2.5v3.0M82.10 261.5v-3.0M82.10 2.5v3.0M87.50 261.5v-5.5M87.50 2.5v5.5M92.90 261.5v-3.0M92.90 2.5v3.0M98.30 261.5v-3.0M98.30 2.5v3.0M103.70 261.5v-3.0M103.70 2.5v3.0M109.10 261.5v-3.0M109.10 2.5v3.0M114.50 261.5v-3.0M114.50 2.5v3.0M119.90 261.5v-3.0M119.90 2.5v3.0M125.30 261.5v-3.0M125.30 2.5v3.0M130.70 261.5v-3.0M130.70 2.5v3.0M136.10 261.5v-3.0M136.10 2.5v3.0M141.50 261.5v-5.5M141.50 2.5v5.5M146.90 261.5v-3.0M146.90 2.5v3.0M152.30 261.5v-3.0M152.30 2.5v3.0M157.70 261.5v-3.0M157.70 2.5v3.0M163.10 261.5v-3.0M163.10 2.5v3.0M168.50 261.5v-3.0M168.50 2.5v3.0M173.90 261.5v-3.0M173.90 2.5v3.0M179.30 261.5v-3.0M179.30 2.5v3.0M184.70 261.5v-3.0M184.70 2.5v3.0M190.10 261.5v-3.0M190.10 2.5v3.0M195.50 261.5v-5.5M195.50 2.5v5.5M200.90 261.5v-3.0M200.90 2.5v3.0M206.30 261.5v-3.0M206.30 2.5v3.0M211.70 261.5v-3.0M211.70 2.5v3.0M217.10 261.5v-3.0M217.10 2.5v3.0M222.50 261.5v-3.0M222.50 2.5v3.0M227.90 261.5v-3.0M227.90 2.5v3.0M233.30 261.5v-3.0M233.30 2.5v3.0M238.70 261.5v-3.0M238.70 2.5v3.0M244.10 261.5v-3.0M244.10 2.5v3.0M249.50 261.5v-5.5M249.50 2.5v5.5M254.90 261.5v-3.0M254.90 2.5v3.0M260.30 261.5v-3.0M260.30 2.5v3.0M265.70 261.5v-3.0M265.70 2.5v3.0M271.10 261.5v-3.0M271.10 2.5v3.0M276.50 261.5v-3.0M276.50 2.5v3.0M281.90 261.5v-3.0M281.90 2.5v3.0M287.30 261.5v-3.0M287.30 2.5v3.0M56.5 261.25h2.5M290.5 261.25h-2.5M56.5 252.67h2.5M290.5 252.67h-2.5M56.5 244.08h2.5M290.5 244.08h-2.5M56.5 235.50h5.0M290.5 235.50h-5.0M56.5 226.92h2.5M290.5 226.92h-2.5M56.5 218.33h2.5M290.5 218.33h-2.5M56.5 209.75h2.5M290.5 209.75h-2.5M56.5 201.17h5.0M290.5 201.17h-5.0M56.5 192.58h2.5M290.5 192.58h-2.5M56.5 184.00h2.5M290.5 184.00h-2.5M56.5 175.42h2.5M290.5 175.42h-2.5M56.5 166.83h5.0M290.5 166.83h-5.0M56.5 158.25h2.5M290.5 158.25h-2.5M56.5 149.67h2.5M290.5 149.67h-2.5M56.5 141.08h2.5M290.5 141.08h-2.5M56.5 132.50h5.0M290.5 132.50h-5.0M56.5 123.92h2.5M290.5 123.92h-2.5M56.5 115.33h2.5M290.5 115.33h-2.5M56.5 106.75h2.5M290.5 106.75h-2.5M56.5 98.17h5.0M290.5 98.17h-5.0M56.5 89.58h2.5M290.5 89.58h-2.5M56.5 81.00h2.5M290.5 81.00h-2.5M56.5 72.42h2.5M290.5 72.42h-2.5M56.5 63.83h5.0M290.5 63.83h-5.0M56.5 55.25h2.5M290.5 55.25h-2.5M56.5 46.67h2.5M290.5 46.67h-2.5M56.5 38.08h2.5M290.5 38.08h-2.5M56.5 29.50h5.0M290.5 29.50h-5.0M56.5 20.92h2.5M290.5 20.92h-2.5M56.5 12.33h2.5M290.5 12.33h-2.5M56.5 3.75h2.5M290.5 3.75h-2.5" stroke="#3a3a3a" stroke-width="1" fill="none"/>
<path d="M398.5 2.5H632.5V261.5H398.5Z" fill="none" stroke="#3a3a3a" stroke-width="1"/>
<path d="M402.50 261.5v-3.0M402.50 2.5v3.0M407.90 261.5v-3.0M407.90 2.5v3.0M413.30 261.5v-3.0M413.30 2.5v3.0M418.70 261.5v-3.0M418.70 2.5v3.0M424.10 261.5v-3.0M424.10 2.5v3.0M429.50 261.5v-5.5M429.50 2.5v5.5M434.90 261.5v-3.0M434.90 2.5v3.0M440.30 261.5v-3.0M440.30 2.5v3.0M445.70 261.5v-3.0M445.70 2.5v3.0M451.10 261.5v-3.0M451.10 2.5v3.0M456.50 261.5v-3.0M456.50 2.5v3.0M461.90 261.5v-3.0M461.90 2.5v3.0M467.30 261.5v-3.0M467.30 2.5v3.0M472.70 261.5v-3.0M472.70 2.5v3.0M478.10 261.5v-3.0M478.10 2.5v3.0M483.50 261.5v-5.5M483.50 2.5v5.5M488.90 261.5v-3.0M488.90 2.5v3.0M494.30 261.5v-3.0M494.30 2.5v3.0M499.70 261.5v-3.0M499.70 2.5v3.0M505.10 261.5v-3.0M505.10 2.5v3.0M510.50 261.5v-3.0M510.50 2.5v3.0M515.90 261.5v-3.0M515.90 2.5v3.0M521.30 261.5v-3.0M521.30 2.5v3.0M526.70 261.5v-3.0M526.70 2.5v3.0M532.10 261.5v-3.0M532.10 2.5v3.0M537.50 261.5v-5.5M537.50 2.5v5.5M542.90 261.5v-3.0M542.90 2.5v3.0M548.30 261.5v-3.0M548.30 2.5v3.0M553.70 261.5v-3.0M553.70 2.5v3.0M559.10 261.5v-3.0M559.10 2.5v3.0M564.50 261.5v-3.0M564.50 2.5v3.0M569.90 261.5v-3.0M569.90 2.5v3.0M575.30 261.5v-3.0M575.30 2.5v3.0M580.70 261.5v-3.0M580.70 2.5v3.0M586.10 261.5v-3.0M586.10 2.5v3.0M591.50 261.5v-5.5M591.50 2.5v5.5M596.90 261.5v-3.0M596.90 2.5v3.0M602.30 261.5v-3.0M602.30 2.5v3.0M607.70 261.5v-3.0M607.70 2.5v3.0M613.10 261.5v-3.0M613.10 2.5v3.0M618.50 261.5v-3.0M618.50 2.5v3.0M623.90 261.5v-3.0M623.90 2.5v3.0M629.30 261.5v-3.0M629.30 2.5v3.0M398.5 261.25h2.5M632.5 261.25h-2.5M398.5 252.67h2.5M632.5 252.67h-2.5M398.5 244.08h2.5M632.5 244.08h-2.5M398.5 235.50h5.0M632.5 235.50h-5.0M398.5 226.92h2.5M632.5 226.92h-2.5M398.5 218.33h2.5M632.5 218.33h-2.5M398.5 209.75h2.5M632.5 209.75h-2.5M398.5 201.17h5.0M632.5 201.17h-5.0M398.5 192.58h2.5M632.5 192.58h-2.5M398.5 184.00h2.5M632.5 184.00h-2.5M398.5 175.42h2.5M632.5 175.42h-2.5M398.5 166.83h5.0M632.5 166.83h-5.0M398.5 158.25h2.5M632.5 158.25h-2.5M398.5 149.67h2.5M632.5 149.67h-2.5M398.5 141.08h2.5M632.5 141.08h-2.5M398.5 132.50h5.0M632.5 132.50h-5.0M398.5 123.92h2.5M632.5 123.92h-2.5M398.5 115.33h2.5M632.5 115.33h-2.5M398.5 106.75h2.5M632.5 106.75h-2.5M398.5 98.17h5.0M632.5 98.17h-5.0M398.5 89.58h2.5M632.5 89.58h-2.5M398.5 81.00h2.5M632.5 81.00h-2.5M398.5 72.42h2.5M632.5 72.42h-2.5M398.5 63.83h5.0M632.5 63.83h-5.0M398.5 55.25h2.5M632.5 55.25h-2.5M398.5 46.67h2.5M632.5 46.67h-2.5M398.5 38.08h2.5M632.5 38.08h-2.5M398.5 29.50h5.0M632.5 29.50h-5.0M398.5 20.92h2.5M632.5 20.92h-2.5M398.5 12.33h2.5M632.5 12.33h-2.5M398.5 3.75h2.5M632.5 3.75h-2.5" stroke="#3a3a3a" stroke-width="1" fill="none"/>
<path d="M299.5 63.3h2M313.5 63.3h-2M299.5 88.8h2M313.5 88.8h-2M299.5 114.3h2M313.5 114.3h-2M299.5 139.8h2M313.5 139.8h-2M299.5 165.4h2M313.5 165.4h-2M299.5 190.9h2M313.5 190.9h-2M299.5 216.4h2M313.5 216.4h-2" stroke="#3a3a3a" stroke-width="1"/>
<path d="M641.5 54.8h2M655.5 54.8h-2M641.5 71.8h2M655.5 71.8h-2M641.5 88.8h2M655.5 88.8h-2M641.5 105.8h2M655.5 105.8h-2M641.5 122.8h2M655.5 122.8h-2M641.5 139.8h2M655.5 139.8h-2M641.5 156.9h2M655.5 156.9h-2M641.5 173.9h2M655.5 173.9h-2M641.5 190.9h2M655.5 190.9h-2M641.5 207.9h2M655.5 207.9h-2M641.5 224.9h2M655.5 224.9h-2" stroke="#3a3a3a" stroke-width="1"/>
<text transform="translate(54.0 34.7)" text-anchor="end" class="t">60</text>
<text transform="translate(54.0 69.0)" text-anchor="end" class="t">40</text>
<text transform="translate(54.0 103.4)" text-anchor="end" class="t">20</text>
<text transform="translate(54.0 137.7)" text-anchor="end" class="t">0</text>
<text transform="translate(54.0 172.0)" text-anchor="end" class="t">−20</text>
<text transform="translate(54.0 206.4)" text-anchor="end" class="t">−40</text>
<text transform="translate(54.0 240.7)" text-anchor="end" class="t">−60</text>
<text transform="translate(88.3 281.2)" text-anchor="middle" class="t">10</text>
<text transform="translate(142.3 281.2)" text-anchor="middle" class="t">20</text>
<text transform="translate(196.3 281.2)" text-anchor="middle" class="t">30</text>
<text transform="translate(250.3 281.2)" text-anchor="middle" class="t">40</text>
<text x="146.0" y="296" class="t" style="letter-spacing:1.5px">Δ (deg)</text>
<text transform="translate(13.6 131) rotate(-90)" text-anchor="middle" class="t"><tspan font-style="italic">ϕ</tspan> (deg)</text>
<text transform="translate(244.6 26.0)" class="p">(a)</text>
<text transform="translate(315.6 45.6)" class="s">5.0</text>
<text transform="translate(315.6 92.8)" class="s">2.5</text>
<text transform="translate(315.6 143.8)" class="s">0</text>
<text transform="translate(315.6 194.9)" class="s">−2.5</text>
<text transform="translate(315.6 242.8)" class="s">−5.0</text>
<text transform="translate(299.0 258.5)" class="s">(sec)</text>
<text transform="translate(396.0 34.7)" text-anchor="end" class="t">60</text>
<text transform="translate(396.0 69.0)" text-anchor="end" class="t">40</text>
<text transform="translate(396.0 103.4)" text-anchor="end" class="t">20</text>
<text transform="translate(396.0 137.7)" text-anchor="end" class="t">0</text>
<text transform="translate(396.0 172.0)" text-anchor="end" class="t">−20</text>
<text transform="translate(396.0 206.4)" text-anchor="end" class="t">−40</text>
<text transform="translate(396.0 240.7)" text-anchor="end" class="t">−60</text>
<text transform="translate(430.3 281.2)" text-anchor="middle" class="t">10</text>
<text transform="translate(484.3 281.2)" text-anchor="middle" class="t">20</text>
<text transform="translate(538.3 281.2)" text-anchor="middle" class="t">30</text>
<text transform="translate(592.3 281.2)" text-anchor="middle" class="t">40</text>
<text x="488.0" y="296" class="t" style="letter-spacing:1.5px">Δ (deg)</text>
<text transform="translate(356.1 131) rotate(-90)" text-anchor="middle" class="t"><tspan font-style="italic">λ</tspan> (deg)</text>
<text transform="translate(586.6 26.0)" class="p">(b)</text>
<text transform="translate(657.6 45.6)" class="s">1.5</text>
<text transform="translate(657.6 75.8)" class="s">1.0</text>
<text transform="translate(657.6 109.8)" class="s">0.5</text>
<text transform="translate(657.6 143.8)" class="s">0</text>
<text transform="translate(657.6 177.9)" class="s">−0.5</text>
<text transform="translate(657.6 211.9)" class="s">−1.0</text>
<text transform="translate(657.6 242.8)" class="s">−1.5</text>
<text transform="translate(641.0 258.5)" class="s">(sec)</text>
</svg>
</body></html>
